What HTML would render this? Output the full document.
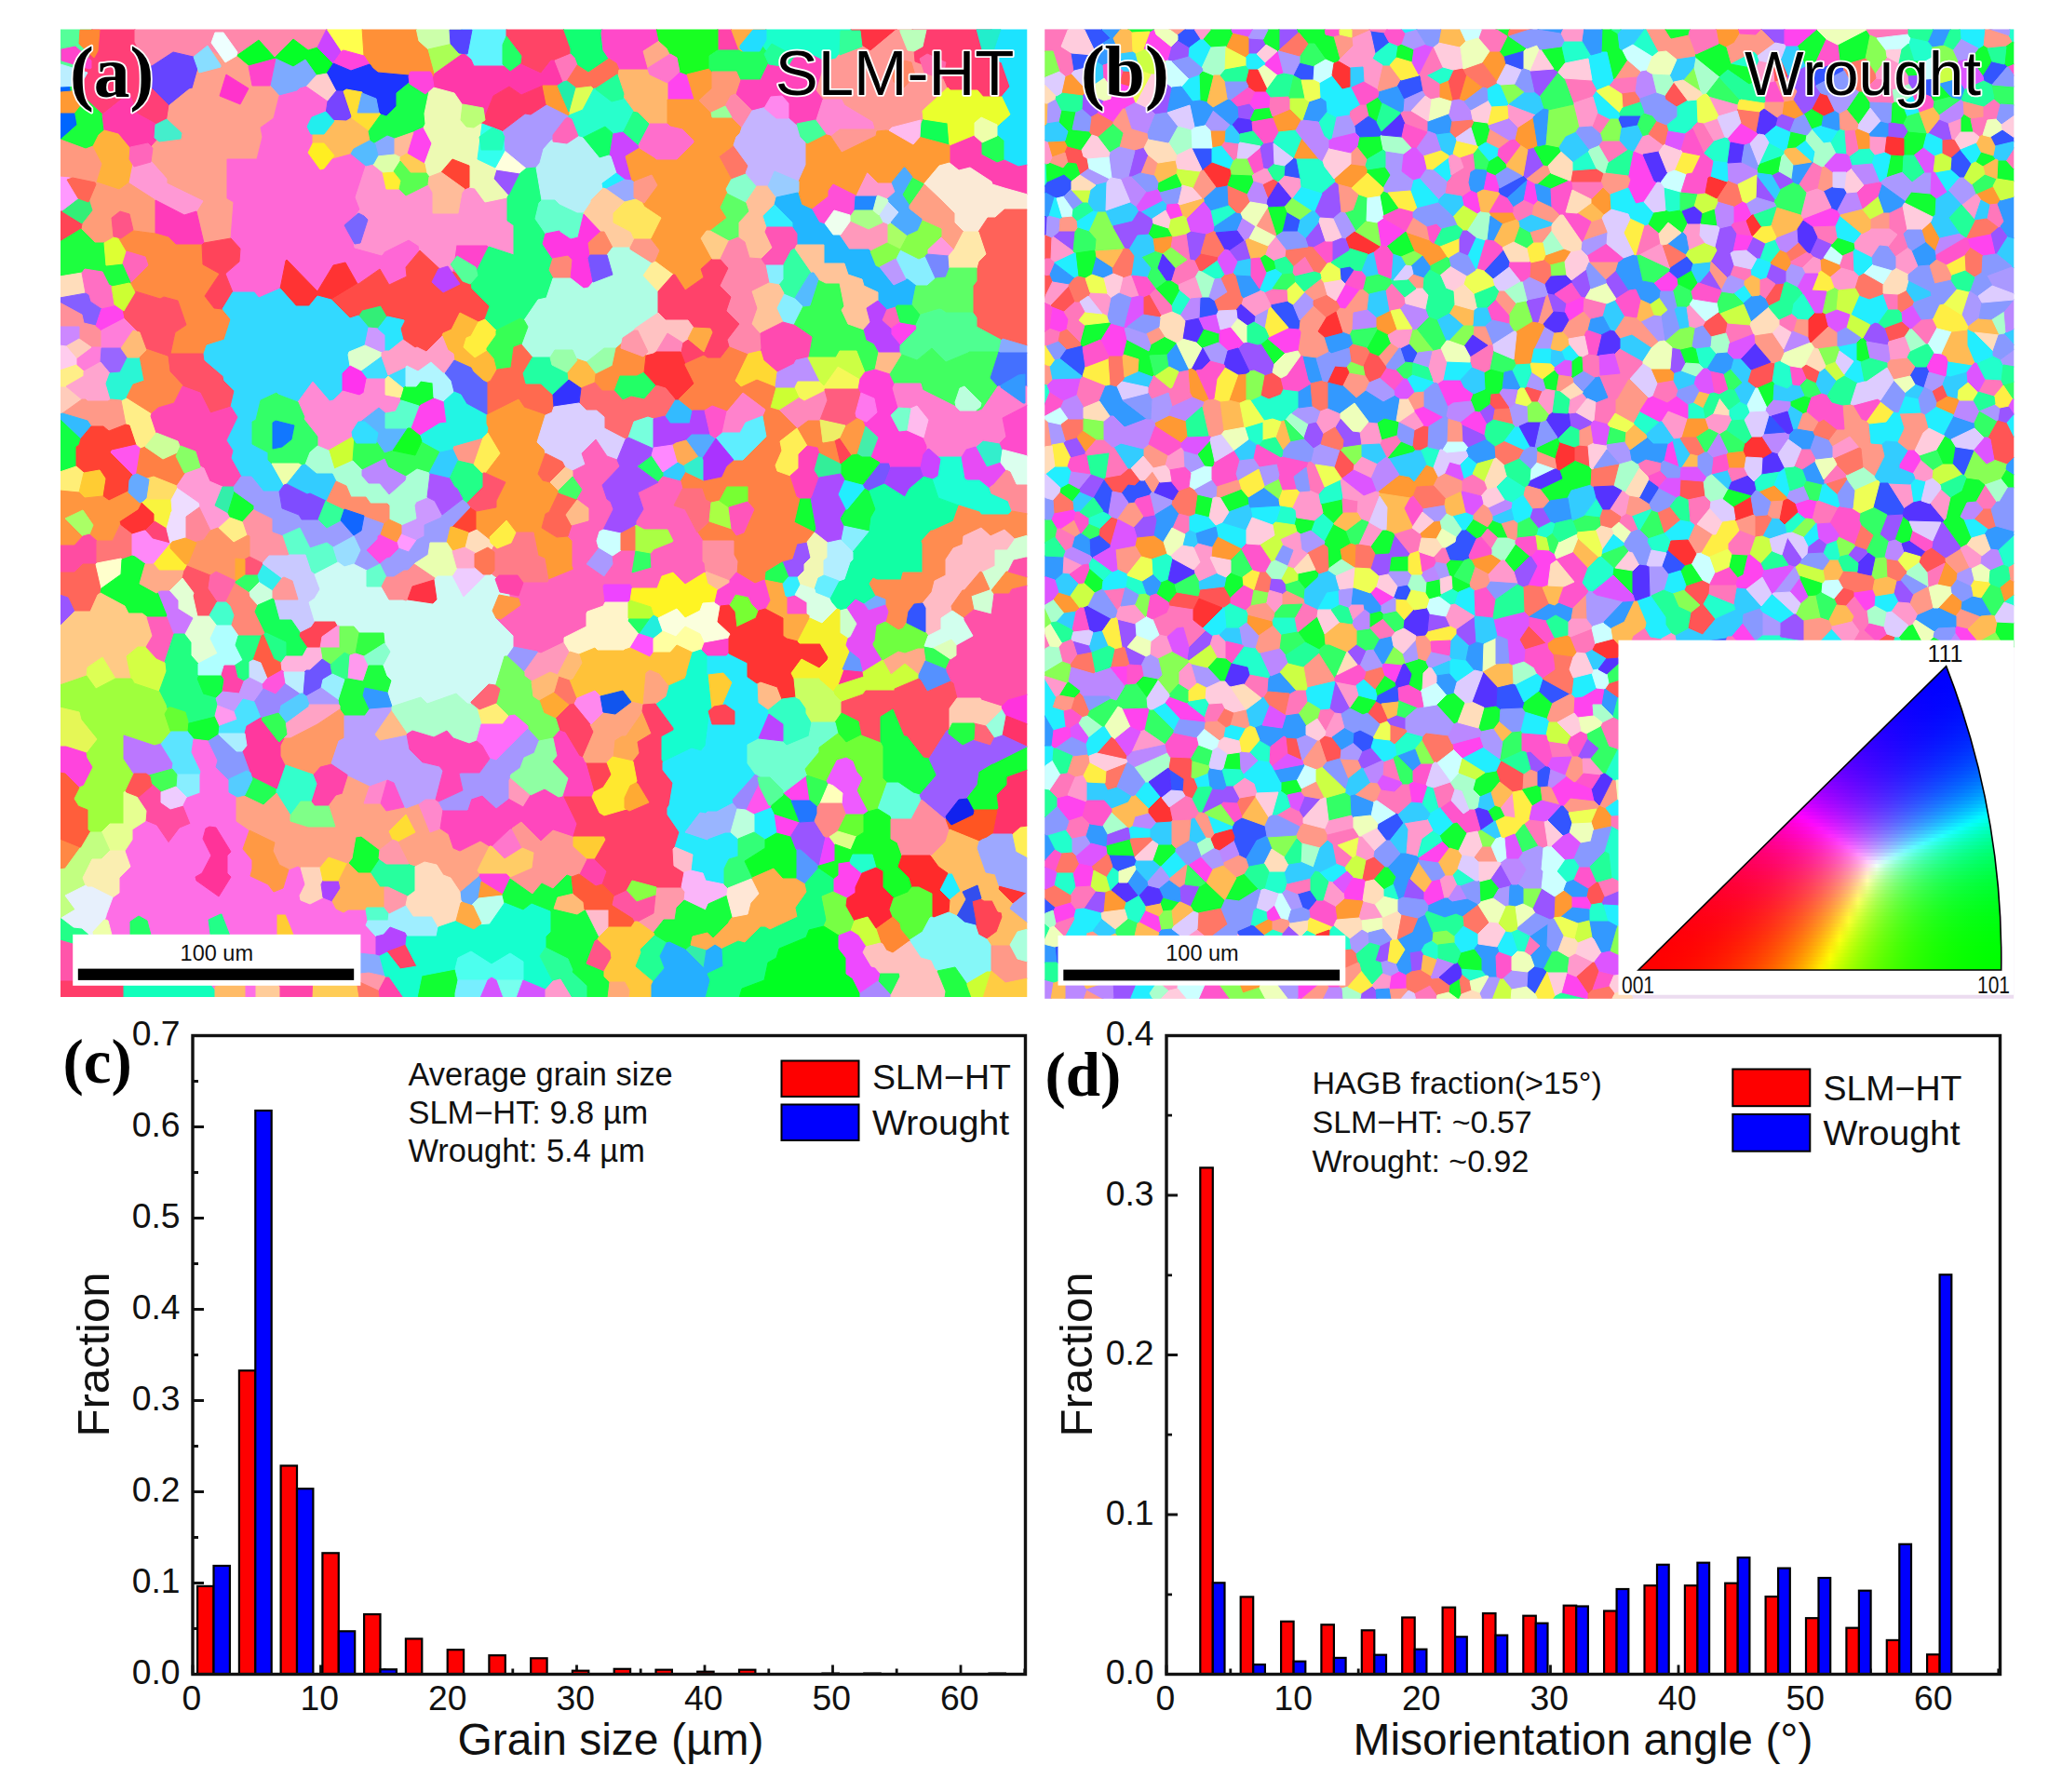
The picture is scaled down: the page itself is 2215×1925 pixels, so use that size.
<!DOCTYPE html>
<html><head><meta charset="utf-8"><title>EBSD figure</title>
<style>html,body{margin:0;padding:0;background:#fff}body{width:2215px;height:1925px;position:relative;overflow:hidden}#ipf{position:absolute;left:1756px;top:712px;width:400px;height:332px;clip-path:path("M4.0 330.0 L334.6 3.6 A868 868 0 0 1 393.7 330.0 Z");overflow:hidden}#ipf i{display:block;height:4px;width:400px}</style></head>
<body>
<svg width="2215" height="1925" viewBox="0 0 2215 1925" style="position:absolute;left:0;top:0"><defs><clipPath id="ca"><rect x="65" y="31.4" width="1038.2" height="1039.6"/></clipPath><clipPath id="cb"><rect x="1122.3" y="31.4" width="1040.9" height="1041.4"/></clipPath></defs>
<g clip-path="url(#ca)" stroke-width="1" stroke-linejoin="round"><path fill="#55ff99" stroke="#55ff99" d="M71 85 92 72 96 61 99 30 64 30 64 85Z"/><path fill="#ff3f77" stroke="#ff3f77" d="M99 30 96 61 92 72 71 85 75 90 110 123 139 100 147 122 178 139 182 113 151 82 158 72 145 45 145 30Z"/><path fill="#ff88ab" stroke="#ff88ab" d="M341 51 351 31 351 30 314 30 278 30 230 30 183 30 145 30 145 45 158 72 163 71 186 56 216 63 229 56 236 60 254 60 278 43 295 62 315 42 331 54Z"/><path fill="#6644ff" stroke="#6644ff" d="M216 63 186 56 163 71 158 72 151 82 182 113 203 96 207 95Z"/><path fill="#05ff27" stroke="#05ff27" d="M278 43 254 60 267 71 296 63 296 63 315 72 328 64 340 81 351 79 358 68 358 68 341 51 331 54 315 42 295 62Z"/><path fill="#cc44ff" stroke="#cc44ff" d="M341 51 358 68 367 55 351 31ZM686 156 669 141 658 143 654 167 656 168 662 186 671 193 679 194 672 168 687 159Z"/><path fill="#ffff4d" stroke="#ffff4d" d="M351 30 351 31 367 55 369 54 391 60 389 30 381 30Z"/><path fill="#ff9037" stroke="#ff9037" d="M447 30 419 30 389 30 391 60 397 69 398 70 400 73 406 78 439 81 443 86 462 93 467 79 460 53 450 44Z"/><path fill="#ff44dd" stroke="#ff44dd" d="M367 55 358 68 358 68 377 76 397 69 391 60 369 54ZM93 808 71 801 64 801 64 830 70 831 85 846 90 844 100 824 94 814ZM548 944 548 942 544 938 515 938 514 941 517 947 540 961Z"/><path fill="#7daaff" stroke="#7daaff" d="M329 93 340 81 328 64 315 72 296 63 290 92 300 103 319 98 322 95Z"/><path fill="#1b34ff" stroke="#1b34ff" d="M361 98 369 98 372 96 389 99 389 100 404 106 407 121 409 123 415 125 426 114 426 100 443 86 439 81 406 78 400 73 398 70 397 69 377 76 358 68 351 79Z"/><path fill="#ffcccc" stroke="#ffcccc" d="M361 98 351 79 340 81 329 93 352 109Z"/><path fill="#ffa18d" stroke="#ffa18d" d="M229 56 216 63 207 95 203 96 182 113 178 139 178 139 155 165 179 192 179 197 218 216 211 227 219 261 248 256 251 217 244 213 244 171 276 171 282 147 280 137 294 127 300 103 290 92 271 92 267 71 254 60 236 60ZM243 80 267 95 258 112 236 103Z"/><path fill="#ff33cc" stroke="#ff33cc" d="M243 80 236 103 258 112 267 95Z"/><path fill="#ff44cc" stroke="#ff44cc" d="M271 92 290 92 296 63 296 63 267 71ZM523 263 490 263 486 292 505 299 509 297 525 265ZM756 690 753 698 760 705 780 705 783 702 783 685Z"/><path fill="#0066ff" stroke="#0066ff" d="M75 90 71 85 64 85 64 150 65 150 83 134Z"/><path fill="#1aff3c" stroke="#1aff3c" d="M112 140 110 123 75 90 83 134 65 150 92 160 100 157 106 145Z"/><path fill="#ff3baa" stroke="#ff3baa" d="M127 144 146 167 155 165 178 139 178 139 147 122 139 100 110 123 112 140Z"/><path fill="#ff67d6" stroke="#ff67d6" d="M282 147 276 171 244 171 244 213 251 217 248 256 258 267 257 281 242 294 250 314 273 314 278 320 301 310 307 280 308 279 341 313 358 285 371 282 384 305 385 305 408 289 418 306 437 297 436 287 451 269 450 264 439 257 413 270 410 274 381 266 376 239 387 225 382 212 395 172 395 169 394 168 379 164 346 173 336 160 336 141 338 137 349 129 352 109 329 93 322 95 319 98 300 103 294 127 280 137Z"/><path fill="#7744ff" stroke="#7744ff" d="M369 98 361 98 352 109 349 129 372 130 377 127 378 125Z"/><path fill="#ffde33" stroke="#ffde33" d="M369 98 378 125 377 127 396 141 409 123 407 121 384 121 389 100 389 99 372 96Z"/><path fill="#66aaff" stroke="#66aaff" d="M389 100 384 121 407 121 404 106ZM514 965 517 947 514 941 494 958 495 967 502 977Z"/><path fill="#ffbb5c" stroke="#ffbb5c" d="M394 168 399 156 396 141 377 127 372 130 349 129 338 137 336 141 336 160 346 173 379 164Z"/><path fill="#18ff4b" stroke="#18ff4b" d="M426 100 426 114 415 125 409 123 396 141 399 156 416 146 424 149 444 142 446 141 455 137 457 133 456 122 462 93 462 93 443 86Z"/><path fill="#ff997f" stroke="#ff997f" d="M64 190 75 191 93 201 104 196 110 176 100 157 92 160 65 150 64 150Z"/><path fill="#ffb23b" stroke="#ffb23b" d="M110 176 104 196 128 204 139 196 144 171 146 167 127 144 112 140 106 145 100 157Z"/><path fill="#ff99ff" stroke="#ff99ff" d="M93 207 93 201 75 191 64 190 64 227 67 227ZM428 589 439 593 448 580 431 573 426 582Z"/><path fill="#ff9d78" stroke="#ff9d78" d="M128 204 104 196 93 201 93 207 99 226 88 240 87 246 102 261 112 261 126 253 129 246 167 251 167 215 167 214 139 196Z"/><path fill="#ff99d5" stroke="#ff99d5" d="M155 165 146 167 144 171 139 196 167 214 167 215 198 231 211 227 218 216 179 197 179 192Z"/><path fill="#ff92d0" stroke="#ff92d0" d="M382 212 387 225 376 239 381 266 410 274 413 270 439 257 450 264 451 269 479 295 486 292 490 263 523 263 525 265 552 274 552 274 552 242 545 237 545 212 521 217 510 202 504 201 499 203 496 207 492 229 465 229 465 207 460 198 436 210 429 203 415 203 411 185 395 172Z"/><path fill="#ff4455" stroke="#ff4455" d="M64 260 87 246 88 240 67 227 64 227ZM915 489 902 470 896 473 902 498 903 499ZM338 667 334 673 322 679 321 683 330 696 344 696 346 684 363 672 360 667ZM657 832 652 819 629 819 638 851 648 846ZM1044 968 1048 991 1048 994 1048 995 1051 1004 1060 1009 1071 1001 1077 985 1076 980 1072 979 1066 967 1057 967 1054 965Z"/><path fill="#33ee77" stroke="#33ee77" d="M88 240 99 226 93 207 67 227ZM385 339 396 352 406 353 416 340 409 328 389 333Z"/><path fill="#1dff3f" stroke="#1dff3f" d="M64 260 64 266 64 297 88 293 91 289 110 292 117 306 134 314 139 311 141 303 132 283 114 285 112 261 102 261 87 246Z"/><path fill="#ff3bba" stroke="#ff3bba" d="M167 215 167 251 167 251 181 255 189 263 217 263 219 261 211 227 198 231Z"/><path fill="#ddff33" stroke="#ddff33" d="M136 270 126 253 112 261 114 285 132 283Z"/><path fill="#ff8b41" stroke="#ff8b41" d="M126 253 136 270 156 276 159 285 141 303 139 311 172 321 176 319 191 323 200 349 188 357 183 380 219 380 222 371 241 365 248 343 239 332 230 331 220 318 236 294 218 284 217 263 189 263 181 255 167 251 167 251 129 246Z"/><path fill="#ff66bb" stroke="#ff66bb" d="M159 285 156 276 136 270 132 283 141 303ZM947 344 957 353 967 346 962 329 952 332Z"/><path fill="#ff445a" stroke="#ff445a" d="M258 267 248 256 219 261 217 263 218 284 236 294 220 318 230 331 239 332 250 314 242 294 257 281Z"/><path fill="#ffddbb" stroke="#ffddbb" d="M88 293 64 297 64 320 92 315ZM499 588 523 601 532 584 512 568 503 572Z"/><path fill="#ff6fc3" stroke="#ff6fc3" d="M92 315 95 317 97 324 109 332 131 327 134 314 117 306 110 292 91 289 88 293Z"/><path fill="#855fff" stroke="#855fff" d="M92 315 64 320 64 325 88 338 90 347 103 350 109 332 97 324 95 317Z"/><path fill="#ff909a" stroke="#ff909a" d="M88 338 64 325 64 351 85 351 85 364 98 373 109 373 109 355 103 350 90 347Z"/><path fill="#ff44ee" stroke="#ff44ee" d="M746 107 738 80 730 77 717 89 717 107ZM456 176 464 154 455 137 446 141 444 142 437 165ZM109 332 103 350 109 355 134 342 131 327ZM451 468 472 455 480 454 477 431 466 427 452 434 451 435 450 436 441 460ZM859 883 859 883 831 874 834 895 849 899ZM967 346 957 353 957 359 967 371 985 353 984 349ZM850 860 870 860 866 833 841 852ZM900 940 895 944 895 958 910 965 919 959 919 953 926 938 914 928 913 925 900 927Z"/><path fill="#cc88ff" stroke="#cc88ff" d="M71 372 85 364 85 351 64 351 64 371Z"/><path fill="#ff7eda" stroke="#ff7eda" d="M148 356 134 342 109 355 109 373 98 373 82 385 82 392 90 399 108 389 109 374 142 374 147 372Z"/><path fill="#ffccbb" stroke="#ffccbb" d="M85 364 71 372 82 385 98 373ZM71 415 64 415 64 445 67 444 88 429Z"/><path fill="#ff5167" stroke="#ff5167" d="M134 314 131 327 134 342 148 356 147 372 148 372 180 383 182 399 196 414 196 415 215 422 226 444 248 437 252 420 241 409 240 404 220 387 219 380 183 380 188 357 200 349 191 323 176 319 172 321 139 311Z"/><path fill="#ff3333" stroke="#ff3333" d="M371 282 358 285 341 313 308 279 307 280 301 310 318 329 332 329 341 318 356 322 384 305ZM148 547 128 560 129 564 142 574 155 570 156 570 166 560 166 552 152 539ZM1073 951 1072 955 1088 971 1103 959Z"/><path fill="#ff4b47" stroke="#ff4b47" d="M384 305 356 322 376 342 385 339 389 333 409 328 416 340 434 344 434 345 430 353 433 365 446 374 448 373 458 378 475 361 476 358 485 354 494 336 514 346 521 343 526 329 507 310 505 299 486 292 479 295 451 269 436 287 437 297 418 306 408 289 385 305Z"/><path fill="#33d9ff" stroke="#33d9ff" d="M222 371 219 380 220 387 240 404 241 409 252 420 248 437 255 448 243 473 250 484 248 492 259 512 270 512 283 528 300 528 305 521 292 498 288 494 288 486 271 477 271 453 275 451 280 430 297 422 299 424 320 432 336 410 354 431 358 430 368 420 368 401 376 393 374 381 375 378 392 371 396 352 385 339 376 342 356 322 341 318 332 329 318 329 301 310 278 320 273 314 250 314 239 332 248 343 241 365Z"/><path fill="#cc99ff" stroke="#cc99ff" d="M414 360 406 353 396 352 392 371 410 379 414 377ZM475 553 467 538 459 534 447 539 445 543 447 557 431 564 431 573 448 580 456 576 456 564 474 556Z"/><path fill="#ffccee" stroke="#ffccee" d="M82 392 82 385 71 372 64 371 64 398Z"/><path fill="#9966ff" stroke="#9966ff" d="M129 400 142 374 109 374 108 389 118 401Z"/><path fill="#ffee88" stroke="#ffee88" d="M64 415 71 415 90 404 90 399 82 392 64 398ZM139 457 146 478 151 482 156 480 168 465 162 447 163 444 136 427 130 430 135 456ZM247 555 234 567 251 583 266 575 261 560Z"/><path fill="#ffa5cf" stroke="#ffa5cf" d="M90 399 90 404 71 415 88 429 92 429 94 431 116 431 119 429 114 412 118 401 108 389Z"/><path fill="#2af6d5" stroke="#2af6d5" d="M155 409 148 372 147 372 142 374 129 400 118 401 114 412 119 429 130 430 136 427 143 413Z"/><path fill="#ff8849" stroke="#ff8849" d="M155 409 143 413 136 427 163 444 170 438 187 433 196 415 196 414 182 399 180 383 148 372Z"/><path fill="#ff49b2" stroke="#ff49b2" d="M187 433 170 438 163 444 162 447 168 465 191 474 195 484 204 491 207 497 219 503 225 517 239 523 251 523 259 512 248 492 250 484 243 473 255 448 248 437 226 444 215 422 196 415Z"/><path fill="#ddffcc" stroke="#ddffcc" d="M410 379 392 371 375 378 374 381 376 393 388 399 410 383Z"/><path fill="#3eddff" stroke="#3eddff" d="M394 407 414 407 417 404 433 417 436 415 436 394 417 403 410 383 388 399Z"/><path fill="#ff33ee" stroke="#ff33ee" d="M368 401 368 420 386 425 391 422 394 407 388 399 376 393Z"/><path fill="#ff8ad4" stroke="#ff8ad4" d="M394 407 391 422 386 425 368 420 358 430 354 431 336 410 320 432 327 448 326 450 341 469 341 479 353 484 381 468 382 467 383 466 385 455 407 438 414 444 425 442 431 430 430 427 414 424 414 407Z"/><path fill="#33ff68" stroke="#33ff68" d="M341 479 341 469 326 450 327 448 320 432 299 424 297 422 280 430 275 451 271 453 271 477 288 486 288 494 292 498 321 498 324 500 328 499 333 486ZM316 457 313 472 303 480 293 482 293 454 296 452Z"/><path fill="#ff9988" stroke="#ff9988" d="M709 269 699 256 681 256 676 266 676 268 700 283 704 281ZM67 444 94 452 98 458 111 458 117 463 135 456 130 430 119 429 116 431 94 431 92 429 88 429ZM509 499 519 470 487 479 486 482 492 495ZM1066 1044 1080 1056 1104 1051 1104 1033 1093 1030 1085 1015 1064 1015 1064 1043 1065 1043Z"/><path fill="#11ff44" stroke="#11ff44" d="M64 507 82 501 82 480 85 478 87 471 64 449 64 480ZM910 547 908 547 902 557 906 565 934 571 934 571 936 556 941 547 934 527 929 524ZM213 725 211 729 218 746 232 750 239 743 241 730 238 725Z"/><path fill="#33bbff" stroke="#33bbff" d="M725 429 714 447 720 455 741 455 744 441 729 429ZM98 458 94 452 67 444 64 445 64 449 87 471Z"/><path fill="#ff4233" stroke="#ff4233" d="M135 456 117 463 111 458 98 458 87 471 85 478 82 480 82 501 90 508 107 505 113 514 110 533 117 538 148 523 148 517 146 514 146 513 119 486 120 484 146 478 139 457Z"/><path fill="#ff55ee" stroke="#ff55ee" d="M151 482 146 478 120 484 119 486 146 513ZM818 835 801 870 810 875 828 868 834 852 822 836Z"/><path fill="#ff8044" stroke="#ff8044" d="M146 514 148 517 165 512 190 522 207 497 204 491 195 484 175 493 156 480 151 482 146 513Z"/><path fill="#ccff99" stroke="#ccff99" d="M168 465 156 480 175 493 195 484 191 474Z"/><path fill="#1177ff" stroke="#1177ff" d="M293 482 303 480 313 472 316 457 296 452 293 454Z"/><path fill="#eeffaa" stroke="#eeffaa" d="M321 498 292 498 305 521 308 520 324 500Z"/><path fill="#5cb4ff" stroke="#5cb4ff" d="M414 444 407 438 385 455 383 466 402 471 413 487 422 484 438 460 414 460Z"/><path fill="#ccff33" stroke="#ccff33" d="M837 441 859 427 854 416 833 416 827 438ZM359 504 379 495 381 468 353 484ZM1060 1043 1038 1056 1038 1058 1043 1072 1056 1072 1065 1043 1064 1043Z"/><path fill="#33ff55" stroke="#33ff55" d="M980 190 969 209 977 221 993 198 993 197ZM402 471 383 466 382 467 381 468 379 495 389 505 413 493 417 502 436 512 448 504 461 508 473 485 453 474 446 489 422 484 413 487ZM1021 708 1003 696 993 694 992 696 994 710 1016 719ZM870 860 878 867 881 863 890 842 888 839 867 832 866 833Z"/><path fill="#aaffd5" stroke="#aaffd5" d="M333 486 328 499 340 509 357 509 361 517 372 522 377 534 393 534 398 541 416 541 418 543 418 558 431 564 447 557 445 543 447 539 459 534 462 509 461 508 448 504 436 512 435 516 418 531 408 519 396 519 389 511 389 505 379 495 359 504 353 484 341 479Z"/><path fill="#bb88ff" stroke="#bb88ff" d="M408 519 418 531 435 516 436 512 417 502 413 493 389 505 389 511 396 519Z"/><path fill="#33ccff" stroke="#33ccff" d="M461 508 462 509 483 514 492 495 486 482 473 485ZM728 496 712 507 712 512 731 517 737 507 735 500ZM308 520 330 531 333 530 350 538 351 538 361 517 357 509 340 509 328 499 324 500Z"/><path fill="#ffee77" stroke="#ffee77" d="M64 507 64 527 85 529 90 508 82 501ZM517 778 540 778 547 769 526 748 511 757Z"/><path fill="#ffcc33" stroke="#ffcc33" d="M85 529 91 535 110 533 113 514 107 505 90 508ZM775 761 787 733 777 722 760 724 764 762ZM651 902 649 898 616 898 615 899 615 909 630 923 639 923ZM297 982 297 1019 320 1014 307 982Z"/><path fill="#ff963f" stroke="#ff963f" d="M148 523 117 538 110 533 91 535 85 529 64 527 64 557 64 586 80 586 89 576 70 557 89 548 100 564 96 574 104 581 121 581 129 564 128 560 148 547 152 539 152 537Z"/><path fill="#aaff66" stroke="#aaff66" d="M953 241 953 261 967 268 975 253 957 239ZM70 557 89 576 96 574 100 564 89 548Z"/><path fill="#ffdd66" stroke="#ffdd66" d="M184 537 191 524 190 522 165 512 148 517 148 523 152 537Z"/><path fill="#f9f43e" stroke="#f9f43e" d="M184 537 152 537 152 539 166 552 166 560 179 568 184 550 185 549Z"/><path fill="#ff4477" stroke="#ff4477" d="M166 560 156 570 164 579 183 584 183 584 179 568Z"/><path fill="#eeddff" stroke="#eeddff" d="M215 543 214 540 191 524 184 537 185 549 184 550 179 568 183 584 198 586 200 585 200 555 214 545Z"/><path fill="#ff9bd6" stroke="#ff9bd6" d="M207 497 190 522 191 524 214 540 215 543 214 545 226 570 234 567 247 555 245 551 231 543 239 523 225 517 219 503Z"/><path fill="#ff8899" stroke="#ff8899" d="M200 585 219 580 226 570 214 545 200 555Z"/><path fill="#33eeaa" stroke="#33eeaa" d="M239 523 231 543 245 551 252 528 251 523ZM736 1020 756 1040 759 1020 742 1015Z"/><path fill="#11ff33" stroke="#11ff33" d="M433 417 430 427 431 430 450 436 451 435 452 434 466 427 465 411 452 409 447 415 436 415ZM273 543 252 528 245 551 247 555 261 560 273 547ZM224 796 235 789 235 788 236 780 231 769 195 778 208 794ZM374 927 385 938 398 938 408 923 407 922 408 913 388 898 382 899 378 922ZM489 1072 489 1067 492 1053 489 1041 453 1048 448 1072ZM853 561 875 572 877 568 871 535 859 535ZM1066 820 1051 829 1049 843 1035 861 1035 862 1046 870 1071 870 1073 868 1071 854 1082 843 1082 835 1104 827 1104 802 1103 802 1067 820ZM841 852 834 852 828 868 831 874 859 883 850 860Z"/><path fill="#ff94a3" stroke="#ff94a3" d="M293 557 273 547 261 560 266 575 268 576 268 598 282 605 289 597 309 597 311 596 304 575 293 571Z"/><path fill="#9b9dff" stroke="#9b9dff" d="M273 543 273 547 293 557 293 571 304 575 322 567 333 589 351 583 358 588 380 576 387 591 380 606 394 613 408 606 415 620 423 620 434 613 438 613 445 606 446 605 460 596 462 583 480 583 484 566 486 566 506 545 502 540 497 536 475 553 474 556 456 564 456 576 448 580 439 593 428 589 419 598 415 599 408 605 394 591 406 579 406 576 409 574 413 562 391 554 388 570 380 575 366 559 351 567 342 558 324 558 321 553 303 546 300 528 283 528 270 512 259 512 251 523 252 528Z"/><path fill="#7f4cff" stroke="#7f4cff" d="M300 528 303 546 321 553 324 558 342 558 350 538 333 530 330 531 308 520 305 521Z"/><path fill="#33ff99" stroke="#33ff99" d="M342 558 351 567 366 559 370 547 351 538 350 538Z"/><path fill="#ff8e6c" stroke="#ff8e6c" d="M370 547 391 554 413 562 418 558 418 543 416 541 398 541 393 534 377 534 372 522 361 517 351 538Z"/><path fill="#1166ff" stroke="#1166ff" d="M391 554 370 547 366 559 380 575 388 570Z"/><path fill="#5fffcc" stroke="#5fffcc" d="M322 567 304 575 311 596 328 596 334 614 338 617 363 604 358 588 351 583 333 589Z"/><path fill="#ff4ca2" stroke="#ff4ca2" d="M104 581 96 574 89 576 80 586 64 586 64 615 80 615 89 606 103 606 104 605Z"/><path fill="#ff7677" stroke="#ff7677" d="M129 564 121 581 104 581 104 605 130 600 131 601 142 597 142 574Z"/><path fill="#ff665a" stroke="#ff665a" d="M89 606 80 615 64 615 64 639 73 642 80 657 97 657 105 639 108 637 109 632 103 606Z"/><path fill="#ffffcc" stroke="#ffffcc" d="M131 601 130 600 104 605 103 606 109 632 130 617Z"/><path fill="#ff88f8" stroke="#ff88f8" d="M156 570 155 570 142 574 142 597 145 598 156 606 165 606 183 584 164 579Z"/><path fill="#ffee33" stroke="#ffee33" d="M423 184 411 185 415 203 429 203 431 194ZM198 613 201 608 198 586 183 584 183 584 165 606 171 613Z"/><path fill="#ff9566" stroke="#ff9566" d="M263 601 268 598 268 576 266 575 251 583 234 567 226 570 219 580 200 585 198 586 201 608 226 618 232 614 253 624 253 600Z"/><path fill="#ff5577" stroke="#ff5577" d="M268 598 263 601 263 618 277 618 283 606 282 605Z"/><path fill="#ffaa33" stroke="#ffaa33" d="M253 624 253 625 263 618 263 601 253 600ZM595 743 579 752 584 766 597 772 612 757Z"/><path fill="#11ff36" stroke="#11ff36" d="M145 598 142 597 131 601 130 617 109 632 108 637 134 651 138 659 153 659 158 663 179 663 180 661 170 636 168 637 150 627 156 606Z"/><path fill="#ffab88" stroke="#ffab88" d="M165 606 156 606 150 627 168 637 170 636 173 635 182 635 196 621 198 613 171 613Z"/><path fill="#ff5566" stroke="#ff5566" d="M198 613 196 621 208 637 207 640 212 662 237 662 238 661 239 654 224 632 226 618 201 608Z"/><path fill="#ff66aa" stroke="#ff66aa" d="M253 625 253 624 232 614 226 618 224 632 239 654 240 652 253 626Z"/><path fill="#e3ffd4" stroke="#e3ffd4" d="M196 621 182 635 191 645 191 654 207 664 198 681 205 690 205 704 213 713 234 702 226 686 237 662 212 662 207 640 208 637Z"/><path fill="#cc77ff" stroke="#cc77ff" d="M191 645 182 635 173 635 170 636 180 661 179 663 186 681 187 681 198 681 207 664 191 654Z"/><path fill="#ff8877" stroke="#ff8877" d="M593 277 589 290 594 299 613 299 615 279 610 274ZM268 636 253 626 240 652 239 654 238 661 242 663 256 683 281 683 283 682 285 680 274 657 277 650 269 641Z"/><path fill="#33ff66" stroke="#33ff66" d="M699 594 682 591 682 591 678 615 679 616 700 610ZM253 625 253 626 268 636 279 625 277 618 263 618Z"/><path fill="#ccffdd" stroke="#ccffdd" d="M269 641 277 650 293 643 293 634 279 625 268 636Z"/><path fill="#33eeee" stroke="#33eeee" d="M277 618 279 625 293 634 303 621 283 606Z"/><path fill="#c9c9ff" stroke="#c9c9ff" d="M305 620 314 624 320 644 294 644 300 666 313 666 322 679 334 673 338 667 332 647 338 643 344 633 338 617 334 614 328 596 311 596 309 597 289 597 282 605 283 606 303 621Z"/><path fill="#ff9999" stroke="#ff9999" d="M305 620 303 621 293 634 293 643 294 644 320 644 314 624Z"/><path fill="#99ddff" stroke="#99ddff" d="M380 576 358 588 363 604 370 609 380 606 387 591Z"/><path fill="#ff4ce5" stroke="#ff4ce5" d="M419 598 428 589 426 582 409 574 406 576 406 579 394 591 408 605 415 599Z"/><path fill="#cefaf5" stroke="#cefaf5" d="M394 630 394 613 380 606 370 609 363 604 338 617 344 633 338 643 332 647 338 667 360 667 363 672 365 673 380 673 386 680 412 680 413 691 419 700 411 715 415 726 420 731 416 744 421 759 452 749 459 756 490 745 502 756 511 757 526 748 530 739 532 738 542 705 545 705 552 695 552 683 533 664 533 660 548 641 548 631 525 614 498 641 486 618 470 618 467 621 466 623 469 644 465 648 438 644 436 645 433 644 418 644 410 630Z"/><path fill="#66ffcc" stroke="#66ffcc" d="M394 613 394 630 410 630 415 620 408 606Z"/><path fill="#9955ff" stroke="#9955ff" d="M559 186 533 182 530 192 546 210 547 210ZM851 600 840 603 847 620 857 620 864 613 864 606 871 599 867 582 856 584ZM64 639 64 673 80 657 73 642ZM849 899 854 912 855 913 860 913 879 930 880 930 887 899 885 898 875 882 859 883Z"/><path fill="#ffca86" stroke="#ffca86" d="M108 637 105 639 97 657 80 657 64 673 64 690 64 736 93 726 94 717 110 706 124 729 141 729 136 705 148 695 157 695 164 683 158 663 153 659 138 659 134 651Z"/><path fill="#d4ff44" stroke="#d4ff44" d="M141 729 142 730 144 734 171 743 179 721 178 712 177 711 168 707 157 695 148 695 136 705Z"/><path fill="#ddff55" stroke="#ddff55" d="M611 120 611 124 611 124 626 118 638 95 635 92 618 94ZM94 717 93 726 103 740 124 729 110 706Z"/><path fill="#ff5fbb" stroke="#ff5fbb" d="M164 683 157 695 168 707 177 711 187 681 186 681 179 663 158 663Z"/><path fill="#22ff81" stroke="#22ff81" d="M178 712 179 721 171 743 178 757 179 761 191 773 192 776 195 778 231 769 234 757 232 750 218 746 211 729 213 725 213 713 205 704 205 690 198 681 187 681 177 711Z"/><path fill="#afffff" stroke="#afffff" d="M234 702 213 713 213 725 238 725 241 715 252 715 261 709 253 693 256 683 242 663 238 661 237 662 226 686Z"/><path fill="#22ff82" stroke="#22ff82" d="M253 693 261 709 252 715 255 728 262 732 268 728 268 711 272 709 281 683 256 683Z"/><path fill="#ff44aa" stroke="#ff44aa" d="M771 54 794 54 785 30 771 30ZM239 743 257 745 262 732 255 728 252 715 241 715 238 725 241 730ZM368 853 374 834 374 832 356 820 344 823 336 832 340 842 334 861 338 866 353 866 361 855ZM640 952 647 950 652 936 639 923 630 923 622 939ZM336 1072 337 1047 278 1064 275 1072ZM406 1064 407 1072 434 1072 418 1049 414 1049 414 1049Z"/><path fill="#15ff59" stroke="#15ff59" d="M294 644 293 643 277 650 274 657 285 680 286 680 307 690 307 705 325 705 330 696 321 683 322 679 313 666 300 666Z"/><path fill="#22ff88" stroke="#22ff88" d="M685 120 680 119 669 141 686 156 698 133ZM491 525 497 536 502 540 519 523 519 508 517 507 509 499 492 495 483 514 488 523ZM302 712 307 705 307 690 286 680 285 680 283 682 294 708ZM64 1006 64 1010 106 1022 103 1010 88 997 79 996 66 986 64 986Z"/><path fill="#ff5d44" stroke="#ff5d44" d="M272 709 280 712 287 729 303 720 302 712 294 708 283 682 281 683Z"/><path fill="#ff99dd" stroke="#ff99dd" d="M996 273 1019 275 1025 268 1011 254 996 268ZM363 672 346 684 344 696 365 696 365 673Z"/><path fill="#73ff5b" stroke="#73ff5b" d="M386 680 380 673 365 673 365 696 344 696 346 708 355 714 370 701 376 704 382 702Z"/><path fill="#33ff44" stroke="#33ff44" d="M412 680 386 680 382 702 391 705 413 691Z"/><path fill="#ffb3dd" stroke="#ffb3dd" d="M330 696 325 705 307 705 302 712 303 720 305 722 327 722 329 720 333 720 346 708 344 696Z"/><path fill="#6d55ff" stroke="#6d55ff" d="M357 724 355 714 346 708 333 720 329 720 327 722 325 745 329 748 345 739 347 730Z"/><path fill="#33ff88" stroke="#33ff88" d="M370 701 355 714 357 724 370 730 374 729 376 704Z"/><path fill="#ff99ee" stroke="#ff99ee" d="M376 704 374 729 390 732 391 730 396 715 391 705 382 702ZM236 780 255 773 252 764 234 757 231 769Z"/><path fill="#88ffcc" stroke="#88ffcc" d="M785 192 779 203 781 208 801 218 813 200 801 186ZM391 705 396 715 411 715 419 700 413 691Z"/><path fill="#1eff40" stroke="#1eff40" d="M396 715 391 730 390 732 374 729 370 730 363 752 364 757 365 758 365 762 370 769 392 769 397 762 390 747 392 739 416 744 420 731 415 726 411 715Z"/><path fill="#ccddff" stroke="#ccddff" d="M944 231 948 239 953 241 957 239 966 228 954 216ZM268 711 268 728 282 735 287 729 280 712 272 709Z"/><path fill="#9fff3d" stroke="#9fff3d" d="M64 760 85 765 87 773 104 794 93 808 94 814 100 824 90 844 85 846 79 858 84 866 94 870 94 891 97 894 109 894 118 885 133 885 133 851 141 847 147 836 133 815 133 790 166 801 173 799 192 776 191 773 179 761 178 757 171 743 144 734 142 730 141 729 124 729 103 740 93 726 64 736Z"/><path fill="#e5f756" stroke="#e5f756" d="M85 765 64 760 64 801 71 801 93 808 104 794 87 773Z"/><path fill="#c399ff" stroke="#c399ff" d="M283 740 282 735 268 728 262 732 257 745 239 743 232 750 234 757 252 764 261 751 273 754Z"/><path fill="#ff55dd" stroke="#ff55dd" d="M282 735 283 740 296 746 307 734 305 722 303 720 287 729Z"/><path fill="#9988ff" stroke="#9988ff" d="M296 746 283 740 273 754 280 771 298 776 302 758 323 745 307 734ZM818 835 811 831 786 859 787 863 792 869 801 870Z"/><path fill="#bbeeff" stroke="#bbeeff" d="M325 745 327 722 305 722 307 734 323 745Z"/><path fill="#99eeff" stroke="#99eeff" d="M357 724 347 730 345 739 363 752 370 730Z"/><path fill="#aa99ff" stroke="#aa99ff" d="M611 124 611 124 587 112 570 123 564 122 539 141 540 142 542 162 565 181 576 180 580 175 584 160 592 151 603 147 608 143ZM629 606 649 620 659 606 658 597 643 588ZM332 757 364 757 363 752 345 739 329 748Z"/><path fill="#3399ff" stroke="#3399ff" d="M421 760 421 759 416 744 392 739 390 747 397 762Z"/><path fill="#55ccff" stroke="#55ccff" d="M332 759 332 757 329 748 325 745 323 745 302 758 298 776 302 781Z"/><path fill="#4be1ff" stroke="#4be1ff" d="M261 751 252 764 255 773 236 780 235 788 263 788 265 780 280 771 273 754Z"/><path fill="#ff389e" stroke="#ff389e" d="M298 776 280 771 265 780 263 788 265 801 260 807 268 829 267 833 297 848 298 848 307 822 302 812 302 801 306 793 302 781Z"/><path fill="#ffa3c5" stroke="#ffa3c5" d="M332 759 302 781 306 793 312 793 341 778 341 778 365 762 365 758 364 757 332 757Z"/><path fill="#ff9966" stroke="#ff9966" d="M370 769 365 762 341 778 341 778 312 793 306 793 302 801 302 812 307 822 336 832 344 823 356 820 364 796 370 793Z"/><path fill="#b9a0ff" stroke="#b9a0ff" d="M392 769 370 769 370 793 364 796 356 820 374 832 374 834 397 845 416 838 416 838 423 841 434 867 436 869 450 864 457 859 468 859 476 828 472 823 455 819 454 819 440 805 437 789 408 795 403 789 421 763 421 760 397 762Z"/><path fill="#ff5e3b" stroke="#ff5e3b" d="M70 831 64 830 64 858 64 887 64 902 86 911 87 911 97 894 94 891 94 870 84 866 79 858 85 846Z"/><path fill="#bb77ff" stroke="#bb77ff" d="M133 815 147 836 155 835 156 834 185 826 186 820 173 799 166 801 133 790Z"/><path fill="#5ce4ff" stroke="#5ce4ff" d="M208 794 195 778 192 776 173 799 186 820 185 826 190 832 215 832 216 829 206 808Z"/><path fill="#88eeff" stroke="#88eeff" d="M962 278 973 300 975 300 984 307 996 307 1005 299 994 275 987 278 967 268ZM822 284 826 304 837 306 842 300 842 284ZM853 349 863 329 854 320 842 315 834 331 841 346 852 349ZM916 593 934 571 906 565 903 580ZM215 832 190 832 189 845 201 857 215 852Z"/><path fill="#44ff55" stroke="#44ff55" d="M156 834 155 835 173 851 189 845 190 832 185 826Z"/><path fill="#ff4da2" stroke="#ff4da2" d="M157 871 156 882 168 887 181 906 193 890 205 885 197 865 183 869 173 862 173 851 155 835 147 836 141 847Z"/><path fill="#eeccff" stroke="#eeccff" d="M491 610 486 618 498 641 525 614 523 610ZM173 851 173 862 183 869 197 865 201 857 189 845Z"/><path fill="#fe6ee6" stroke="#fe6ee6" d="M216 829 215 832 215 852 201 857 197 865 205 885 193 890 181 906 168 887 156 882 142 891 142 902 134 914 140 931 128 943 128 959 121 964 114 983 114 984 103 1010 106 1022 107 1026 106 1032 106 1033 133 1056 176 1043 183 1031 205 1034 238 1072 275 1072 278 1064 337 1047 356 1030 358 1030 364 1025 377 1023 404 1026 404 1007 404 1006 393 994 395 989 393 977 374 977 369 980 361 976 357 968 347 964 333 971 323 967 322 962 328 950 323 932 320 930 310 934 304 954 294 958 288 950 269 941 271 933 271 924 261 912 268 892 267 891 254 882 254 851 253 849 254 846 232 824 234 817 224 796 208 794 206 808ZM211 946 210 942 217 938 227 919 218 901 221 890 225 888 232 889 248 915 244 919 244 938 248 942 235 963ZM320 1014 297 1019 297 982 307 982Z"/><path fill="#8899ff" stroke="#8899ff" d="M235 789 224 796 234 817 232 824 254 846 267 833 268 829 260 807 254 807Z"/><path fill="#aaeeff" stroke="#aaeeff" d="M235 788 235 789 254 807 260 807 265 801 263 788Z"/><path fill="#22ff55" stroke="#22ff55" d="M1066 140 1056 140 1054 143 1054 166 1071 175 1079 172 1079 151ZM989 338 980 327 964 327 962 329 967 346 984 349ZM847 620 840 603 840 603 822 614 821 623 841 627ZM254 851 283 865 297 852 297 848 267 833 254 846 253 849ZM966 1045 945 1045 943 1054 957 1069 967 1049Z"/><path fill="#33ffcc" stroke="#33ffcc" d="M307 822 298 848 297 848 297 852 312 876 323 861 334 861 340 842 336 832Z"/><path fill="#ffa384" stroke="#ffa384" d="M397 845 374 834 368 853 361 855 353 866 360 888 332 888 331 888 312 882 312 876 297 852 283 865 254 851 254 882 267 891 268 892 295 905 293 914 300 929 310 934 320 930 323 932 344 932 353 921 373 928 374 927 378 922 382 899 388 898 408 913 422 902 418 893 436 875 446 894 427 904 439 928 440 929 446 931 456 926 469 929 476 940 484 943 494 958 514 941 515 938 513 935 526 909 516 903 494 914 487 911 482 896 473 890 462 894 450 864 436 869 434 867 415 871 409 863 391 863Z"/><path fill="#ff88cc" stroke="#ff88cc" d="M397 845 391 863 409 863 416 838 416 838ZM450 864 462 894 473 890 476 870 471 861 468 859 457 859Z"/><path fill="#ff8844" stroke="#ff8844" d="M878 481 880 487 902 498 896 473 884 475 881 451 881 451 868 451 856 460 867 479ZM64 902 64 934 70 933 86 911Z"/><path fill="#e6ff91" stroke="#e6ff91" d="M157 871 141 847 133 851 133 885 118 885 109 894 118 914 134 914 142 902 142 891 156 882Z"/><path fill="#c2ff81" stroke="#c2ff81" d="M86 911 70 933 64 934 64 961 64 986 66 986 81 977 70 962 92 951 89 943 99 923 109 923 118 914 109 894 97 894 87 911Z"/><path fill="#ff3399" stroke="#ff3399" d="M906 719 900 736 928 727 928 727 927 722 926 721ZM225 888 221 890 218 901 227 919 217 938 210 942 211 946 235 963 248 942 244 938 244 919 248 915 232 889Z"/><path fill="#ff9944" stroke="#ff9944" d="M930 458 926 448 920 449 908 457 902 470 915 489 921 488ZM409 574 426 582 431 573 431 564 418 558 413 562ZM271 924 271 933 269 941 288 950 294 958 304 954 310 934 300 929 293 914 295 905 268 892 261 912Z"/><path fill="#7fff88" stroke="#7fff88" d="M331 888 332 888 360 888 353 866 338 866 334 861 323 861 312 876 312 882Z"/><path fill="#27ff9e" stroke="#27ff9e" d="M408 953 413 953 415 953 417 953 438 963 446 957 446 931 440 929 439 928 415 928 408 923 398 938Z"/><path fill="#faeeb1" stroke="#faeeb1" d="M140 931 134 914 118 914 109 923 99 923 89 943 92 951 94 953 99 953 121 964 128 959 128 943Z"/><path fill="#e7f0fc" stroke="#e7f0fc" d="M70 962 81 977 66 986 79 996 88 997 103 1010 114 984 114 983 121 964 99 953 94 953 92 951Z"/><path fill="#ffd4bb" stroke="#ffd4bb" d="M323 932 328 950 322 962 323 967 333 971 347 964 345 950 347 946 344 932Z"/><path fill="#aa44ff" stroke="#aa44ff" d="M347 946 345 950 347 964 357 968 366 954 364 946Z"/><path fill="#ffdd33" stroke="#ffdd33" d="M436 875 418 893 422 902 427 904 446 894ZM353 921 344 932 347 946 364 946 373 928Z"/><path fill="#ffb05a" stroke="#ffb05a" d="M398 938 385 938 374 927 373 928 364 946 366 954 357 968 361 976 369 980 374 977 393 977 394 975 413 975 413 953 408 953Z"/><path fill="#55ffcc" stroke="#55ffcc" d="M418 981 413 975 394 975 393 977 395 989 417 989Z"/><path fill="#9feeff" stroke="#9feeff" d="M417 989 395 989 393 994 404 1006 412 1004 419 996 435 1002 437 1006 469 1006 471 996 464 984 444 984 436 972 418 981Z"/><path fill="#ff55aa" stroke="#ff55aa" d="M107 1026 106 1022 64 1010 64 1032 64 1054 81 1054 100 1043 106 1033 106 1032Z"/><path fill="#ff3d69" stroke="#ff3d69" d="M133 1072 133 1056 106 1033 100 1043 81 1054 64 1054 64 1072 76 1072 99 1072Z"/><path fill="#b544ff" stroke="#b544ff" d="M436 1015 437 1006 435 1002 419 996 412 1004 404 1006 404 1007 404 1026 407 1027 408 1027 416 1023 417 1022Z"/><path fill="#88aaff" stroke="#88aaff" d="M424 149 416 146 399 156 394 168 395 169 424 166ZM1077 363 1075 365 1072 378 1073 378 1073 379 1104 379 1104 371ZM364 1025 358 1030 360 1034 379 1047 396 1045 414 1049 414 1049 408 1027 407 1027 404 1026 377 1023Z"/><path fill="#ff99aa" stroke="#ff99aa" d="M439 928 427 904 422 902 408 913 407 922 408 923 415 928ZM732 953 705 953 705 953 704 961 704 962 702 981 685 990 702 1002 713 988 725 988 727 975 735 967 736 958ZM413 953 413 975 418 981 436 972 438 963 417 953 415 953ZM414 1049 396 1045 379 1047 382 1053 406 1064Z"/><path fill="#ff7766" stroke="#ff7766" d="M772 168 785 192 801 186 804 178 788 156ZM612 757 617 756 620 750 612 730 600 726 595 743ZM385 1072 407 1072 406 1064 382 1053Z"/><path fill="#11ffbb" stroke="#11ffbb" d="M183 1031 176 1043 133 1056 133 1072 176 1072 238 1072 205 1034Z"/><path fill="#ffcc56" stroke="#ffcc56" d="M358 1030 356 1030 337 1047 336 1072 360 1072 385 1072 382 1053 379 1047 360 1034Z"/><path fill="#ccffaa" stroke="#ccffaa" d="M496 30 447 30 450 44 460 53 495 45Z"/><path fill="#aaff55" stroke="#aaff55" d="M495 45 460 53 467 79 498 57Z"/><path fill="#60f4ff" stroke="#60f4ff" d="M496 30 495 45 498 57 506 64 509 71 549 71 552 66 544 42 544 30Z"/><path fill="#ff4466" stroke="#ff4466" d="M613 58 613 52 605 30 584 30 544 30 544 42 552 66 553 66 581 79 592 65 596 65ZM617 756 612 757 597 772 601 785 607 787 622 812 626 814 638 786 634 778 635 778ZM448 1038 436 1015 417 1022 416 1023 430 1041Z"/><path fill="#11ff72" stroke="#11ff72" d="M647 30 605 30 613 52 613 58 617 62 620 70 632 78 654 63 648 54 646 36Z"/><path fill="#ff49c9" stroke="#ff49c9" d="M705 30 676 30 647 30 646 36 648 54 654 63 662 68 665 75 696 75 696 73 691 55 708 44Z"/><path fill="#ffaa88" stroke="#ffaa88" d="M720 58 717 52 708 44 691 55 696 73ZM994 710 992 696 986 696 972 701 965 699 948 709 957 725 972 713 987 725Z"/><path fill="#18ff22" stroke="#18ff22" d="M705 30 708 44 717 52 720 58 727 62 730 77 738 80 762 74 762 60 771 54 771 30 746 30 735 30Z"/><path fill="#ff38a9" stroke="#ff38a9" d="M506 64 498 57 467 79 462 93 462 93 488 100 510 132 518 133 530 103 547 93 560 102 583 92 599 92 605 88 596 65 592 65 581 79 553 66 552 66 549 71 509 71Z"/><path fill="#ff77bb" stroke="#ff77bb" d="M620 70 617 62 613 58 596 65 605 88 609 87Z"/><path fill="#ff7055" stroke="#ff7055" d="M638 95 661 98 665 75 662 68 654 63 632 78 620 70 609 87 618 94 635 92Z"/><path fill="#ffb76d" stroke="#ffb76d" d="M669 104 680 119 685 120 698 133 717 133 717 107 717 89 698 80 696 75 665 75 661 98 664 102Z"/><path fill="#ff77cc" stroke="#ff77cc" d="M717 89 730 77 727 62 720 58 696 73 696 75 698 80ZM542 923 561 911 550 890 548 890 528 909Z"/><path fill="#ff9b38" stroke="#ff9b38" d="M717 133 720 136 733 139 745 151 745 153 727 171 705 171 703 169 687 159 672 168 679 194 689 203 687 213 692 222 710 234 699 256 709 269 704 281 723 295 725 295 736 312 756 298 753 289 765 278 753 256 759 248 763 248 781 234 774 223 781 208 779 203 785 192 772 168 788 156 791 147 795 143 797 137 786 126 765 126 764 121 751 108 765 95 765 77 762 74 738 80 746 107 717 107Z"/><path fill="#edfab3" stroke="#edfab3" d="M462 93 456 122 457 133 455 137 464 154 456 176 458 186 461 190 474 185 486 171 504 178 504 201 510 202 521 217 545 212 546 210 530 192 533 182 532 180 513 171 518 133 518 133 510 132 488 100Z"/><path fill="#ff386b" stroke="#ff386b" d="M587 112 583 92 560 102 547 93 530 103 518 133 518 133 539 141 564 122 570 123Z"/><path fill="#ff9933" stroke="#ff9933" d="M587 112 611 124 611 120 599 92 583 92ZM540 961 517 947 514 965 540 962Z"/><path fill="#22eeaa" stroke="#22eeaa" d="M605 88 599 92 611 120 618 94 609 87Z"/><path fill="#28ffcc" stroke="#28ffcc" d="M661 98 638 95 626 118 611 124 608 143 626 148 650 136 658 143 669 141 680 119 669 104 664 102Z"/><path fill="#11ff66" stroke="#11ff66" d="M626 148 644 170 654 167 658 143 650 136Z"/><path fill="#ff6ecc" stroke="#ff6ecc" d="M717 133 698 133 686 156 687 159 703 169 705 171 727 171 745 153 745 151 733 139 720 136Z"/><path fill="#ffbb99" stroke="#ffbb99" d="M444 142 424 149 424 166 430 169 437 165ZM758 613 757 615 760 627 771 634 784 626 784 623Z"/><path fill="#ddffaa" stroke="#ddffaa" d="M424 166 395 169 395 172 411 185 423 184 430 173 430 169Z"/><path fill="#ffcc55" stroke="#ffcc55" d="M430 173 441 186 458 186 456 176 437 165 430 169Z"/><path fill="#59ff51" stroke="#59ff51" d="M431 194 429 203 436 210 460 198 461 190 458 186 441 186 430 173 423 184Z"/><path fill="#ff4433" stroke="#ff4433" d="M486 171 474 185 499 203 504 201 504 178ZM503 572 512 568 512 549 506 545 486 566Z"/><path fill="#ffbc9a" stroke="#ffbc9a" d="M461 190 460 198 465 207 465 229 492 229 496 207 499 203 474 185Z"/><path fill="#ffffdd" stroke="#ffffdd" d="M532 180 533 182 559 186 565 181 542 162Z"/><path fill="#33ffee" stroke="#33ffee" d="M539 141 518 133 513 171 532 180 542 162 540 142Z"/><path fill="#1eff80" stroke="#1eff80" d="M565 181 559 186 547 210 546 210 545 212 545 237 552 242 552 274 552 274 525 265 509 297 505 299 507 310 526 329 521 343 533 355 559 342 563 344 578 322 587 320 594 299 589 290 593 277 583 262 586 251 575 235 579 218 582 215 576 180Z"/><path fill="#b5eff7" stroke="#b5eff7" d="M662 186 656 168 654 167 644 170 626 148 608 143 603 147 592 151 584 160 580 175 576 180 582 215 596 215 601 220 620 229 627 229 635 217 635 215 648 202 647 197Z"/><path fill="#65ffcc" stroke="#65ffcc" d="M596 215 582 215 579 218 575 235 586 251 601 248 601 249 613 257 621 255 627 230 627 229 620 229 601 220Z"/><path fill="#22eeff" stroke="#22eeff" d="M662 186 647 197 648 202 651 203 671 193ZM900 531 908 547 910 547 929 524 927 520 926 520 907 515ZM822 902 834 895 831 874 828 868 810 875 810 894ZM1009 956 1020 967 1032 957 1023 938 1018 938Z"/><path fill="#99aaff" stroke="#99aaff" d="M671 217 687 213 689 203 679 194 671 193 651 203Z"/><path fill="#ffcc9f" stroke="#ffcc9f" d="M671 217 651 203 648 202 635 215 635 217 627 229 627 230 645 249 649 249 658 266 676 266 681 256 678 249 659 239 659 229Z"/><path fill="#ff37e2" stroke="#ff37e2" d="M645 249 627 230 621 255 613 257 601 249 601 248 586 251 583 262 593 277 610 274 615 279 613 299 627 310 632 309 637 303 632 277 634 274 632 261Z"/><path fill="#ff8866" stroke="#ff8866" d="M652 274 658 266 649 249 645 249 632 261 634 274Z"/><path fill="#ffe55e" stroke="#ffe55e" d="M678 249 681 256 699 256 710 234 692 222 687 213 671 217 659 229 659 239Z"/><path fill="#affde4" stroke="#affde4" d="M587 320 578 322 563 344 567 351 560 370 572 384 596 384 597 383 608 385 612 383 630 389 649 374 662 374 670 367 675 366 682 353 707 336 707 331 707 313 691 296 700 283 676 268 676 266 658 266 652 274 658 295 658 295 637 303 632 309 627 310 613 299 594 299Z"/><path fill="#7755ff" stroke="#7755ff" d="M637 303 658 295 658 295 652 274 634 274 632 277ZM929 524 934 527 950 520 957 502 955 497 945 497 927 520Z"/><path fill="#ffee99" stroke="#ffee99" d="M704 281 700 283 691 296 707 313 723 295ZM414 424 430 427 433 417 417 404 414 407Z"/><path fill="#2ae5ff" stroke="#2ae5ff" d="M406 353 414 360 414 377 418 377 433 365 430 353 434 345 434 344 416 340Z"/><path fill="#ffb939" stroke="#ffb939" d="M476 358 475 361 481 376 487 380 488 387 506 395 508 399 519 409 523 411 527 409 534 397 531 385 523 376 510 384 498 373 501 363 506 361 514 346 494 336 485 354Z"/><path fill="#ffee3d" stroke="#ffee3d" d="M514 346 506 361 501 363 498 373 510 384 523 376 523 374 533 360 533 355 521 343Z"/><path fill="#ff9fc9" stroke="#ff9fc9" d="M458 378 448 373 446 374 433 365 418 377 414 377 410 379 410 383 417 403 436 394 437 393 449 399 463 389 476 401 478 401 488 387 487 380 481 376 475 361Z"/><path fill="#37ff55" stroke="#37ff55" d="M863 329 853 349 872 362 868 384 868 384 898 384 902 377 920 377 929 400 940 397 944 378 939 369 931 365 928 354 911 348 904 333 907 329 902 304 887 304 879 300 870 328ZM567 351 563 344 559 342 533 355 533 360 523 374 523 376 531 385 534 397 549 395 552 373 560 370Z"/><path fill="#ff426a" stroke="#ff426a" d="M765 278 753 289 756 298 736 312 725 295 723 295 707 313 707 331 707 336 715 344 739 344 745 352 763 353 765 357 756 378 739 364 733 368 731 378 736 391 756 382 760 385 774 385 784 372 782 365 795 348 781 334 786 319 774 307 783 288 774 278Z"/><path fill="#ffc2c2" stroke="#ffc2c2" d="M715 344 707 336 682 353 675 366 694 382 702 380 705 378 717 358 733 368 739 364 745 352 739 344Z"/><path fill="#ff88bb" stroke="#ff88bb" d="M733 368 717 358 705 378 731 378ZM864 430 859 427 837 441 856 460 856 460 868 451 881 451 889 430 886 419Z"/><path fill="#ffaa44" stroke="#ffaa44" d="M820 50 823 30 785 30 794 54 797 56ZM756 378 765 357 763 353 745 352 739 364ZM821 623 821 623 827 645 822 654 841 664 841 683 845 686 857 689 870 664 870 661 867 659 846 659 846 641 844 640 841 627Z"/><path fill="#ff6a4f" stroke="#ff6a4f" d="M552 373 549 395 534 397 527 409 523 411 523 446 557 429 563 438 586 446 593 443 595 437 594 424 581 412 565 412 562 401 572 384 560 370Z"/><path fill="#b1f5ff" stroke="#b1f5ff" d="M465 411 466 427 477 431 488 421 485 409 478 401 476 401 463 389 449 399 437 393 436 394 436 415 447 415 452 409Z"/><path fill="#5c66ff" stroke="#5c66ff" d="M485 409 488 421 495 424 501 434 523 446 523 411 519 409 508 399 506 395 488 387 478 401Z"/><path fill="#22f5e4" stroke="#22f5e4" d="M523 446 501 434 495 424 488 421 477 431 480 454 472 455 451 468 453 474 473 485 486 482 487 479 519 470 524 465 525 460 523 455Z"/><path fill="#5cffcc" stroke="#5cffcc" d="M425 442 414 444 414 460 438 460 441 460 450 436 431 430Z"/><path fill="#ff9a36" stroke="#ff9a36" d="M525 460 524 465 537 487 521 508 543 518 533 538 533 545 512 549 512 568 532 584 547 575 549 572 573 572 578 597 585 600 589 623 616 612 616 610 615 608 615 581 610 576 598 577 582 567 586 552 590 550 600 529 600 527 591 518 583 516 578 509 586 487 585 483 577 475 586 446 563 438 557 429 523 446 523 455Z"/><path fill="#22ffa2" stroke="#22ffa2" d="M572 384 562 401 565 412 581 412 594 424 611 408 608 385 597 383 596 384Z"/><path fill="#99ffaa" stroke="#99ffaa" d="M640 402 658 393 662 374 649 374 630 389Z"/><path fill="#ffbb44" stroke="#ffbb44" d="M612 383 608 385 611 408 624 417 639 411 640 402 630 389Z"/><path fill="#ff8f3d" stroke="#ff8f3d" d="M684 404 692 400 694 382 675 366 670 367 662 374 658 393 640 402 639 411 647 420 660 420 666 404Z"/><path fill="#22ff66" stroke="#22ff66" d="M692 400 684 404 666 404 660 420 669 430 678 426 692 429 705 414ZM712 507 700 489 684 501 707 518 712 512ZM686 681 687 681 699 664 675 664 674 667Z"/><path fill="#ff3337" stroke="#ff3337" d="M736 391 731 378 705 378 702 380 694 382 692 400 705 414 715 417 725 429 729 429 746 412 736 392Z"/><path fill="#ff8145" stroke="#ff8145" d="M774 385 760 385 756 382 736 391 736 392 746 412 729 429 744 441 757 441 765 436 781 442 782 441 798 422 822 440 819 447 823 469 806 486 798 494 788 494 780 501 775 512 756 516 756 516 737 507 731 517 733 525 754 525 758 537 764 540 773 538 781 523 803 523 803 539 810 547 799 572 791 575 786 568 762 560 749 572 749 572 755 581 788 581 788 596 792 603 791 615 811 627 821 623 821 623 822 614 840 603 840 603 851 600 856 584 867 582 875 572 875 572 853 561 859 535 856 533 849 511 835 506 833 500 840 484 838 474 856 460 837 441 827 438 833 416 833 415 813 407 796 415 790 409 804 380 784 372Z"/><path fill="#ff6b70" stroke="#ff6b70" d="M639 411 624 417 622 433 630 441 641 441 649 448 649 460 672 472 675 470 681 453 696 448 702 450 714 447 725 429 715 417 705 414 692 429 678 426 669 430 660 420 647 420Z"/><path fill="#3333ff" stroke="#3333ff" d="M624 417 611 408 594 424 595 437 622 433Z"/><path fill="#dacfff" stroke="#dacfff" d="M593 443 586 446 577 475 585 483 586 487 604 496 607 502 615 506 629 499 625 487 640 472 652 490 663 494 672 472 649 460 649 448 641 441 630 441 622 433 595 437Z"/><path fill="#11ff22" stroke="#11ff22" d="M446 489 453 474 451 468 441 460 438 460 422 484Z"/><path fill="#ffee55" stroke="#ffee55" d="M867 479 856 460 856 460 838 474 840 484 833 500 835 506 849 511 858 503 858 488ZM519 508 521 508 537 487 524 465 519 470 509 499 517 507ZM1091 915 1104 922 1104 887 1096 888 1087 896Z"/><path fill="#ff63bc" stroke="#ff63bc" d="M625 526 619 536 620 537 632 546 632 559 614 564 610 576 615 581 615 608 616 610 616 612 589 623 588 625 556 625 548 631 548 641 533 660 533 664 552 683 552 695 577 700 578 701 581 702 606 690 606 685 630 673 630 659 631 657 648 651 650 647 648 630 649 628 677 628 679 632 706 632 711 619 723 615 736 628 757 615 758 613 757 605 755 603 755 581 749 572 749 572 736 547 724 543 733 525 731 517 712 512 707 518 685 529 691 547 683 560 683 564 692 569 717 569 723 581 722 582 702 590 699 594 700 610 679 616 678 615 682 591 667 591 658 597 659 606 649 620 629 606 643 588 641 581 644 571 648 569 659 547 656 539 652 536 647 521 666 501 663 494 652 490 640 472 625 487 629 499 615 506 615 512Z"/><path fill="#77ffdd" stroke="#77ffdd" d="M675 470 702 482 702 481 702 450 696 448 681 453Z"/><path fill="#b044ff" stroke="#b044ff" d="M757 441 744 441 741 455 720 455 714 447 702 450 702 481 723 478 726 476 737 473 743 467 763 467Z"/><path fill="#a04eff" stroke="#a04eff" d="M675 470 672 472 663 494 666 501 647 521 652 536 656 539 659 547 648 569 667 573 682 565 683 564 683 560 691 547 685 529 707 518 684 501 700 489 702 482Z"/><path fill="#55aaff" stroke="#55aaff" d="M737 473 750 491 755 492 769 471 763 467 743 467Z"/><path fill="#ff88ff" stroke="#ff88ff" d="M728 496 723 478 702 481 702 482 700 489 712 507Z"/><path fill="#ffaa55" stroke="#ffaa55" d="M726 476 723 478 728 496 735 500 750 491 737 473ZM690 764 672 790 668 790 660 795 658 813 680 818 687 809 685 797 700 788Z"/><path fill="#33eecc" stroke="#33eecc" d="M1075 497 1077 483 1074 476 1056 473 1048 480 1060 502ZM755 492 750 491 735 500 737 507 756 516 756 494Z"/><path fill="#ff6655" stroke="#ff6655" d="M583 516 591 518 607 502 604 496 586 487 578 509ZM619 536 600 529 590 550 586 552 582 567 598 577 610 576 614 564 608 553 620 537Z"/><path fill="#ffcc99" stroke="#ffcc99" d="M615 512 615 506 607 502 591 518 600 527Z"/><path fill="#44ff66" stroke="#44ff66" d="M615 512 600 527 600 529 619 536 625 526Z"/><path fill="#aa55ff" stroke="#aa55ff" d="M483 514 462 509 459 534 467 538 475 553 497 536 491 525 488 523Z"/><path fill="#ff556e" stroke="#ff556e" d="M519 523 502 540 506 545 512 549 533 545 533 538 543 518 521 508 519 508Z"/><path fill="#ffbb33" stroke="#ffbb33" d="M486 592 499 588 503 572 486 566 484 566 480 583 486 592Z"/><path fill="#ffbb88" stroke="#ffbb88" d="M940 397 956 402 969 381 967 378 944 378ZM620 537 608 553 614 564 632 559 632 546ZM840 751 835 738 817 732 813 734 814 755 825 763ZM438 788 421 763 403 789 408 795 437 789Z"/><path fill="#ff6f80" stroke="#ff6f80" d="M724 543 736 547 749 572 762 560 764 540 758 537 754 525 733 525Z"/><path fill="#aaff44" stroke="#aaff44" d="M786 568 783 545 773 538 764 540 762 560ZM702 590 722 582 723 581 717 569 692 569 683 564 682 565 682 591 699 594Z"/><path fill="#ccffff" stroke="#ccffff" d="M667 573 648 569 644 571 641 581 643 588 658 597 667 591Z"/><path fill="#ff7755" stroke="#ff7755" d="M682 591 682 591 682 565 667 573 667 591Z"/><path fill="#e9ffb0" stroke="#e9ffb0" d="M462 583 460 596 446 605 445 606 467 621 470 618 486 618 491 610 486 592 486 592 480 583Z"/><path fill="#ffaacc" stroke="#ffaacc" d="M523 610 523 601 499 588 486 592 491 610Z"/><path fill="#ff8e93" stroke="#ff8e93" d="M438 613 434 613 423 620 415 620 410 630 418 644 433 644 436 645 438 644 443 630 466 623 467 621 445 606Z"/><path fill="#ff3344" stroke="#ff3344" d="M935 55 965 30 914 30 914 42ZM466 623 443 630 438 644 465 648 469 644Z"/><path fill="#ff7c88" stroke="#ff7c88" d="M549 572 547 575 532 584 523 601 523 610 525 614 548 631 556 625 588 625 589 623 585 600 578 597 573 572Z"/><path fill="#ee44ff" stroke="#ee44ff" d="M648 630 650 647 675 647 677 645 679 632 677 628 649 628ZM897 925 897 907 891 899 887 899 880 930Z"/><path fill="#fff423" stroke="#fff423" d="M736 628 723 615 711 619 706 632 679 632 677 645 699 652 702 661 707 664 727 654 736 664 752 656 755 648 768 647 771 634 760 627 757 615Z"/><path fill="#9999ff" stroke="#9999ff" d="M552 695 545 705 563 722 578 701 577 700Z"/><path fill="#ff99bb" stroke="#ff99bb" d="M912 268 933 268 935 270 953 261 953 241 948 239 933 246 911 236 903 240 899 245 899 249ZM578 701 563 722 563 726 571 732 591 722 599 725 612 700 606 690 581 702ZM548 835 546 838 546 858 562 867 570 854Z"/><path fill="#77ff60" stroke="#77ff60" d="M571 732 563 726 563 722 545 705 542 705 532 738 530 739 526 748 547 769 553 768 567 780 567 783 579 796 594 793 601 785 597 772 584 766 579 752 573 748Z"/><path fill="#fff4c9" stroke="#fff4c9" d="M631 657 630 659 630 673 606 685 606 690 612 700 622 703 639 696 642 699 670 699 671 698 677 696 686 681 674 667 675 664 675 647 650 647 648 651Z"/><path fill="#bbff33" stroke="#bbff33" d="M675 647 675 664 699 664 702 661 699 652 677 645Z"/><path fill="#22eedd" stroke="#22eedd" d="M699 664 687 681 702 686 712 678 707 664 702 661Z"/><path fill="#ff55ff" stroke="#ff55ff" d="M702 701 702 686 687 681 686 681 677 696 698 706Z"/><path fill="#fbffdd" stroke="#fbffdd" d="M768 647 755 648 752 656 736 664 727 654 707 664 712 678 726 684 736 673 752 681 756 690 783 685 785 681 771 668 774 651Z"/><path fill="#ffffa1" stroke="#ffffa1" d="M726 684 712 678 702 686 702 701 720 701 727 693 744 701 753 698 756 690 752 681 736 673Z"/><path fill="#ffc239" stroke="#ffc239" d="M622 703 625 712 615 729 612 730 620 750 639 742 645 748 669 742 678 754 691 757 694 723 698 720 708 724 718 737 736 729 738 724 738 722 744 701 727 693 720 701 702 701 698 706 677 696 671 698 670 699 642 699 639 696Z"/><path fill="#15fdcf" stroke="#15fdcf" d="M753 698 744 701 738 722 738 724 736 729 718 737 715 748 704 756 723 782 723 784 710 791 710 816 712 819 743 804 753 807 758 801 763 762 764 762 760 724 760 705Z"/><path fill="#ffbb75" stroke="#ffbb75" d="M612 700 599 725 591 722 571 732 573 748 579 752 595 743 600 726 612 730 615 729 625 712 622 703Z"/><path fill="#adffcc" stroke="#adffcc" d="M459 756 452 749 421 759 421 760 421 763 438 788 443 785 466 792 480 785 487 793 504 799 512 796 517 778 511 757 502 756 490 745Z"/><path fill="#ffa57f" stroke="#ffa57f" d="M715 748 718 737 708 724 698 720 694 723 691 757 678 754 661 767 648 765 635 778 634 778 638 786 626 814 628 819 629 819 652 819 658 813 660 795 668 790 672 790 690 764 691 757 704 756Z"/><path fill="#ff88ee" stroke="#ff88ee" d="M645 748 639 742 620 750 617 756 635 778 648 765Z"/><path fill="#1155ee" stroke="#1155ee" d="M645 748 648 765 661 767 678 754 669 742Z"/><path fill="#ff47bd" stroke="#ff47bd" d="M526 909 528 909 548 890 550 890 560 883 581 904 594 892 615 899 616 898 620 885 606 856 636 856 638 851 629 819 628 819 626 814 622 812 607 787 601 785 594 793 598 812 593 818 610 836 604 855 600 856 585 847 570 854 562 867 546 858 533 868 518 854 506 858 502 870 476 870 473 890 482 896 487 911 494 914 516 903Z"/><path fill="#ff4167" stroke="#ff4167" d="M620 885 616 898 649 898 651 902 639 923 652 936 647 950 660 963 673 957 679 946 705 953 705 953 732 953 735 937 724 930 723 912 725 910 730 894 717 875 717 868 719 865 723 841 712 827 712 819 710 816 710 791 723 784 723 782 704 756 691 757 690 764 700 788 685 797 687 809 680 818 684 839 681 844 681 858 678 861 673 869 649 876 644 873 636 856 606 856Z"/><path fill="#ff6cfa" stroke="#ff6cfa" d="M567 783 567 780 553 768 547 769 540 778 517 778 512 796 518 801 526 815 533 817 552 798Z"/><path fill="#a596ff" stroke="#a596ff" d="M552 798 533 817 526 815 515 830 495 830 493 831 497 849 471 861 476 870 502 870 506 858 518 854 533 868 546 858 546 838 548 835 549 832 559 825 563 814 574 809 579 796 567 783Z"/><path fill="#ff47b7" stroke="#ff47b7" d="M437 789 440 805 454 819 455 819 472 823 476 828 468 859 471 861 497 849 493 831 495 830 515 830 526 815 518 801 512 796 504 799 487 793 480 785 466 792 443 785 438 788Z"/><path fill="#8fffa3" stroke="#8fffa3" d="M594 793 579 796 574 809 563 814 559 825 549 832 548 835 570 854 585 847 600 856 604 855 610 836 593 818 598 812Z"/><path fill="#ffe82f" stroke="#ffe82f" d="M652 819 657 832 648 846 638 851 636 856 644 873 649 876 673 869 678 861 681 858 681 844 684 839 680 818 658 813Z"/><path fill="#26eafd" stroke="#26eafd" d="M760 705 760 724 777 722 787 733 775 761 764 762 763 762 758 801 753 807 743 804 712 819 712 827 723 841 719 865 717 868 717 875 730 894 725 910 744 918 742 935 755 938 758 946 778 950 778 933 783 923 793 920 793 901 785 894 779 894 760 901 760 902 736 894 752 873 758 874 760 872 770 872 787 863 786 859 811 831 803 820 803 801 803 800 830 786 831 784 825 763 814 755 813 734 803 727 803 712 783 702 780 705Z"/><path fill="#ff55cc" stroke="#ff55cc" d="M769 471 776 465 781 442 765 436 757 441 763 467 769 471ZM867 659 867 647 854 639 846 641 846 659ZM409 863 415 871 434 867 423 841 416 838Z"/><path fill="#ff9793" stroke="#ff9793" d="M614 942 622 939 630 923 615 909 615 899 594 892 581 904 560 883 550 890 561 911 573 916 571 932 548 942 548 944 572 961 582 949 594 955 609 940Z"/><path fill="#99b5ff" stroke="#99b5ff" d="M785 894 792 869 787 863 770 872 760 872 758 874 752 873 736 894 760 902 760 901 779 894Z"/><path fill="#ffbbcc" stroke="#ffbbcc" d="M724 930 735 937 742 935 744 918 725 910 723 912ZM654 977 628 977 628 977 643 1007 654 996Z"/><path fill="#ffcc66" stroke="#ffcc66" d="M515 938 544 938 548 942 571 932 573 916 561 911 542 923 528 909 526 909 513 935Z"/><path fill="#ffdcbe" stroke="#ffdcbe" d="M446 931 446 957 438 963 436 972 444 984 464 984 471 996 503 985 502 977 495 967 494 958 484 943 476 940 469 929 456 926Z"/><path fill="#bbffee" stroke="#bbffee" d="M503 985 513 994 526 993 542 970 540 962 514 965 502 977Z"/><path fill="#14ff41" stroke="#14ff41" d="M614 942 609 940 594 955 582 949 572 961 548 944 540 961 540 962 542 970 562 978 571 971 591 979 591 1001 586 1006 586 1018 610 1030 615 1042 614 1044 630 1059 630 1072 653 1072 655 1055 649 1049 649 1043 630 1035 639 1011 642 1009 643 1007 628 977 620 982 595 976 599 964 616 960Z"/><path fill="#ffbb77" stroke="#ffbb77" d="M595 976 620 982 628 977 628 977 627 969 616 960 599 964Z"/><path fill="#ff5a38" stroke="#ff5a38" d="M627 969 628 977 654 977 654 996 678 996 682 990 680 986 658 972 660 963 647 950 640 952 622 939 614 942 616 960Z"/><path fill="#88ff44" stroke="#88ff44" d="M673 957 684 969 704 962 704 961 705 953 679 946Z"/><path fill="#ff55a1" stroke="#ff55a1" d="M680 986 682 990 685 990 702 981 704 962 684 969 673 957 660 963 658 972Z"/><path fill="#fab5f9" stroke="#fab5f9" d="M732 953 736 958 735 967 758 978 761 971 781 962 781 960 782 954 778 950 758 946 755 938 742 935 735 937Z"/><path fill="#17ff3e" stroke="#17ff3e" d="M761 971 758 978 735 967 727 975 725 988 713 988 702 1002 703 1005 716 1013 719 1012 736 1020 742 1015 744 1006 760 1002 766 1008 783 991 783 990 787 985 781 962Z"/><path fill="#15ffce" stroke="#15ffce" d="M591 979 571 971 562 978 542 970 526 993 513 994 503 985 471 996 469 1006 437 1006 436 1015 448 1038 430 1041 416 1023 408 1027 414 1049 418 1049 434 1072 448 1072 453 1048 489 1041 492 1029 506 1022 528 1036 548 1024 562 1033 562 1053 562 1053 586 1063 594 1054 580 1027 586 1018 586 1006 591 1001Z"/><path fill="#4cffee" stroke="#4cffee" d="M489 1041 492 1053 524 1053 528 1050 533 1053 562 1053 562 1033 548 1024 528 1036 506 1022 492 1029Z"/><path fill="#77eeff" stroke="#77eeff" d="M489 1067 489 1072 516 1072 524 1053 492 1053Z"/><path fill="#77ffee" stroke="#77ffee" d="M533 1053 540 1072 555 1072 562 1053 562 1053Z"/><path fill="#d555ff" stroke="#d555ff" d="M540 1072 533 1053 528 1050 524 1053 516 1072ZM562 1053 555 1072 586 1072 586 1063Z"/><path fill="#29ff99" stroke="#29ff99" d="M594 1054 602 1052 614 1072 630 1072 630 1059 614 1044 615 1042 610 1030 586 1018 580 1027Z"/><path fill="#ff99cc" stroke="#ff99cc" d="M932 185 931 185 919 210 919 211 942 211 943 210 953 214 962 206 958 196 943 196ZM586 1063 586 1072 614 1072 602 1052 594 1054Z"/><path fill="#ff5588" stroke="#ff5588" d="M656 1022 642 1009 639 1011 630 1035 649 1043 657 1029Z"/><path fill="#ffc83c" stroke="#ffc83c" d="M702 1002 685 990 682 990 678 996 654 996 643 1007 642 1009 656 1022 657 1029 649 1043 649 1049 655 1055 671 1055 676 1064 675 1072 700 1072 700 1058 702 1054 683 1038 689 1023 688 1020 703 1005Z"/><path fill="#ffaa77" stroke="#ffaa77" d="M655 1055 653 1072 675 1072 676 1064 671 1055Z"/><path fill="#22ff93" stroke="#22ff93" d="M703 1005 688 1020 689 1023 683 1038 702 1054 703 1053 714 1040 709 1027 716 1013Z"/><path fill="#25afff" stroke="#25afff" d="M716 1013 709 1027 714 1040 703 1053 702 1054 700 1058 700 1072 732 1072 758 1072 763 1053 760 1046 777 1038 776 1019 768 1014 759 1020 756 1040 736 1020 719 1012Z"/><path fill="#ffac4f" stroke="#ffac4f" d="M815 960 806 970 803 982 787 985 783 990 783 991 766 1008 760 1002 744 1006 742 1015 759 1020 768 1014 776 1019 793 1011 800 1013 817 996 822 996 827 999 857 985 855 975 867 958 865 949 855 943 841 943 831 932 808 942 807 944Z"/><path fill="#22ff5e" stroke="#22ff5e" d="M791 77 795 86 817 86 829 61 820 50 797 56 794 54 771 54 762 60 762 74 765 77Z"/><path fill="#1affcc" stroke="#1affcc" d="M886 66 898 63 914 42 914 30 865 30 823 30 820 50 829 61 846 66 866 56Z"/><path fill="#ff9995" stroke="#ff9995" d="M965 30 935 55 914 42 898 63 886 66 876 97 876 97 884 107 904 107 907 113 937 131 939 138 902 138 892 146 904 164 941 146 942 141 952 140 982 147 983 146 992 128 991 119 1018 94 1010 76 983 66 980 30Z"/><path fill="#ff3d6f" stroke="#ff3d6f" d="M1065 30 1023 30 980 30 983 66 1010 76 1018 94 1021 97 1050 97 1056 104 1076 104 1085 93 1076 67 1063 61Z"/><path fill="#1ce3ff" stroke="#1ce3ff" d="M1085 93 1076 104 1085 123 1066 140 1079 151 1079 172 1094 179 1104 177 1104 151 1104 126 1104 95 1104 60 1104 30 1065 30 1063 61 1076 67Z"/><path fill="#ff44bb" stroke="#ff44bb" d="M866 56 846 66 829 61 817 86 795 86 790 101 808 119 831 113 834 114 837 117 838 119 866 144 873 141 884 107 876 97 876 97 886 66ZM856 533 859 535 871 535 872 535 880 513 875 505 880 487 878 481 867 479 858 488 858 503 849 511Z"/><path fill="#ff9975" stroke="#ff9975" d="M795 86 791 77 765 77 765 95 751 108 764 121 779 114 785 103 790 101Z"/><path fill="#ff88aa" stroke="#ff88aa" d="M808 119 790 101 785 103 779 114 786 126 797 137Z"/><path fill="#99ff99" stroke="#99ff99" d="M786 126 779 114 764 121 765 126Z"/><path fill="#c5b4ff" stroke="#c5b4ff" d="M834 114 831 113 808 119 797 137 795 143 791 147 788 156 804 178 801 186 813 200 825 200 832 184 858 195 866 177 866 174 866 145 866 144 838 119 837 117Z"/><path fill="#ff88d3" stroke="#ff88d3" d="M907 113 904 107 884 107 873 141 892 146 902 138 939 138 937 131Z"/><path fill="#11ff55" stroke="#11ff55" d="M1020 156 1018 132 992 128 983 146Z"/><path fill="#eaff2d" stroke="#eaff2d" d="M1050 97 1021 97 1018 94 991 119 992 128 1018 132 1020 156 1020 157 1054 143 1056 140 1066 140 1085 123 1076 104 1056 104Z"/><path fill="#ff41b0" stroke="#ff41b0" d="M1020 157 1020 175 1030 183 1042 180 1065 195 1066 198 1079 202 1079 202 1104 209 1104 177 1094 179 1079 172 1071 175 1054 166 1054 143Z"/><path fill="#ff9a34" stroke="#ff9a34" d="M1020 175 1020 157 1020 156 983 146 982 147 952 140 942 141 941 146 904 164 892 146 873 141 866 144 866 145 866 174 866 177 858 195 858 205 857 207 861 220 872 225 890 211 890 205 895 198 919 210 931 185 932 185 943 196 958 196 971 180 972 180 980 190 993 197 1009 178Z"/><path fill="#ffc099" stroke="#ffc099" d="M834 212 825 200 813 200 801 218 804 227 793 239 793 255 800 260 805 277 818 278 830 266 822 249 824 244 820 232 832 220Z"/><path fill="#99ccff" stroke="#99ccff" d="M825 200 834 212 857 207 858 205 858 195 832 184Z"/><path fill="#ff4fd7" stroke="#ff4fd7" d="M918 226 919 211 919 210 895 198 890 205 890 211 872 225 880 239 899 245 903 240 911 236Z"/><path fill="#4daaff" stroke="#4daaff" d="M972 180 971 180 958 196 962 206 953 214 954 216 966 228 957 239 975 253 986 248 991 237 991 235 977 224 977 221 969 209 980 190Z"/><path fill="#2288ff" stroke="#2288ff" d="M919 211 918 226 938 226 942 211Z"/><path fill="#fbead6" stroke="#fbead6" d="M1009 178 993 197 993 198 1011 215 1025 229 1025 239 1035 249 1051 249 1061 234 1069 234 1079 225 1104 225 1104 209 1079 202 1079 202 1066 198 1065 195 1042 180 1030 183 1020 175Z"/><path fill="#ffa084" stroke="#ffa084" d="M993 198 977 221 977 224 991 235 991 237 1011 246 1011 254 1025 268 1035 249 1025 239 1025 229 1011 215Z"/><path fill="#ff6259" stroke="#ff6259" d="M1051 249 1059 273 1051 281 1049 288 1049 302 1045 307 1045 336 1049 341 1049 351 1075 365 1077 363 1104 371 1104 344 1104 320 1104 284 1104 254 1104 225 1079 225 1069 234 1061 234Z"/><path fill="#5eff66" stroke="#5eff66" d="M774 223 781 234 763 248 783 259 793 255 793 239 804 227 801 218 781 208Z"/><path fill="#22b6ff" stroke="#22b6ff" d="M832 220 851 239 851 244 856 251 856 263 885 263 885 283 907 283 911 295 926 300 928 307 943 314 943 323 952 332 962 329 964 327 980 327 984 307 975 300 973 300 960 306 945 287 941 285 935 270 933 268 912 268 899 249 899 245 880 239 872 225 861 220 857 207 834 212Z"/><path fill="#33eeff" stroke="#33eeff" d="M832 220 820 232 824 244 851 244 851 239ZM857 620 847 620 841 627 844 640 846 641 854 639 860 628Z"/><path fill="#aaff88" stroke="#aaff88" d="M938 226 918 226 911 236 933 246 948 239 944 231Z"/><path fill="#ccffcc" stroke="#ccffcc" d="M942 211 938 226 944 231 954 216 953 214 943 210ZM911 686 914 684 921 670 910 653 902 655 902 680Z"/><path fill="#ffcc88" stroke="#ffcc88" d="M774 278 783 259 763 248 759 248 753 256 765 278Z"/><path fill="#ff87ab" stroke="#ff87ab" d="M826 304 822 284 818 278 805 277 800 260 793 255 783 259 774 278 783 288 774 307 786 319 781 334 795 348 782 365 784 372 804 380 817 377 818 374 817 358 808 348 814 331 808 313Z"/><path fill="#ff55b5" stroke="#ff55b5" d="M854 267 856 263 856 251 851 244 824 244 822 249 830 266 818 278 822 284 842 284 850 269Z"/><path fill="#33ffa3" stroke="#33ffa3" d="M872 293 854 267 850 269 842 284 842 300 837 306 842 315 854 320 870 294Z"/><path fill="#ffc499" stroke="#ffc499" d="M856 263 854 267 872 293 874 293 879 300 887 304 902 304 907 329 904 333 911 348 928 354 935 346 931 331 943 323 943 314 928 307 926 300 911 295 907 283 885 283 885 263Z"/><path fill="#87ff4a" stroke="#87ff4a" d="M986 248 975 253 967 268 987 278 994 275 996 273 996 268 1011 254 1011 246 991 237ZM953 261 935 270 941 285 945 287 962 278 967 268Z"/><path fill="#7788ff" stroke="#7788ff" d="M1019 275 996 273 994 275 1005 299 1016 298 1020 288Z"/><path fill="#bb99ff" stroke="#bb99ff" d="M973 300 962 278 945 287 960 306Z"/><path fill="#ffe8aa" stroke="#ffe8aa" d="M1051 249 1035 249 1025 268 1019 275 1020 288 1049 288 1051 281 1059 273Z"/><path fill="#5dff66" stroke="#5dff66" d="M1049 302 1049 288 1020 288 1016 298 1005 299 996 307 984 307 980 327 989 338 1009 332 1012 333 1016 336 1045 336 1045 307Z"/><path fill="#ffc399" stroke="#ffc399" d="M842 315 837 306 826 304 808 313 814 331 808 348 817 358 841 346 834 331Z"/><path fill="#55bbff" stroke="#55bbff" d="M870 328 879 300 874 293 872 293 870 294 854 320 863 329Z"/><path fill="#ff4ab0" stroke="#ff4ab0" d="M817 358 818 374 817 377 820 387 835 400 853 391 855 387 868 384 872 362 853 349 852 349 841 346Z"/><path fill="#b944ff" stroke="#b944ff" d="M935 346 928 354 931 365 939 369 944 378 967 378 967 371 957 359 957 353 947 344 952 332 943 323 931 331Z"/><path fill="#4fff91" stroke="#4fff91" d="M1049 341 1045 336 1016 336 1012 333 1009 332 989 338 984 349 985 353 967 371 967 378 969 381 985 387 1001 374 1016 389 1040 379 1041 378 1072 378 1075 365 1049 351Z"/><path fill="#ffd833" stroke="#ffd833" d="M790 409 796 415 813 407 833 415 835 400 820 387 817 377 804 380Z"/><path fill="#bb91ff" stroke="#bb91ff" d="M881 410 868 384 868 384 855 387 853 391 835 400 833 415 833 416 854 416 857 410Z"/><path fill="#f5f858" stroke="#f5f858" d="M900 393 885 414 881 410 857 410 854 416 859 427 864 430 886 419 886 418 922 418 924 407Z"/><path fill="#ccff44" stroke="#ccff44" d="M924 407 929 400 920 377 902 377 898 384 868 384 881 410 885 414 900 393Z"/><path fill="#ff42d8" stroke="#ff42d8" d="M929 400 924 407 922 418 928 432 927 446 926 448 930 458 943 470 935 491 945 497 955 497 957 502 958 502 996 502 998 491 996 485 996 479 992 470 974 462 966 463 957 446 965 438 959 417 961 412 956 402 940 397Z"/><path fill="#ff5d7f" stroke="#ff5d7f" d="M886 419 889 430 881 451 881 451 908 457 920 449 926 448 927 446 928 432 922 418 886 418Z"/><path fill="#ff82cc" stroke="#ff82cc" d="M822 440 798 422 782 441 781 442 776 465 795 465 801 454 819 447Z"/><path fill="#41ff61" stroke="#41ff61" d="M1040 379 1016 389 1001 374 985 387 969 381 956 402 961 412 989 412 989 412 991 419 1029 438 1030 438 1050 442 1055 440 1072 415 1064 406 1073 378 1072 378 1041 378Z"/><path fill="#4470ff" stroke="#4470ff" d="M1104 379 1073 379 1073 378 1064 406 1072 415 1104 415 1104 409Z"/><path fill="#ff7ecf" stroke="#ff7ecf" d="M989 412 961 412 959 417 965 438 978 439 985 436 997 451 992 470 996 479 996 485 998 491 1033 491 1038 483 1048 480 1056 473 1074 476 1081 469 1077 449 1104 435 1104 415 1072 415 1055 440 1050 442 1030 438 1029 438 991 419 989 412Z"/><path fill="#ffbbee" stroke="#ffbbee" d="M992 470 997 451 985 436 978 439 974 462Z"/><path fill="#77ffcc" stroke="#77ffcc" d="M974 462 978 439 965 438 957 446 966 463Z"/><path fill="#ff4ccc" stroke="#ff4ccc" d="M1081 469 1074 476 1077 483 1104 490 1104 465 1104 435 1077 449Z"/><path fill="#5eeeff" stroke="#5eeeff" d="M823 469 819 447 801 454 795 465 776 465 769 471 788 494 798 494 806 486Z"/><path fill="#aa33ff" stroke="#aa33ff" d="M788 494 769 471 769 471 755 492 756 494 756 516 756 516 775 512 780 501Z"/><path fill="#eeee66" stroke="#eeee66" d="M908 457 881 451 884 475 896 473 902 470Z"/><path fill="#44eeaa" stroke="#44eeaa" d="M943 470 930 458 921 488 926 491 935 491Z"/><path fill="#11ff2d" stroke="#11ff2d" d="M907 515 926 520 927 520 945 497 935 491 926 491 921 488 915 489 903 499 903 509Z"/><path fill="#33ee99" stroke="#33ee99" d="M880 487 875 505 880 513 903 509 903 499 902 498Z"/><path fill="#a244ff" stroke="#a244ff" d="M996 509 996 502 958 502 957 502 950 520 972 534 977 525Z"/><path fill="#1dffd5" stroke="#1dffd5" d="M996 509 1001 514 1008 535 1030 543 1052 550 1054 553 1083 553 1087 549 1083 538 1065 530 1063 524 1052 515 1039 515 1037 514 1033 491 998 491 996 502Z"/><path fill="#e74bf5" stroke="#e74bf5" d="M1033 491 1037 514 1039 515 1052 515 1063 524 1068 520 1081 505 1075 497 1060 502 1048 480 1038 483Z"/><path fill="#dbffee" stroke="#dbffee" d="M1075 497 1081 505 1085 507 1091 520 1092 521 1104 521 1104 495 1104 490 1077 483Z"/><path fill="#ff8d97" stroke="#ff8d97" d="M1085 507 1081 505 1068 520 1063 524 1065 530 1083 538 1087 549 1104 552 1104 521 1092 521 1091 520Z"/><path fill="#77ff33" stroke="#77ff33" d="M803 539 803 523 781 523 773 538 783 545ZM791 674 812 664 815 656 808 649 804 641 790 638 783 650 789 657Z"/><path fill="#ff55bb" stroke="#ff55bb" d="M786 568 791 575 799 572 810 547 803 539 783 545Z"/><path fill="#aa4cff" stroke="#aa4cff" d="M880 513 872 535 871 535 877 568 875 572 875 572 889 583 903 580 906 565 902 557 908 547 900 531 907 515 903 509Z"/><path fill="#11ffa4" stroke="#11ffa4" d="M936 556 934 571 934 571 916 593 916 601 913 604 907 622 901 624 891 643 893 647 899 654 902 655 910 653 919 644 928 649 941 640 934 627 938 621 942 623 968 623 970 615 991 615 991 584 990 581 1000 570 1002 570 1024 560 1030 543 1008 535 1001 514 996 509 977 525 972 534 950 520 934 527 941 547Z"/><path fill="#ff8c50" stroke="#ff8c50" d="M970 615 968 623 942 623 938 621 934 627 941 640 951 644 951 650 954 657 951 668 965 677 970 675 974 669 976 657 982 649 991 648 1001 636 1004 624 1016 618 1016 601 1024 589 1034 585 1035 576 1054 567 1064 576 1079 569 1090 579 1104 575 1104 552 1087 549 1083 553 1054 553 1052 550 1030 543 1024 560 1002 570 1000 570 990 581 991 584 991 615Z"/><path fill="#ffbbc5" stroke="#ffbbc5" d="M1064 576 1054 567 1035 576 1034 585 1024 589 1016 601 1016 618 1004 624 1001 636 991 648 994 653 994 679 997 683 1011 676 1011 664 1023 656 1022 651 1034 634 1036 634 1053 614 1055 615 1069 608 1069 591 1082 591 1089 581 1090 579 1079 569Z"/><path fill="#d1ffd4" stroke="#d1ffd4" d="M1082 591 1069 591 1069 608 1055 615 1063 633 1043 640 1046 655 1065 660 1068 638 1065 634 1081 614 1082 614 1083 614 1089 602 1102 599 1104 599 1104 575 1090 579 1089 581Z"/><path fill="#ff90a1" stroke="#ff90a1" d="M757 605 758 613 784 623 791 615 792 603 788 596 788 581 755 581 755 603Z"/><path fill="#f2f7b4" stroke="#f2f7b4" d="M889 599 889 583 875 572 867 582 871 599 864 606 864 613 857 620 860 628 875 633 879 621 885 618 885 602Z"/><path fill="#b2eeff" stroke="#b2eeff" d="M916 593 903 580 889 583 889 599 885 602 885 618 901 624 907 622 913 604 916 601Z"/><path fill="#66eeff" stroke="#66eeff" d="M875 633 876 637 891 643 901 624 885 618 879 621Z"/><path fill="#d9ffe4" stroke="#d9ffe4" d="M860 628 854 639 867 647 867 659 870 661 870 664 883 670 899 654 893 647 891 643 876 637 875 633Z"/><path fill="#77aaff" stroke="#77aaff" d="M928 649 933 656 951 650 951 644 941 640Z"/><path fill="#ff8855" stroke="#ff8855" d="M1053 614 1036 634 1034 634 1022 651 1023 656 1035 664 1046 655 1043 640 1063 633 1055 615Z"/><path fill="#ff9044" stroke="#ff9044" d="M1082 614 1081 614 1065 634 1068 638 1084 638 1087 633 1104 629 1104 620 1083 614Z"/><path fill="#ff51a8" stroke="#ff51a8" d="M1027 693 1027 704 1021 708 1016 719 1016 721 1021 732 1024 734 1028 750 1053 750 1054 752 1076 759 1083 752 1104 746 1104 727 1104 703 1104 676 1104 650 1104 629 1087 633 1084 638 1068 638 1065 660 1046 655 1035 664 1035 666 1045 683ZM1104 620 1104 599 1102 599 1089 602 1083 614Z"/><path fill="#ff4ad2" stroke="#ff4ad2" d="M804 641 808 649 815 656 822 654 827 645 821 623 811 627 791 615 784 623 784 626 771 634 768 647 774 651 783 650 790 638Z"/><path fill="#ff3433" stroke="#ff3433" d="M783 650 774 651 771 668 785 681 783 685 783 702 803 712 803 727 813 734 817 732 835 738 840 751 855 749 853 729 850 723 861 708 880 718 889 709 890 706 881 691 859 691 857 689 845 686 841 683 841 664 822 654 815 656 812 664 791 674 789 657Z"/><path fill="#f6f12c" stroke="#f6f12c" d="M899 654 883 670 870 664 857 689 859 691 881 691 890 706 889 709 880 718 861 708 850 723 853 729 880 729 880 730 895 743 900 736 906 719 905 719 913 700 909 693 911 686 902 680 902 655Z"/><path fill="#e64ef6" stroke="#e64ef6" d="M951 668 954 657 951 650 933 656 928 649 919 644 910 653 921 670 914 684 911 686 909 693 913 700 923 708 926 721 927 722 948 709 938 693 938 691 940 688 942 672Z"/><path fill="#6699ff" stroke="#6699ff" d="M923 708 913 700 905 719 906 719 926 721Z"/><path fill="#6fff40" stroke="#6fff40" d="M951 668 942 672 940 688 938 691 938 693 948 709 948 709 965 699 972 701 986 696 992 696 993 694 997 683 994 679 974 669 970 675 965 677Z"/><path fill="#3355ff" stroke="#3355ff" d="M994 653 991 648 982 649 976 657 974 669 994 679Z"/><path fill="#d2ffee" stroke="#d2ffee" d="M1023 656 1011 664 1011 676 997 683 993 694 1003 696 1022 687 1027 693 1045 683 1035 666 1035 664Z"/><path fill="#ccff3a" stroke="#ccff3a" d="M948 709 927 722 928 727 928 727 900 736 895 743 896 746 904 754 927 746 930 742 961 742 961 740 987 729 987 725 972 713 957 725 948 709Z"/><path fill="#5591ff" stroke="#5591ff" d="M1016 719 994 710 987 725 987 729 989 731 996 743 1021 732 1016 721Z"/><path fill="#ddffbb" stroke="#ddffbb" d="M1021 708 1027 704 1027 693 1022 687 1003 696Z"/><path fill="#33ffc4" stroke="#33ffc4" d="M825 763 831 784 830 786 845 801 869 791 872 776 866 766 866 761 859 751 855 749 840 751Z"/><path fill="#c9ff63" stroke="#c9ff63" d="M859 751 866 761 866 766 872 776 897 776 904 766 904 754 896 746 895 743 880 730 880 729 853 729 855 749Z"/><path fill="#ff5062" stroke="#ff5062" d="M1028 750 1024 734 1021 732 996 743 989 731 987 729 961 740 961 742 930 742 927 746 904 754 904 766 922 775 925 790 946 798 946 770 959 762 971 791 974 791 992 814 998 815 1017 785 1020 784 1020 761Z"/><path fill="#ffccb1" stroke="#ffccb1" d="M1054 752 1053 750 1028 750 1020 761 1020 784 1029 788 1046 777 1059 780 1077 762 1076 759Z"/><path fill="#99ffdd" stroke="#99ffdd" d="M1059 780 1068 793 1077 790 1081 769 1077 762Z"/><path fill="#ff33dd" stroke="#ff33dd" d="M1083 752 1076 759 1077 762 1081 769 1104 778 1104 746Z"/><path fill="#ff3369" stroke="#ff3369" d="M1103 802 1104 802 1104 778 1081 769 1077 790ZM1104 827 1082 835 1082 843 1071 854 1073 868 1071 870 1066 896 1087 896 1096 888 1104 887 1104 855Z"/><path fill="#ff6677" stroke="#ff6677" d="M1046 777 1029 788 1031 791 1064 801 1068 793 1059 780Z"/><path fill="#22ff33" stroke="#22ff33" d="M925 790 922 775 904 766 897 776 900 788 909 798Z"/><path fill="#15ff44" stroke="#15ff44" d="M948 802 948 802 948 836 953 841 965 841 981 852 988 854 1006 833 1006 832 998 815 992 814 974 791 971 791 959 762 946 770 946 798Z"/><path fill="#70ffd0" stroke="#70ffd0" d="M872 776 869 791 845 801 830 786 803 800 803 801 803 820 811 831 818 835 822 836 834 852 841 852 866 833 867 832 865 826 880 808 880 803 900 788 897 776Z"/><path fill="#6fff36" stroke="#6fff36" d="M880 803 880 808 865 826 867 832 888 839 899 817 909 814 916 818 920 829 926 836 920 849 932 872 943 869 953 841 948 836 948 802 948 802 946 798 925 790 909 798 900 788Z"/><path fill="#ee5bff" stroke="#ee5bff" d="M888 839 890 842 895 844 905 852 904 863 908 874 909 875 928 875 932 872 920 849 926 836 920 829 916 818 909 814 899 817Z"/><path fill="#ffffbb" stroke="#ffffbb" d="M895 844 890 842 881 863 904 863 905 852Z"/><path fill="#2277ff" stroke="#2277ff" d="M878 867 870 860 850 860 859 883 859 883 875 882 878 874Z"/><path fill="#66ffdd" stroke="#66ffdd" d="M953 841 943 869 956 877 957 880 979 880 990 859 988 854 981 852 965 841Z"/><path fill="#9b5dff" stroke="#9b5dff" d="M1067 820 1103 802 1077 790 1068 793 1064 801 1031 791 1029 788 1020 784 1017 785 998 815 1006 832 1006 833 988 854 990 859 1015 880 1016 880 1035 862 1035 861 1049 843 1051 829 1066 820Z"/><path fill="#bbffdd" stroke="#bbffdd" d="M793 901 810 894 810 875 801 870 792 869 785 894Z"/><path fill="#33ff77" stroke="#33ff77" d="M810 894 793 901 793 920 783 923 778 933 778 950 782 954 807 944 808 942 800 925 822 911 822 902Z"/><path fill="#5599ff" stroke="#5599ff" d="M855 943 865 949 879 933 879 930 860 913 855 913Z"/><path fill="#0bff28" stroke="#0bff28" d="M849 899 834 895 822 902 822 911 800 925 808 942 831 932 841 943 855 943 855 913 854 912Z"/><path fill="#ff8888" stroke="#ff8888" d="M878 867 878 874 875 882 885 898 887 899 891 899 900 893 909 875 908 874 904 863 881 863Z"/><path fill="#66ff33" stroke="#66ff33" d="M900 893 920 899 928 894 928 875 909 875Z"/><path fill="#ddff88" stroke="#ddff88" d="M891 899 897 907 914 913 920 899 900 893Z"/><path fill="#15ff28" stroke="#15ff28" d="M957 880 956 877 943 869 932 872 928 875 928 894 920 899 914 913 897 907 897 925 880 930 879 930 879 933 895 944 900 940 900 927 913 925 916 918 937 918 941 932 948 936 948 953 960 965 975 959 980 953 977 943 965 931 969 919 964 905 957 901Z"/><path fill="#22ffcc" stroke="#22ffcc" d="M913 925 914 928 926 938 941 932 937 918 916 918Z"/><path fill="#ff8d9e" stroke="#ff8d9e" d="M990 859 979 880 957 880 957 901 964 905 969 919 999 919 1000 920 1016 904 1020 891 1016 880 1015 880Z"/><path fill="#ff5522" stroke="#ff5522" d="M1016 880 1020 891 1052 904 1055 902 1060 900 1066 896 1071 870 1046 870 1035 862Z"/><path fill="#ffbd63" stroke="#ffbd63" d="M1020 891 1016 904 1000 920 1008 931 1018 938 1023 938 1032 957 1020 967 1019 980 1028 984 1038 966 1034 958 1050 951 1054 965 1057 967 1066 967 1072 979 1076 980 1077 985 1071 1001 1060 1009 1064 1015 1085 1015 1093 1001 1093 1001 1104 998 1104 991 1085 976 1088 971 1072 955 1073 951 1069 939 1059 937 1050 911 1052 904Z"/><path fill="#9da8ff" stroke="#9da8ff" d="M1087 896 1066 896 1060 900 1055 902 1052 904 1050 911 1059 937 1069 939 1073 951 1103 959 1088 971 1085 976 1104 991 1104 959 1104 938 1104 922 1091 915Z"/><path fill="#ff2a2a" stroke="#ff2a2a" d="M980 953 987 953 1001 960 1001 985 1003 986 1019 980 1020 967 1009 956 1018 938 1008 931 1000 920 999 919 969 919 965 931 977 943Z"/><path fill="#ffe7d6" stroke="#ffe7d6" d="M815 960 807 944 782 954 781 960 781 962 787 985 803 982 806 970Z"/><path fill="#16ff7f" stroke="#16ff7f" d="M857 985 827 999 822 996 817 996 800 1013 793 1011 776 1019 777 1038 760 1046 763 1053 758 1072 789 1072 794 1072 797 1062 821 1053 825 1034 834 1029 837 1019 866 1007 869 999 885 995 888 988 883 963 895 958 895 944 879 933 865 949 867 958 855 975Z"/><path fill="#77ff44" stroke="#77ff44" d="M883 963 888 988 885 995 901 1005 914 1000 918 989 909 973 910 965 895 958Z"/><path fill="#ff2536" stroke="#ff2536" d="M919 959 910 965 909 973 918 989 932 985 940 997 941 998 959 985 956 977 960 965 948 953 948 936 941 932 926 938 919 953Z"/><path fill="#5aff38" stroke="#5aff38" d="M987 953 980 953 975 959 960 965 956 977 959 985 966 992 967 998 977 1010 991 1001 999 986 1001 985 1001 960Z"/><path fill="#334eee" stroke="#334eee" d="M1054 965 1050 951 1034 958 1038 966 1028 984 1036 991 1048 994 1048 991 1044 968Z"/><path fill="#85f7f8" stroke="#85f7f8" d="M1019 980 1003 986 1001 985 999 986 991 1001 977 1010 977 1011 989 1029 1000 1032 1004 1041 1007 1043 1026 1039 1038 1056 1060 1043 1064 1043 1064 1015 1060 1009 1051 1004 1048 995 1048 994 1036 991 1028 984Z"/><path fill="#ff8833" stroke="#ff8833" d="M966 992 959 985 941 998 946 1013 948 1014 952 1021 959 1024 977 1011 977 1010 967 998Z"/><path fill="#ccff3c" stroke="#ccff3c" d="M922 1005 930 1017 946 1013 941 998 940 997 932 985 918 989 914 1000Z"/><path fill="#00ff22" stroke="#00ff22" d="M885 995 869 999 866 1007 837 1019 834 1029 825 1034 821 1053 797 1062 794 1072 838 1072 854 1072 885 1072 924 1072 924 1067 916 1051 909 1046 909 1029 901 1019 901 1005Z"/><path fill="#ee49ff" stroke="#ee49ff" d="M901 1005 901 1019 909 1029 909 1046 916 1051 924 1067 943 1054 945 1045 940 1039 936 1038 927 1023 930 1017 922 1005 914 1000Z"/><path fill="#aa88ff" stroke="#aa88ff" d="M943 1054 924 1067 924 1072 957 1072 957 1069Z"/><path fill="#ffc0be" stroke="#ffc0be" d="M936 1038 940 1039 945 1045 966 1045 967 1049 957 1069 957 1072 987 1072 1015 1072 1016 1065 1007 1043 1004 1041 1000 1032 989 1029 977 1011 959 1024 952 1021 948 1014 946 1013 930 1017 927 1023Z"/><path fill="#aaffdd" stroke="#aaffdd" d="M1093 1001 1093 1001 1085 1015 1093 1030 1104 1033 1104 998Z"/><path fill="#22ff44" stroke="#22ff44" d="M1007 1043 1016 1065 1015 1072 1043 1072 1038 1058 1038 1056 1026 1039Z"/><path fill="#ffcc43" stroke="#ffcc43" d="M1056 1072 1081 1072 1104 1072 1104 1051 1080 1056 1066 1044 1065 1043Z"/><path fill="#ff8833" stroke="#ff8833" d="M107 32 86 32 85 47 101 62 105 55Z"/><path fill="#ff44cc" stroke="#ff44cc" d="M96 74 98 73 98 65 81 50 66 53 66 65Z"/><path fill="#bbeeff" stroke="#bbeeff" d="M86 92 94 78 65 69 65 93Z"/><path fill="#88ddff" stroke="#88ddff" d="M208 61 214 78 237 72 237 70 223 49Z"/><path fill="#eeffff" stroke="#eeffff" d="M227 46 242 67 254 60 255 56 240 35 231 35Z"/><path fill="#ff9933" stroke="#ff9933" d="M80 121 90 108 88 97 65 99 65 121Z"/><path fill="#44eecc" stroke="#44eecc" d="M171 152 194 149 195 143 179 128 167 134 166 148Z"/><path fill="#22eeee" stroke="#22eeee" d="M350 120 335 126 330 136 334 144 348 144 359 130Z"/><path fill="#ffee22" stroke="#ffee22" d="M348 154 336 154 331 164 344 182 348 181 359 167Z"/><path fill="#55bbff" stroke="#55bbff" d="M380 160 377 165 393 178 401 176 406 167 403 155 397 151Z"/><path fill="#ff66bb" stroke="#ff66bb" d="M139 171 144 179 162 174 164 159 159 154 140 158Z"/><path fill="#ff6655" stroke="#ff6655" d="M78 191 72 193 84 213 95 217 103 198 102 196Z"/><path fill="#ff5588" stroke="#ff5588" d="M120 234 122 254 130 256 143 247 139 230 129 227Z"/><path fill="#7766ff" stroke="#7766ff" d="M385 229 370 242 381 262 387 261 395 236 391 232Z"/><path fill="#ccff33" stroke="#ccff33" d="M140 305 139 304 120 308 123 327 133 334 145 314Z"/><path fill="#ffbb77" stroke="#ffbb77" d="M130 374 137 384 149 384 157 376 150 357 143 355Z"/><path fill="#88ff66" stroke="#88ff66" d="M210 485 194 479 189 490 198 508 215 502 215 501Z"/><path fill="#33ddff" stroke="#33ddff" d="M378 464 379 470 383 476 404 476 406 465 392 453 385 453Z"/><path fill="#66aaff" stroke="#66aaff" d="M157 535 160 515 147 509 142 511 139 516 138 529 150 540 154 538Z"/><path fill="#ffaa33" stroke="#ffaa33" d="M211 583 199 578 185 582 183 585 183 589 199 606 202 605Z"/><path fill="#44ffcc" stroke="#44ffcc" d="M247 651 243 647 233 647 225 661 233 671 248 671 251 661Z"/><path fill="#66ff33" stroke="#66ff33" d="M184 760 181 760 177 767 183 785 201 785 202 775 199 765Z"/><path fill="#33ff55" stroke="#33ff55" d="M300 797 308 789 308 789 306 775 299 766 282 771 281 773 298 795Z"/><path fill="#ff5555" stroke="#ff5555" d="M163 844 161 834 157 831 144 831 135 850 136 851 149 856Z"/><path fill="#55ccff" stroke="#55ccff" d="M265 828 246 837 246 851 255 856 263 854 271 837 269 830Z"/><path fill="#eeffaa" stroke="#eeffaa" d="M116 989 114 988 112 988 100 1001 102 1013 106 1021 108 1023 110 1023 122 1012Z"/><path fill="#22ff66" stroke="#22ff66" d="M140 990 140 1009 164 1012 158 989 149 984Z"/><path fill="#22ff88" stroke="#22ff88" d="M237 982 224 988 227 1011 248 1008 238 982Z"/><path fill="#ffbb66" stroke="#ffbb66" d="M231 1071 263 1071 263 1051 231 1060Z"/><path fill="#ffcc99" stroke="#ffcc99" d="M275 1053 275 1071 300 1071 300 1060 282 1045 281 1045Z"/><path fill="#5544ff" stroke="#5544ff" d="M502 58 507 32 483 32 484 47 493 57Z"/><path fill="#22ff66" stroke="#22ff66" d="M548 76 559 68 560 60 544 39 540 48 540 69Z"/><path fill="#ff44dd" stroke="#ff44dd" d="M440 90 457 101 466 93 464 80 462 77 441 77 439 82Z"/><path fill="#bbff77" stroke="#bbff77" d="M519 116 497 112 495 129 501 136 509 137 521 129Z"/><path fill="#ff66bb" stroke="#ff66bb" d="M610 126 610 126 607 128 594 145 594 152 609 154 621 146 621 146 614 128Z"/><path fill="#22ff99" stroke="#22ff99" d="M669 106 670 101 663 80 640 95 640 96 657 109Z"/><path fill="#22ffbb" stroke="#22ffbb" d="M515 147 517 161 539 161 539 161 542 147 539 142 529 137Z"/><path fill="#ff9988" stroke="#ff9988" d="M692 218 692 218 706 199 700 188 682 195 681 196 681 212Z"/><path fill="#bb44ff" stroke="#bb44ff" d="M481 286 471 289 464 303 476 314 494 305Z"/><path fill="#55ff99" stroke="#55ff99" d="M513 296 511 287 491 275 484 284 497 302 505 305Z"/><path fill="#ff99aa" stroke="#ff99aa" d="M681 355 669 363 667 373 667 374 691 383 696 378 685 355Z"/><path fill="#99ffaa" stroke="#99ffaa" d="M620 387 615 376 596 376 591 384 593 392 609 400Z"/><path fill="#ffee44" stroke="#ffee44" d="M527 583 534 589 549 583 554 572 544 559 526 577Z"/><path fill="#ff7755" stroke="#ff7755" d="M510 595 510 609 519 617 527 617 531 613 531 593 524 588Z"/><path fill="#ff44aa" stroke="#ff44aa" d="M537 636 557 640 562 626 556 618 536 618 532 622Z"/><path fill="#ff9944" stroke="#ff9944" d="M536 639 529 656 533 664 538 665 559 650 557 643Z"/><path fill="#ff6677" stroke="#ff6677" d="M506 755 515 762 533 755 537 740 532 736 525 735 506 754Z"/><path fill="#ffaa33" stroke="#ffaa33" d="M683 841 677 844 671 857 671 868 676 871 697 862 685 842Z"/><path fill="#ffaa44" stroke="#ffaa44" d="M490 989 509 998 517 992 508 973 496 969 495 970Z"/><path fill="#22ddff" stroke="#22ddff" d="M795 49 795 52 798 55 816 55 823 43 823 32 809 32Z"/><path fill="#22ff99" stroke="#22ff99" d="M853 60 829 47 821 58 826 69 846 72Z"/><path fill="#33ff99" stroke="#33ff99" d="M924 33 903 33 902 58 902 59 926 50Z"/><path fill="#bbffbb" stroke="#bbffbb" d="M982 55 991 50 995 32 967 32 967 34 975 54Z"/><path fill="#22eecc" stroke="#22eecc" d="M1056 57 1061 59 1066 58 1075 31 1049 31Z"/><path fill="#ff8866" stroke="#ff8866" d="M957 75 960 88 971 94 983 81 979 67 972 65Z"/><path fill="#ff66aa" stroke="#ff66aa" d="M993 78 1012 85 1016 67 996 58 988 63Z"/><path fill="#ff88ee" stroke="#ff88ee" d="M828 104 821 116 834 127 847 127 847 111 840 103Z"/><path fill="#44ff99" stroke="#44ff99" d="M867 154 887 144 887 144 876 129 856 133 860 147Z"/><path fill="#ffbbee" stroke="#ffbbee" d="M988 147 989 130 989 129 958 137 955 140 981 155Z"/><path fill="#eeffaa" stroke="#eeffaa" d="M1071 134 1054 126 1047 132 1047 146 1055 153 1071 146Z"/><path fill="#eeffee" stroke="#eeffee" d="M896 226 886 240 895 252 903 252 913 238 913 231Z"/><path fill="#ff77ee" stroke="#ff77ee" d="M942 443 939 428 925 422 919 444 920 448 930 453 931 453Z"/><path fill="#bbffdd" stroke="#bbffdd" d="M1031 441 1048 441 1053 437 1054 433 1036 415 1031 417 1026 432 1027 437Z"/><path fill="#3399ff" stroke="#3399ff" d="M1094 403 1075 414 1075 416 1099 433 1101 433 1101 402Z"/><path fill="#cc44ff" stroke="#cc44ff" d="M997 482 992 488 989 502 992 511 1002 514 1007 511 1010 493 999 483Z"/><path fill="#ff4455" stroke="#ff4455" d="M779 757 767 759 761 764 765 778 789 778 789 764Z"/><path fill="#bb44ff" stroke="#bb44ff" d="M841 796 841 778 826 767 815 793Z"/><path fill="#22ff44" stroke="#22ff44" d="M1019 785 1019 788 1034 800 1046 794 1047 779 1046 777 1023 777Z"/><path fill="#55ff99" stroke="#55ff99" d="M841 849 827 835 814 835 816 845 826 865 828 865 841 854Z"/><path fill="#1122ee" stroke="#1122ee" d="M1030 859 1016 877 1017 880 1022 886 1045 875 1046 871 1039 858Z"/></g>
<g clip-path="url(#cb)"><rect x="1121" y="30" width="1045" height="1046" fill="#ecdcf0"/>
<g stroke-width="1" stroke-linejoin="round"><path fill="#f93" stroke="#f93" d="M1338 62 1342 58 1342 41 1341 39 1324 35 1317 50 1317 51ZM1140 100 1163 103 1166 100 1167 97 1166 95 1151 79 1144 82ZM1373 142 1392 140 1398 129 1386 117 1367 125 1367 127ZM1317 140 1300 140 1302 159 1312 157 1316 152ZM1392 171 1417 171 1398 148 1389 170ZM1147 157 1144 151 1125 152 1130 169 1144 164ZM1249 273 1258 266 1260 254 1259 253 1238 256 1240 270 1249 273ZM1285 398 1280 395 1277 396 1276 397 1278 422 1281 427 1293 432 1299 429ZM1330 402 1320 430 1332 433 1339 430 1339 401ZM1276 469 1274 452 1256 446 1240 454 1241 458 1269 476ZM1178 472 1163 462 1156 470 1166 486ZM1219 586 1226 598 1237 601 1254 595 1250 582 1240 575 1221 577ZM1308 576 1302 587 1301 598 1322 602 1334 590 1334 589ZM1441 601 1455 610 1456 610 1457 585 1451 583 1439 590ZM1156 657 1160 653 1150 640 1137 636 1131 644 1143 659ZM1368 672 1367 667 1340 660 1339 669 1352 683ZM1208 977 1210 969 1194 956 1192 956 1187 958 1185 980ZM1367 999 1367 989 1362 987 1347 995 1358 1005ZM1335 1067 1353 1061 1355 1056 1344 1042 1328 1050ZM1611 55 1600 55 1592 67 1608 88 1618 69 1616 61ZM1567 107 1573 109 1593 94 1575 80ZM1546 90 1546 105 1559 109 1561 108 1556 86ZM1633 156 1641 161 1648 159 1652 157 1647 126 1630 137 1627 150ZM1433 192 1434 196 1437 198 1452 202 1469 186 1469 182 1467 178 1451 176ZM1614 241 1629 236 1625 228 1600 228 1599 228 1601 232ZM1541 261 1539 261 1536 258 1510 249 1519 270 1528 275 1528 275 1536 286 1555 276 1547 264ZM1688 270 1680 267 1660 274 1658 279 1665 285 1681 281ZM1478 351 1479 354 1491 360 1501 354 1494 334 1492 334 1478 341ZM1652 346 1646 345 1628 356 1629 358 1626 386 1628 392 1644 391 1645 390 1648 375 1649 374 1660 351 1658 348ZM1503 510 1480 528 1482 530 1515 535 1518 533 1522 523 1540 522 1545 512 1540 502 1532 499 1519 517 1514 512ZM1547 559 1540 560 1525 573 1527 578 1543 579 1549 568ZM1584 609 1599 617 1613 602 1602 595 1580 601ZM1670 685 1662 691 1663 697 1668 703 1690 706 1694 701 1687 684 1684 682ZM1677 985 1689 975 1689 963 1680 956 1670 963 1669 986ZM1465 968 1464 967 1444 965 1434 974 1436 988 1460 986ZM1869 36 1867 30 1843 30 1846 47 1854 51 1863 46ZM1916 109 1914 123 1928 128 1938 123 1938 123 1927 107ZM1996 161 2009 160 2009 146 2008 143 1996 138 1992 140ZM2137 220 2146 219 2149 215 2141 200 2123 208 2128 215ZM1709 214 1709 218 1723 231 1731 225 1730 209 1722 201ZM2064 247 2068 260 2079 270 2084 256 2074 238ZM1924 280 1919 271 1912 268 1901 282 1902 284 1919 292 1924 284ZM1959 277 1955 279 1956 291 1966 298 1978 288 1976 284ZM1799 401 1794 396 1773 396 1780 412 1798 409ZM2092 425 2080 432 2079 437 2099 446 2105 430 2103 428ZM1836 461 1832 449 1813 449 1812 450 1806 470 1822 470ZM1874 503 1876 491 1873 484 1856 486 1854 488 1857 503ZM1906 521 1889 528 1902 539 1916 538 1920 536 1920 534ZM2096 631 2102 623 2103 616 2090 603 2089 605 2081 628ZM2164 625 2159 622 2148 631 2153 647 2164 639ZM2108 646 2097 637 2082 653 2101 662 2107 654ZM1712 892 1731 888 1731 887 1731 876 1725 868 1718 865 1715 869 1709 883Z"/><path fill="#f55" stroke="#f55" d="M1223 77 1206 76 1202 90 1213 93ZM1160 188 1170 181 1168 170 1164 168 1162 161 1147 157 1144 164 1147 175 1156 176ZM1373 196 1373 195 1368 192 1356 198 1362 214ZM1130 255 1123 252 1121 252 1121 278 1129 278ZM1283 280 1288 291 1291 292 1308 280 1309 276 1290 272ZM1121 322 1131 302 1128 295 1121 296ZM1130 330 1143 335 1155 324 1148 307 1128 328ZM1248 339 1235 316 1228 319 1228 338 1246 341ZM1354 425 1363 429 1376 424 1379 418 1376 406 1367 400 1358 403ZM1195 528 1205 530 1212 521 1219 522 1225 516 1215 503 1212 503 1204 510 1187 513 1186 514 1186 516ZM1181 568 1180 575 1193 586 1201 558 1200 557 1194 555ZM1256 651 1282 655 1288 643 1313 653 1315 653 1322 648 1322 642 1315 630 1289 633 1287 640 1264 636 1255 647ZM1211 812 1198 794 1194 791 1178 809 1210 816ZM1273 855 1281 858 1287 846 1283 836 1280 835 1281 817 1279 814 1257 813 1255 825 1256 827 1271 837 1270 850ZM1572 74 1571 73 1561 75 1556 86 1561 108 1567 107 1575 80ZM1789 107 1801 115 1813 108 1798 88 1788 103ZM1688 196 1720 196 1723 186 1715 181 1689 183 1687 194ZM1464 393 1466 403 1471 411 1483 406 1490 395 1489 393 1481 382 1471 378ZM1637 417 1645 432 1652 432 1657 420 1640 415ZM1601 423 1600 434 1606 440 1621 439 1622 438 1611 422ZM1519 462 1517 479 1520 484 1526 484 1534 480 1535 458 1529 457ZM1708 502 1706 479 1696 478 1691 480 1691 495ZM1442 514 1454 505 1455 499 1440 483 1439 483 1433 502 1441 514ZM1638 698 1661 691 1642 672 1632 687ZM1746 746 1746 728 1728 734 1724 740 1724 740 1738 750ZM1490 775 1491 772 1484 756 1478 753 1469 766 1482 778ZM1393 793 1381 792 1383 810 1399 817ZM1441 805 1431 792 1423 790 1417 795 1425 819 1439 815 1440 815ZM1607 828 1611 840 1625 851 1635 849 1636 848 1637 831 1613 817 1612 817ZM1463 944 1467 947 1476 945 1488 931 1476 920 1467 924ZM1715 947 1706 954 1704 963 1709 972 1721 970 1724 963 1717 947ZM1693 1049 1706 1068 1711 1063 1718 1043 1713 1033 1711 1033ZM1907 88 1920 83 1921 81 1913 63 1904 68 1906 88ZM2086 165 2096 170 2106 161 2106 160 2100 150 2097 149 2086 150ZM1917 304 1907 305 1896 321 1900 329 1912 323ZM1848 337 1846 335 1832 345 1829 350 1838 362 1854 358 1856 347ZM2029 367 2046 362 2052 353 2043 345 2024 352ZM1935 395 1940 407 1951 412 1955 399 1940 391ZM1886 417 1888 417 1904 410 1907 390 1902 389 1881 397 1877 410ZM2080 432 2092 425 2087 413 2075 420ZM2156 499 2164 491 2164 474 2164 470 2156 454 2146 451 2145 452 2135 470 2138 472 2142 494ZM1804 533 1813 537 1832 533 1830 517 1805 515ZM2075 588 2068 592 2063 598 2061 604 2070 615 2089 605 2090 603 2090 599ZM1809 634 1826 650 1816 658 1813 675 1829 682 1843 665 1830 649 1836 638 1837 628 1837 627 1829 623 1811 629ZM1992 636 1990 634 1980 631 1970 643 1973 650 1983 651 1992 641ZM2013 696 2026 715 2027 714 2036 684 2027 681 2016 689Z"/><path fill="#f98" stroke="#f98" d="M1265 38 1275 30 1254 30ZM1229 159 1234 149 1233 143 1216 138 1209 116 1206 116 1195 131 1195 133 1206 143 1202 158 1219 162ZM1127 175 1142 181 1147 175 1144 164 1130 169ZM1225 186 1240 189 1244 175 1233 166ZM1293 214 1307 201 1293 182 1291 182 1289 184 1281 202 1291 213ZM1371 254 1372 253 1362 222 1349 243 1349 243 1370 254ZM1152 232 1141 233 1138 235 1137 249 1155 249 1158 245 1157 237ZM1245 351 1231 358 1236 371 1252 362ZM1128 393 1121 391 1121 413 1125 414 1131 408ZM1298 468 1301 470 1312 467 1315 463 1311 431 1304 428 1299 429 1293 432 1291 437ZM1126 453 1121 449 1121 480 1130 479 1130 478ZM1228 482 1228 490 1239 503 1252 500 1255 489 1234 477ZM1246 518 1238 506 1229 516 1237 529 1240 529ZM1334 526 1331 516 1329 515 1307 522 1306 534 1311 535ZM1229 555 1219 539 1212 540 1200 557 1201 558 1218 567ZM1155 577 1161 573 1161 573 1154 558 1139 568ZM1198 590 1200 612 1211 617 1226 598 1219 586ZM1338 655 1340 660 1367 667 1369 663 1370 658 1360 647 1343 650ZM1352 683 1348 696 1352 702 1354 702 1375 697 1377 682 1368 672ZM1134 748 1130 760 1143 764 1151 762 1155 749 1138 746ZM1321 779 1338 783 1343 780 1339 762 1338 762 1325 765ZM1294 776 1293 783 1310 796 1315 792 1317 781 1308 774 1295 775ZM1168 810 1152 812 1146 830 1155 835 1164 833 1171 819 1170 812ZM1291 872 1288 872 1283 879 1295 900 1301 901 1305 896 1298 876 1294 873ZM1259 881 1258 882 1258 907 1263 912 1278 903 1280 880ZM1337 939 1342 931 1339 922 1331 918 1314 926 1314 930 1328 943ZM1276 929 1274 928 1256 943 1256 946 1267 954 1273 950 1276 929ZM1367 989 1367 999 1378 1003 1385 995 1386 991 1384 988 1376 986ZM1181 1030 1181 1027 1182 1025 1186 1009 1174 1000 1167 1002 1166 1008 1170 1020 1158 1027 1164 1048 1178 1037ZM1163 1074 1187 1074 1167 1063ZM1432 39 1439 64 1454 49 1453 41 1471 33 1471 30 1452 30 1452 40 1439 37ZM1501 93 1505 86 1493 70 1485 70 1479 96 1481 99ZM1458 157 1451 164 1451 176 1467 178 1469 171ZM1445 229 1454 226 1460 209 1452 202 1437 198 1440 228ZM1533 243 1518 233 1510 248 1510 249 1510 249 1536 258ZM1530 298 1518 294 1512 300 1521 310 1529 310ZM1401 313 1401 314 1411 323 1426 317 1422 303 1419 299ZM1442 357 1450 360 1453 354 1454 336 1469 333 1471 316 1464 310 1460 311 1445 331 1439 330 1435 335ZM1394 377 1397 382 1399 383 1414 385 1428 378 1423 362 1416 356 1425 341 1411 328 1396 344 1395 353 1397 357ZM1583 350 1582 360 1598 371 1604 371 1604 370 1596 350ZM1489 393 1503 374 1494 368 1481 382ZM1442 414 1457 428 1467 420 1471 411 1466 403 1449 400ZM1519 441 1530 437 1530 420 1519 421 1512 428ZM1555 449 1554 475 1572 475 1571 456 1569 453ZM1571 528 1571 516 1552 508 1545 512 1540 522 1553 536 1570 528ZM1604 554 1599 545 1593 541 1582 553 1582 558 1598 567 1604 559ZM1584 635 1597 631 1601 625 1599 617 1584 609 1578 627 1579 631ZM1402 648 1401 643 1382 634 1377 638 1377 650 1399 649ZM1520 688 1523 708 1532 711 1538 700 1537 689 1531 682 1521 683ZM1434 732 1434 728 1417 701 1400 716 1404 739ZM1417 795 1415 795 1399 817 1400 821 1401 822 1414 827 1421 824 1425 819ZM1448 837 1463 825 1459 816 1440 815 1439 815ZM1418 859 1423 857 1414 839 1398 847 1397 851 1401 856ZM1455 854 1475 862 1479 860 1484 848 1480 841 1472 840ZM1426 903 1426 896 1423 890 1400 884 1396 888 1392 897 1393 901 1398 906 1418 911ZM1592 909 1583 921 1588 926 1609 926 1602 909ZM1461 1035 1459 1033 1441 1041 1438 1060 1441 1062 1448 1060 1463 1043ZM1421 1074 1428 1060 1421 1053 1396 1074ZM1492 1062 1494 1074 1504 1074 1513 1064 1511 1061 1492 1062ZM1801 64 1821 61 1822 58 1814 37 1795 41 1788 30 1767 30 1767 30 1781 56 1790 55ZM1734 85 1759 83 1763 77 1748 64ZM1622 151 1600 138 1596 153 1610 160ZM1666 186 1663 178 1658 177 1639 192 1640 193 1649 198 1652 198ZM1752 193 1749 188 1725 185 1723 186 1720 196 1722 201 1730 209 1749 202ZM1645 231 1668 240 1676 231 1667 222 1652 215 1647 220ZM1721 234 1709 238 1700 259 1727 250 1727 249ZM1647 261 1657 261 1667 248 1667 242 1643 249ZM1707 282 1725 301 1736 291 1739 281 1707 281ZM1606 322 1621 339 1629 326 1616 312 1610 312ZM1658 348 1669 335 1663 316 1660 318 1652 346ZM1685 364 1702 361 1704 356 1706 355 1709 343 1701 334 1686 344 1685 344 1678 356ZM1734 356 1740 364 1753 360 1774 374 1782 367 1763 345 1762 345 1758 341 1745 339ZM1690 406 1688 404 1674 402 1671 420 1671 420 1676 421 1691 411ZM1762 442 1762 441 1771 427 1751 407 1749 407 1737 428 1735 429 1735 444 1755 455ZM1706 479 1712 476 1709 456 1696 462 1696 478ZM1671 492 1651 484 1650 497 1670 504 1673 504ZM1636 532 1646 547 1658 546 1665 538 1655 525 1641 521 1638 523ZM1753 555 1774 547 1772 541 1761 534 1750 532 1746 552ZM1619 578 1628 581 1630 578 1631 562 1626 558 1612 562ZM1822 595 1828 594 1840 574 1823 563 1820 564 1813 580ZM1687 665 1705 665 1704 638 1689 653ZM1692 749 1688 745 1686 745 1667 755 1661 772 1664 776 1673 776 1691 766ZM1700 815 1695 812 1690 812 1688 813 1681 832 1682 834 1691 841 1693 840 1701 831ZM1652 844 1652 829 1644 826 1637 831 1636 848ZM1738 859 1736 838 1732 837 1718 865 1713 860 1687 857 1679 866 1685 873 1715 869 1718 865 1725 868ZM1663 844 1654 845 1656 860 1676 865 1667 846ZM2130 49 2135 52 2155 50 2162 45 2158 38 2134 30 2132 30ZM1859 69 1884 56 1884 56 1888 60 1907 46 1892 31 1886 37 1869 36 1863 46 1854 51 1859 69ZM1896 109 1895 110 1895 117 1909 127 1914 123 1916 109 1927 107 1931 98 1920 83 1907 88 1916 109ZM2131 114 2108 108 2109 123 2117 128 2131 126ZM1984 117 1975 122 1976 139 1982 141 1992 140 1996 138 1997 133ZM1957 179 1952 203 1959 206 1969 201 1969 185 1960 178ZM2030 246 2030 228 2023 228 2009 235 2009 246ZM2091 284 2080 278 2072 285 2078 305 2096 301 2097 296ZM1838 280 1837 281 1836 291 1849 312 1856 298ZM1926 356 1943 363 1943 343 1930 342ZM1945 368 1949 374 1953 375 1974 372 1974 357 1964 350ZM1904 357 1884 360 1885 369 1902 389 1907 390 1913 388 1917 379 1916 375ZM2030 386 2027 390 2027 395 2034 408 2052 404 2058 394 2049 384ZM1973 461 1964 473 1968 480 1987 469 1997 481 1999 482 2001 502 2014 512 2025 490 2022 477 2010 476 2008 455 2005 452 2000 450 1991 435 1988 434 1979 435 1981 461ZM1941 442 1936 444 1930 461 1948 464 1954 453ZM2038 475 2049 484 2057 484 2066 465 2072 460 2068 445 2064 443 2040 444 2045 460ZM1903 557 1912 558 1916 538 1902 539 1898 553ZM1886 554 1884 552 1864 559 1868 570 1886 577ZM2103 616 2116 610 2106 589 2090 599 2090 603ZM2164 605 2157 609 2159 622 2164 625ZM2072 631 2071 630 2070 630 2055 638 2051 648 2060 661 2076 654 2077 653ZM2101 662 2101 673 2114 676 2128 662 2107 654ZM1968 672 1965 666 1956 663 1937 666 1937 688 1938 689 1950 695 1968 676ZM2003 698 1991 688 1982 691 1978 704 1985 717 1995 715Z"/><path fill="#2fc" stroke="#2fc" d="M1121 175 1121 202 1125 196 1124 176ZM1328 228 1320 220 1300 226 1304 244ZM1308 280 1291 292 1305 300 1312 299 1316 295ZM1267 311 1258 328 1259 335 1268 339 1279 321ZM1121 437 1128 421 1125 414 1121 413ZM1376 453 1379 452 1381 451 1386 445 1388 444 1395 438 1395 420 1379 418 1376 424 1363 429 1354 425 1343 430 1358 452 1367 450ZM1350 478 1353 478 1357 473 1357 453 1337 459 1341 472ZM1169 556 1169 563 1181 568 1194 555 1191 552 1185 549ZM1247 626 1255 623 1260 600 1258 597 1254 595 1237 601 1238 617ZM1173 599 1169 606 1170 611 1185 624 1195 614 1174 599ZM1209 631 1223 639 1232 638 1227 624 1211 618ZM1317 675 1331 675 1339 669 1340 660 1338 655 1322 648 1315 653ZM1354 702 1352 702 1348 696 1336 694 1323 712 1323 713 1340 717 1342 725 1363 729 1365 726ZM1275 755 1276 757 1294 771 1299 756 1295 750 1277 753ZM1342 808 1351 817 1364 819 1365 802 1353 795ZM1333 826 1314 825 1312 827 1317 845 1325 845 1337 836 1336 831ZM1152 901 1145 891 1125 897 1133 913 1140 917 1152 916ZM1202 948 1202 936 1195 931 1188 942 1192 956 1194 956ZM1150 962 1156 953 1153 937 1135 937 1132 951ZM1210 969 1208 977 1211 987 1222 992 1224 991 1231 978 1231 973 1224 962 1222 962ZM1343 994 1347 995 1362 987 1361 979 1350 975 1346 978ZM1378 1003 1367 999 1358 1005 1361 1020 1366 1025 1372 1024 1377 1016ZM1485 70 1493 70 1500 62 1502 49 1492 45 1477 57 1474 63ZM1550 72 1532 81 1546 90 1556 86 1561 75ZM1425 120 1416 131 1422 146 1428 151 1431 149 1436 126ZM1389 170 1389 170 1398 148 1398 148 1392 140 1373 142 1367 152 1368 154ZM1397 201 1420 208 1434 196 1433 192 1423 179 1421 173 1417 171 1392 171 1396 192 1396 192ZM1547 483 1534 480 1526 484 1532 499 1540 502ZM1440 515 1423 523 1416 531 1418 541 1419 542 1442 537 1443 535ZM1393 556 1392 548 1388 545 1376 543 1370 561 1391 564ZM1421 551 1412 559 1408 570 1423 582 1433 563 1433 562ZM1548 638 1546 641 1558 650 1563 649 1567 636 1560 632ZM1367 667 1368 672 1377 682 1394 679 1391 663 1369 663ZM1502 812 1520 805 1528 795 1529 791 1511 786 1498 799 1500 812ZM1546 868 1540 846 1533 844 1527 863 1536 874ZM1383 854 1376 849 1373 851 1366 876 1372 876 1387 867ZM1547 897 1539 892 1527 901 1522 920 1524 922 1550 904ZM1373 960 1377 960 1381 956 1383 949 1380 936 1363 936 1358 955ZM1486 963 1502 967 1503 966 1497 949 1486 955ZM1427 1017 1434 1022 1452 1020 1450 1008 1433 994 1431 995 1428 999ZM1397 1006 1397 1011 1406 1022 1406 1022 1414 1004 1404 999ZM1529 1026 1543 1031 1545 1029 1545 1015 1538 1010 1530 1014 1526 1021ZM1767 30 1754 48 1775 61 1781 56ZM1709 59 1700 44 1680 44 1677 50 1681 68 1706 63ZM1819 136 1824 131 1823 107 1813 108 1801 115 1801 125 1790 134 1792 141 1810 144 1818 138ZM1706 162 1689 174 1689 183 1715 181ZM1787 201 1789 226 1793 228 1805 226 1805 206ZM1644 391 1628 392 1624 398 1633 417 1637 417 1640 415 1646 400ZM1813 449 1832 449 1832 449 1830 438 1819 432 1813 434ZM1783 453 1762 442 1755 455 1755 456 1768 467ZM1607 523 1616 537 1624 540 1636 532 1638 523 1619 511ZM1719 556 1722 547 1715 535 1701 554ZM1753 555 1759 569 1762 570 1775 548 1774 547ZM1666 560 1652 567 1650 575 1661 578 1668 573 1671 562ZM1769 582 1774 591 1790 594 1792 591 1795 581 1788 572 1770 578ZM1711 636 1733 618 1734 610 1720 597 1717 598 1705 610 1699 626 1706 635ZM1736 838 1740 838 1753 816 1739 804 1737 805 1724 831 1732 837ZM1724 915 1728 917 1731 943 1741 948 1749 920 1747 914 1748 912 1742 893 1731 887 1731 888 1723 915ZM1681 923 1672 936 1683 948 1691 945 1697 931 1691 922ZM1585 946 1566 933 1560 940 1565 951 1569 952ZM1707 977 1707 989 1707 990 1728 990 1723 972 1721 970 1709 972ZM1644 1005 1630 998 1623 1001 1630 1022 1638 1023 1644 1006ZM1597 1048 1592 1042 1569 1040 1570 1047 1579 1054ZM2164 30 2159 30 2158 38 2162 45 2164 46ZM2056 66 2068 66 2075 62 2076 50 2071 44 2052 40 2050 47ZM1888 60 1884 56 1884 56 1859 69 1886 74 1890 65ZM1966 153 1972 165 1984 166 1982 141 1976 139 1974 140ZM1840 173 1856 175 1859 153 1856 148 1853 147 1841 151 1830 164 1830 165ZM1900 153 1889 177 1889 177 1914 168 1917 165 1917 162ZM2014 166 2009 160 1996 161 1986 168 1989 178 2011 176ZM1912 268 1907 257 1896 261 1890 278 1901 282ZM1943 343 1950 336 1938 316 1936 315 1926 326 1924 337 1930 342ZM1834 396 1844 380 1837 372 1821 374 1825 391 1830 396ZM2132 408 2150 409 2152 392 2149 386 2141 382 2123 390ZM1923 393 1913 388 1907 390 1904 410 1906 413 1920 418 1926 413ZM1857 446 1860 452 1874 451 1880 443 1877 435 1869 431 1857 440ZM1912 506 1892 509 1884 517 1886 527 1889 528 1906 521ZM1931 550 1917 563 1919 573 1925 572 1940 557ZM1973 580 1962 584 1958 594 1965 602 1975 602 1977 598ZM2157 609 2164 605 2164 574 2146 591 2152 607ZM2164 639 2153 647 2153 647 2164 651ZM1843 665 1865 655 1863 649 1836 638 1830 649 1843 665ZM1913 684 1912 682 1893 682 1886 688 1886 690 1894 703 1910 694 1922 710 1938 689 1937 688ZM2033 715 2053 702 2040 684 2036 684 2027 714Z"/><path fill="#95f" stroke="#95f" d="M1265 43 1258 50 1254 65 1259 66 1277 61 1278 51ZM1254 121 1254 121 1259 94 1247 84 1235 117 1241 123ZM1186 108 1166 100 1163 103 1162 117 1172 126 1179 122ZM1229 159 1219 162 1212 190 1216 190 1225 186 1233 166ZM1226 227 1223 226 1216 237 1195 242 1195 244 1208 267 1213 268 1222 253 1234 252 1239 240 1238 235ZM1131 254 1153 270 1155 249 1137 249ZM1283 280 1290 272 1296 251 1279 248 1274 251 1278 279ZM1344 278 1338 258 1336 258 1320 269 1329 281 1344 278ZM1142 476 1150 492 1166 488 1166 486 1156 470 1145 473ZM1160 529 1174 535 1175 535 1186 516 1186 514 1172 509 1159 525ZM1240 553 1229 555 1218 567 1221 577 1240 575 1243 559 1241 553ZM1213 714 1226 715 1231 705 1211 695 1221 683 1220 670 1200 665 1205 695 1208 696ZM1303 683 1295 677 1277 695 1275 708 1277 710 1300 693ZM1157 704 1173 701 1170 693 1152 688ZM1317 845 1314 848 1302 847 1291 872 1294 873 1312 864 1314 862 1329 863 1332 858 1325 845ZM1188 909 1214 902 1215 901 1213 889 1211 888 1189 896ZM1279 974 1289 952 1273 950 1267 954 1268 969ZM1177 957 1164 976 1183 981 1185 980 1187 958ZM1254 1034 1259 1024 1243 1007 1230 1022 1236 1031ZM1178 1037 1191 1054 1195 1056 1196 1074 1214 1074 1221 1057 1221 1055 1208 1046 1207 1039 1181 1030ZM1374 54 1395 35 1393 30 1374 30ZM1342 58 1350 58 1360 48 1357 42 1342 41ZM1342 111 1329 114 1330 127 1343 129 1348 118ZM1369 176 1368 154 1367 152 1357 154 1354 157 1353 159 1357 181 1362 182ZM1418 234 1432 235 1440 228 1437 198 1434 196 1420 208 1412 227ZM1402 256 1405 265 1405 265 1411 266 1424 259 1417 238ZM1450 269 1450 267 1446 256 1441 255 1431 259 1431 281ZM1347 398 1358 403 1367 400 1369 391 1355 369 1351 370 1340 367 1336 368 1330 374 1342 399ZM1443 473 1442 481 1463 478 1461 464 1453 463 1440 449 1434 459ZM1419 477 1422 466 1414 453 1405 455 1400 470 1401 472 1411 482ZM1481 619 1491 617 1493 614 1495 599 1513 598 1515 595 1498 574 1492 594 1477 595 1472 611ZM1382 634 1381 627 1377 622 1365 621 1363 634 1377 638ZM1447 700 1458 714 1461 715 1468 699 1457 692 1447 700ZM1441 767 1450 761 1450 760 1435 732 1434 732 1428 761 1434 766ZM1510 784 1510 771 1500 768 1491 772 1490 775 1493 779ZM1463 807 1459 816 1463 825 1465 826 1485 817 1473 803ZM1395 871 1400 879 1418 859 1401 856ZM1385 995 1378 1003 1377 1016 1397 1011 1397 1006ZM1483 1034 1491 1032 1494 1010 1482 1016 1477 1032ZM1324 1047 1328 1050 1344 1042 1344 1039 1338 1031 1329 1029ZM1474 1059 1462 1067 1461 1074 1479 1074 1478 1063ZM1654 104 1674 78 1674 77 1669 74 1644 76 1643 76 1648 99ZM1641 161 1636 189 1639 192 1658 177 1648 159ZM1576 247 1571 247 1567 256 1567 271 1577 275 1586 255ZM1856 298 1859 296 1863 285 1859 272 1862 270 1866 251 1860 242 1847 245 1842 265 1844 269 1838 280ZM1836 291 1825 304 1849 312 1849 312ZM1702 320 1703 320 1709 310 1704 289 1688 301 1688 304 1698 319ZM1725 301 1725 304 1736 321 1750 312 1736 291ZM1669 335 1681 336 1683 326 1670 316 1663 315 1663 316ZM1652 346 1660 318 1641 322 1639 324 1646 345ZM1796 373 1794 396 1799 401 1806 399 1811 390 1805 375ZM1597 456 1604 451 1606 440 1600 434 1589 442ZM1693 443 1685 444 1687 458 1696 462 1709 456 1711 453ZM1571 456 1572 475 1577 481 1597 472 1595 467ZM1658 546 1646 547 1643 556 1652 567 1666 560ZM1645 597 1643 597 1626 614 1630 627 1630 628 1636 631 1642 629 1652 608ZM1535 659 1533 679 1558 673 1553 662ZM1586 690 1584 662 1564 676 1564 681 1578 694ZM1709 815 1718 804 1705 793 1695 812 1700 815ZM1644 807 1639 808 1644 826 1652 829 1661 823ZM1610 955 1622 952 1624 950 1612 928 1601 944ZM1515 944 1513 944 1507 964 1530 967 1530 958ZM1723 972 1739 973 1743 955 1724 963 1721 970ZM1669 986 1670 963 1656 954 1656 954 1646 976 1649 981 1665 988 1669 987ZM1514 1023 1516 1044 1527 1042 1529 1026 1526 1021ZM1917 48 1917 30 1893 30 1892 31 1907 46ZM1931 98 1927 107 1938 123 1947 117 1956 100 1951 93 1951 92 1948 76 1947 75 1939 71 1921 81 1920 83ZM2050 90 2057 100 2062 99 2069 85 2065 80 2049 81ZM1923 142 1923 141 1928 128 1914 123 1909 127 1907 135ZM2086 150 2097 149 2093 132 2083 128 2071 143ZM2050 141 2045 133 2031 131 2028 132 2028 147 2045 149ZM1903 188 1912 204 1927 196 1925 192 1911 184ZM1907 214 1887 188 1886 212 1906 218ZM2143 273 2145 273 2157 254 2149 243 2146 244 2138 251ZM1890 278 1896 261 1883 254 1876 269 1887 278ZM1967 265 1968 262 1952 255 1944 272 1948 276 1955 279 1959 277ZM1919 292 1902 284 1897 298 1907 305 1917 304 1919 303ZM2014 346 2009 349 2001 363 2005 367 2028 371 2029 367 2024 352 2018 347ZM2156 454 2164 445 2158 436 2148 438 2146 451ZM2045 555 2044 552 2027 553 2019 574 2029 582 2036 580ZM2075 588 2090 599 2106 589 2107 588 2087 560 2085 561 2076 581ZM1962 584 1954 578 1942 587 1941 595 1958 594ZM1929 609 1934 605 1936 600 1920 577 1914 596 1921 607 1927 609ZM1993 586 1985 596 1996 605 2007 594 2005 590ZM2039 647 2051 648 2055 638 2042 623 2037 624 2034 637ZM1913 684 1937 688 1937 666 1929 659 1927 659 1912 669 1912 682Z"/><path fill="#f4e" stroke="#f4e" d="M1258 50 1242 37 1240 31 1235 34 1228 53 1241 55 1252 66 1254 65ZM1359 67 1358 70 1372 81 1379 79 1373 55 1372 55ZM1186 108 1179 122 1195 131 1206 116 1209 116 1220 110 1220 110 1213 93 1202 90 1194 95 1193 106ZM1364 116 1365 104 1360 98 1348 98 1342 111 1348 118ZM1267 220 1265 218 1253 219 1252 226 1257 236 1271 232ZM1148 343 1143 335 1130 330 1127 353 1139 357 1146 354ZM1322 351 1311 354 1309 358 1309 368 1319 377 1330 374 1336 368ZM1208 352 1207 351 1193 347 1182 365 1191 383 1206 383 1207 381 1211 365ZM1395 353 1384 352 1363 362 1361 364 1380 380 1394 377 1397 357ZM1139 568 1154 558 1156 550 1153 547 1132 551 1129 558 1135 568ZM1192 717 1208 737 1211 735 1211 715 1193 716ZM1294 776 1295 775 1294 771 1276 757 1275 755 1256 748 1251 755 1267 772 1267 773ZM1233 760 1205 761 1214 781 1225 786 1230 784 1235 762ZM1150 782 1145 780 1131 784 1129 801 1132 804 1134 804 1151 792ZM1147 854 1135 857 1135 866 1148 882 1163 877 1167 861ZM1276 929 1295 948 1296 948 1303 934 1290 920 1290 920 1276 929ZM1175 935 1173 930 1159 927 1153 937 1156 953 1172 952ZM1154 985 1156 977 1150 969 1133 974 1131 978 1134 992ZM1367 989 1376 986 1369 972 1361 979 1362 987ZM1245 984 1231 978 1224 991 1245 1002 1248 999ZM1421 1053 1418 1047 1421 1040 1413 1024 1406 1022 1406 1022 1400 1028 1402 1046 1394 1053 1394 1074 1396 1074ZM1597 184 1593 204 1610 207 1611 202 1607 188ZM1636 215 1647 220 1652 215 1649 198 1640 193 1640 194ZM1587 207 1580 204 1570 211 1572 221 1587 230 1591 227ZM1490 265 1510 249 1510 248 1486 234 1479 239 1483 264ZM1445 305 1435 323 1439 330 1445 331 1460 311ZM1681 336 1685 344 1686 344 1701 334 1702 320 1698 319 1683 326ZM1569 408 1550 408 1544 412 1555 437 1561 433 1580 431 1583 423 1573 416ZM1529 457 1535 458 1551 448 1530 437 1519 441 1519 442ZM1569 453 1571 456 1595 467 1597 456 1589 442 1584 441ZM1670 595 1664 591 1651 590 1645 597 1652 608 1642 629 1657 631 1663 629 1666 606 1672 602 1672 600ZM1478 630 1472 637 1472 637 1483 651 1498 642 1497 641ZM1507 714 1487 712 1485 713 1484 717 1487 726 1499 734ZM1590 791 1560 799 1561 805 1571 815 1594 803ZM1676 865 1676 866 1679 866 1687 857 1713 860 1710 847 1693 840 1691 841 1682 834 1667 846ZM1532 843 1518 839 1513 842 1516 862 1527 863 1533 844ZM1524 922 1524 924 1545 927 1557 911 1550 904ZM1444 965 1464 967 1467 947 1463 944 1453 942 1443 959ZM1530 958 1530 967 1534 973 1552 965 1547 944 1538 946ZM1709 972 1704 963 1689 963 1689 975 1707 977ZM1503 1043 1494 1048 1492 1062 1511 1061 1511 1047ZM1683 1045 1677 1067 1706 1074 1706 1068 1693 1049ZM1917 48 1918 50 1931 50 1952 32 1951 30 1917 30ZM1859 153 1874 156 1880 154 1889 144 1887 142 1870 132 1856 148ZM1757 219 1766 217 1780 196 1777 194 1765 166 1755 162 1754 163 1749 188 1752 193 1749 202ZM1882 231 1876 218 1872 216 1862 222 1862 240 1876 237ZM1947 244 1972 243 1977 232 1977 231 1974 226 1967 223 1936 235 1937 237ZM1876 269 1883 254 1883 253 1882 253 1866 251 1862 270ZM2116 266 2130 275 2143 273 2138 251 2113 256ZM1802 299 1793 291 1776 304 1784 313 1797 313 1803 306ZM2091 404 2093 388 2091 383 2086 380 2077 379 2069 394 2072 400 2090 405ZM1775 425 1771 427 1762 441 1762 442 1783 453 1785 453 1792 442 1812 450 1813 449 1813 434 1801 425 1791 432ZM1787 495 1804 502 1797 473 1791 477ZM2062 489 2057 484 2049 484 2040 499 2040 503 2055 509 2064 494ZM1940 557 1947 558 1952 538 1943 536 1928 541 1931 550ZM1864 628 1866 632 1876 633 1893 620 1893 620 1895 612 1892 605 1880 595 1877 596 1872 617 1866 620ZM2006 656 2014 651 2015 640 2012 633 1992 636 1992 641 2003 656ZM1860 683 1871 695 1886 690 1886 688 1872 669ZM2124 690 2125 689 2114 676 2101 673 2100 674 2100 680 2114 699ZM1712 769 1711 757 1721 757 1724 740 1724 740 1715 739 1700 748 1692 749 1691 766 1695 771Z"/><path fill="#1f3" stroke="#1f3" d="M1240 31 1241 30 1210 30 1216 35 1235 34ZM1301 51 1317 50 1324 35 1322 30 1302 30 1292 42ZM1288 80 1289 108 1297 110 1304 81 1292 76ZM1367 127 1367 125 1364 116 1348 118 1343 129 1345 131ZM1173 145 1170 141 1152 139 1156 120 1140 118 1137 131 1147 141 1144 151 1147 157 1162 161ZM1125 196 1143 188 1151 195 1160 188 1160 188 1156 176 1147 175 1142 181 1127 175 1124 176ZM1264 186 1244 196 1243 203 1246 207 1269 201 1270 199ZM1345 188 1322 187 1318 199 1319 200 1340 209 1347 195ZM1238 256 1259 253 1255 245 1239 240 1234 252ZM1353 277 1360 293 1371 289 1369 280 1359 273ZM1176 268 1155 271 1158 297 1166 299 1173 295 1178 276 1177 270ZM1253 301 1241 310 1241 310 1258 328 1267 311 1266 306 1258 301ZM1192 346 1165 349 1160 368 1161 371 1163 373 1182 365 1193 347ZM1309 358 1293 353 1285 368 1291 374 1292 374 1309 368ZM1264 368 1252 362 1236 371 1234 377 1211 365 1207 381 1223 386 1222 399 1238 405 1240 403 1235 382 1254 381 1264 369ZM1294 501 1302 502 1304 500 1305 496 1300 473 1286 488ZM1138 529 1152 539 1160 529 1159 525 1148 519 1139 524ZM1342 542 1341 534 1334 526 1311 535 1320 550ZM1303 535 1286 531 1283 552 1299 556ZM1176 637 1184 633 1185 624 1170 611 1164 626ZM1317 620 1315 630 1322 642 1336 629 1335 620 1322 615ZM1262 627 1255 623 1247 626 1242 638 1255 647 1264 636ZM1317 707 1307 706 1297 717 1311 732 1316 732 1323 713 1323 712ZM1232 750 1244 731 1244 729 1228 726 1220 734ZM1148 732 1146 733 1138 746 1155 749 1160 744 1161 742ZM1333 826 1332 808 1318 810 1314 825ZM1188 910 1189 917 1191 919 1219 920 1214 902 1188 909ZM1238 924 1246 931 1247 931 1263 915 1263 912 1258 907 1244 907ZM1328 943 1316 966 1331 968 1352 955 1337 939ZM1282 979 1287 981 1312 976 1316 967 1296 948 1295 948 1289 952 1279 974ZM1246 970 1249 979 1259 978 1267 969 1249 964ZM1432 39 1424 37 1423 30 1393 30 1395 35 1405 47 1412 47 1424 64 1433 68 1438 66 1439 64ZM1372 55 1373 55 1374 54 1374 54 1374 30 1363 30 1357 42 1360 48ZM1505 47 1502 49 1500 62 1517 67 1519 53ZM1480 104 1467 112 1470 125 1479 131 1485 111ZM1483 146 1460 147 1458 157 1469 171 1486 161ZM1469 182 1469 186 1486 202 1494 188 1488 179ZM1503 224 1491 207 1486 205 1482 210 1486 232ZM1380 221 1362 222 1362 222 1372 253 1378 249 1383 228ZM1490 265 1496 273 1505 276 1519 270 1510 249 1510 249ZM1471 378 1481 382 1494 368 1491 360 1479 354 1468 374ZM1361 364 1355 369 1369 391 1380 380ZM1503 454 1503 453 1500 452 1487 449 1479 454 1484 473 1501 468ZM1492 493 1518 486 1520 484 1517 479 1505 474 1490 492ZM1433 562 1443 551 1442 537 1419 542 1421 551ZM1412 559 1393 556 1391 564 1393 571 1397 574 1408 570ZM1441 601 1439 590 1451 583 1446 570 1433 563 1423 582 1422 585 1426 588 1427 611ZM1489 569 1485 569 1472 587 1477 595 1492 594 1498 574 1498 573 1495 571ZM1513 614 1513 598 1495 599 1493 614ZM1578 627 1562 619 1573 602 1558 601 1553 606 1557 619 1559 619 1560 632 1567 636 1579 631ZM1417 616 1413 612 1394 616 1394 623 1402 633 1416 620ZM1546 622 1532 625 1531 637 1535 644 1546 641 1548 638 1547 622ZM1471 659 1471 675 1471 675 1486 665 1486 659 1483 656ZM1424 692 1423 681 1415 662 1394 679 1402 690 1417 698ZM1513 736 1526 743 1528 740 1529 723 1535 717 1532 711 1523 708 1510 712 1509 713 1516 724ZM1477 740 1479 748 1500 737 1499 734 1487 726ZM1464 768 1469 766 1478 753 1478 752 1459 747 1450 760 1450 761ZM1554 746 1543 757 1562 778 1566 776 1574 755 1562 744ZM1398 847 1393 837 1376 840 1376 849 1383 854 1397 851ZM1576 895 1565 883 1561 884 1547 897 1550 904 1557 911 1567 914ZM1476 945 1486 955 1497 949 1500 942 1491 931 1488 931ZM1568 1051 1557 1058 1556 1066 1567 1074 1570 1068ZM1621 39 1620 38 1622 30 1605 30 1619 39 1611 55 1616 61 1637 55 1640 52ZM1795 41 1814 37 1816 30 1788 30ZM1734 85 1748 64 1743 54 1740 52 1738 36 1728 30 1721 30 1720 56 1726 56 1733 86ZM1669 74 1674 77 1681 68 1677 50 1655 53ZM1588 158 1596 153 1600 138 1599 134 1598 132 1583 130 1580 137 1586 156ZM1677 163 1675 158 1660 155 1652 157 1648 159 1658 177 1663 178ZM1599 173 1596 183 1597 184 1607 188 1619 180 1618 176 1609 167ZM1652 198 1666 203 1686 194 1666 186ZM1828 229 1826 240 1827 241 1845 243 1842 224ZM1813 240 1807 227 1805 226 1793 228 1789 226 1776 228 1770 241 1782 251 1792 239 1806 250 1808 250ZM1817 290 1802 299 1803 306 1817 313 1824 304ZM1818 372 1805 375 1811 390 1825 391 1821 374ZM1696 382 1688 388 1688 404 1690 406 1701 399 1700 383ZM1674 402 1670 397 1657 407 1660 418 1671 420ZM1584 441 1589 442 1600 434 1601 423 1611 422 1614 418 1616 400 1601 396 1594 400 1595 418 1583 423 1580 431ZM1671 492 1676 475 1674 471 1673 470 1650 481 1651 484ZM1678 514 1655 525 1665 538 1684 535 1688 527 1709 521 1710 504 1708 502 1691 495 1675 505ZM1619 578 1612 562 1604 559 1598 567 1582 558 1574 569 1586 579 1591 577 1598 568 1609 578ZM1616 602 1626 614 1643 597 1628 584ZM1810 607 1805 613 1811 629 1829 623 1817 605ZM1734 610 1733 618 1754 639 1754 613 1735 610ZM1653 742 1637 754 1635 761 1638 765 1661 772 1667 755ZM1591 786 1605 783 1611 775 1612 762 1607 758 1594 760 1588 782ZM1611 840 1607 828 1595 830 1585 837 1582 848 1590 856 1602 851ZM1654 845 1652 844 1636 848 1635 849 1646 866 1656 860ZM1606 865 1598 871 1604 882 1607 882 1617 877 1612 867ZM1590 969 1604 965 1610 955 1601 944 1589 947ZM1592 1030 1584 1019 1569 1023 1565 1034 1569 1040 1592 1042ZM1740 1027 1740 1046 1744 1048 1764 1044 1765 1043 1764 1032 1758 1020 1757 1020ZM2009 38 2005 32 1974 48 1976 65 1980 70 2004 63ZM1947 75 1962 42 1952 32 1931 50 1939 71ZM2157 72 2164 69 2164 46 2162 45 2155 50 2153 69 2156 72ZM1856 75 1879 91 1887 87 1886 74 1859 69 1859 69 1854 51 1846 47 1822 58 1821 61 1821 62 1847 83 1847 83ZM2135 52 2130 49 2125 52 2117 63 2130 82 2140 66ZM2068 66 2056 66 2045 75 2049 81 2065 80ZM2077 109 2096 104 2084 91 2074 104ZM1997 98 1984 117 1997 133 2009 116 2009 110 2001 98ZM2032 111 2031 131 2045 133 2049 125 2043 110 2035 109ZM1959 124 1947 117 1938 123 1938 123 1946 139 1946 139 1957 135ZM2117 128 2109 123 2106 127 2106 142 2120 142ZM1940 151 1941 145 1923 141 1923 142 1919 160 1929 159ZM2026 191 2044 185 2045 167 2056 167 2066 159 2070 143 2070 143 2050 141 2045 149 2045 167 2031 166ZM2128 163 2122 174 2130 179 2144 171 2141 167ZM1887 182 1888 186 1903 188 1911 184 1914 168 1889 177ZM2146 172 2145 192 2145 192 2164 195 2164 182 2155 172ZM2053 206 2046 216 2046 218 2076 233 2079 231 2080 213 2074 208ZM1991 270 1993 267 1992 261 1974 255 1968 262 1967 265 1979 275ZM1999 389 2009 385 2005 367 2001 363 1999 363 1994 368 1994 387ZM1906 413 1904 410 1888 417 1898 438 1905 430ZM1941 442 1946 427 1938 425 1923 431 1923 432 1923 436 1936 444ZM2096 472 2089 468 2080 483 2087 499 2098 499 2101 480ZM2164 524 2164 510 2155 504 2149 514 2157 524ZM2095 534 2090 557 2088 559 2087 560 2107 588 2113 585 2118 578 2110 558 2106 555 2113 540 2123 539 2133 521 2132 520 2126 515 2112 513 2107 527ZM1850 536 1862 545 1881 534 1882 532 1857 525 1856 525ZM2055 570 2051 560 2045 555 2036 580 2043 584 2052 581ZM1857 609 1866 620 1872 617 1877 596 1860 595ZM1951 640 1957 636 1958 626 1933 618 1933 622 1942 641ZM2154 697 2164 695 2164 669 2145 668 2143 679ZM2092 696 2092 692 2077 684 2067 693 2055 670 2050 672 2040 684 2053 702 2059 703 2066 699 2072 702Z"/><path fill="#f7b" stroke="#f7b" d="M1151 79 1154 76 1151 57 1140 50 1148 30 1121 30 1121 55 1131 55 1138 77 1144 82ZM1316 152 1312 157 1325 173 1329 170 1331 154ZM1266 306 1284 298 1288 291 1283 280 1278 279 1274 251 1260 254 1258 266 1275 279 1262 288 1258 301ZM1133 283 1133 281 1129 278 1121 278 1121 296 1128 295ZM1235 316 1248 339 1259 335 1258 328 1241 310ZM1166 335 1160 324 1155 324 1143 335 1148 343 1146 354 1160 368 1165 349 1159 344ZM1137 367 1139 357 1127 353 1121 357 1121 371 1124 372ZM1240 403 1238 405 1233 416 1233 422 1237 429 1255 422 1259 437 1281 427 1278 422 1276 397 1266 399 1259 416 1257 417 1241 404ZM1160 407 1156 424 1164 438 1181 431 1188 414 1163 404 1162 404ZM1168 490 1191 487 1187 513 1204 510 1212 503 1197 480 1195 480 1186 472 1178 472 1166 486 1166 488ZM1278 570 1278 554 1266 551 1259 567 1259 567 1273 574ZM1133 577 1144 592 1152 588 1155 577 1139 568 1135 568ZM1209 631 1185 634 1200 656 1204 651ZM1271 674 1277 695 1295 677 1292 674 1282 666 1282 655 1256 651 1253 658 1238 665 1245 682 1254 684 1264 675ZM1121 677 1121 698 1128 694ZM1152 688 1151 686 1141 690 1137 695 1141 711 1150 714 1157 704ZM1362 743 1363 729 1342 725 1336 735 1355 750 1358 749ZM1299 756 1294 771 1295 775 1308 774 1316 761 1313 755ZM1139 831 1127 849 1135 857 1147 854 1155 835 1146 830ZM1281 858 1273 855 1256 867 1259 881 1280 880 1283 879 1288 872ZM1148 882 1145 891 1152 901 1167 898 1171 885 1163 877ZM1177 957 1172 952 1156 953 1150 962 1150 969 1156 977 1164 976ZM1155 987 1154 985 1134 992 1132 995 1144 1007ZM1471 30 1471 33 1472 34 1487 36 1491 30ZM1531 103 1537 107 1546 105 1546 90 1532 81 1550 72 1540 50 1539 50 1524 80 1524 81 1525 82 1528 98ZM1386 117 1386 106 1384 103 1365 104 1364 116 1367 125ZM1455 136 1470 125 1467 112 1461 112 1450 119 1449 124ZM1534 130 1534 130 1516 119 1507 119 1504 121 1504 122 1509 133 1533 142 1534 141ZM1559 188 1557 192 1554 195 1552 208 1570 211 1580 204 1578 196 1580 185 1585 182 1583 164 1568 169 1572 180ZM1412 292 1402 275 1389 286 1388 293 1391 297ZM1488 312 1492 334 1494 334 1504 332 1510 326 1509 319 1495 304ZM1358 314 1365 328 1384 324 1383 311 1367 310ZM1482 477 1489 491 1490 492 1505 474 1501 468 1484 473ZM1403 502 1407 527 1416 531 1423 523 1413 499 1408 495 1405 496ZM1595 517 1582 509 1572 514 1571 516 1571 528 1591 533 1598 525ZM1458 551 1459 538 1443 535 1442 537 1443 551ZM1524 592 1527 578 1525 573 1517 567 1498 573 1498 574 1515 595ZM1549 588 1540 598 1542 604 1553 606 1558 601 1553 588ZM1391 663 1394 679 1394 679 1415 662 1416 655 1415 654 1402 648 1399 649ZM1482 687 1495 684 1499 679 1486 665 1471 675ZM1403 741 1392 741 1385 745 1380 768 1381 769 1395 767 1405 754ZM1428 761 1418 762 1415 772 1424 786 1434 766ZM1497 814 1486 818 1485 833 1505 840ZM1546 868 1548 868 1559 860 1563 848 1558 840 1558 840 1540 846ZM1484 848 1479 860 1499 874 1499 874 1502 875 1516 862 1513 842 1506 842 1498 850ZM1396 888 1400 884 1400 879 1395 871 1387 867 1372 876ZM1435 928 1445 932 1453 921 1437 908 1459 900 1460 898 1454 889 1426 896 1426 903 1431 907ZM1408 957 1408 943 1383 949 1381 956 1394 961ZM1544 1069 1536 1058 1519 1067 1521 1074 1543 1074ZM1605 30 1592 30 1588 41 1600 55 1611 55 1619 39ZM1846 47 1843 30 1816 30 1814 37 1822 58ZM1757 99 1759 83 1734 85 1733 86 1728 92 1742 101ZM1690 111 1711 104 1715 98 1716 97 1710 86 1680 84ZM1710 136 1719 144 1730 128 1716 121ZM1818 138 1830 164 1841 151 1830 132 1824 131 1819 136ZM1740 151 1721 151 1717 156 1728 175 1749 161ZM1709 214 1722 201 1720 196 1688 196 1689 204ZM1625 222 1625 228 1629 236 1631 238 1645 231 1647 220 1636 215ZM1758 275 1761 274 1784 262 1782 251 1770 241 1766 242 1757 274ZM1709 343 1722 340 1726 326 1703 320 1702 320 1701 334ZM1604 371 1598 371 1579 383 1579 389 1581 395 1594 400 1601 396 1605 377ZM1740 401 1719 403 1718 382 1715 381 1706 380 1700 383 1701 399 1713 406 1718 405 1727 427 1714 432 1712 452 1727 456 1735 444 1735 429 1737 428 1749 407 1751 407 1765 391 1765 388 1740 374 1734 380ZM1801 425 1803 419 1798 409 1780 412 1775 425 1791 432ZM1768 493 1759 498 1761 503 1770 512 1784 506 1785 497ZM1820 564 1823 563 1837 546 1838 539 1832 533 1813 537 1815 560ZM1752 572 1759 569 1753 555 1746 552 1741 555 1739 561ZM1609 578 1598 568 1591 577 1602 590ZM1836 638 1863 649 1866 632 1864 628 1837 628ZM1764 701 1768 705 1777 704 1785 686 1773 684 1767 674 1754 683 1750 694ZM1703 702 1711 698 1714 692 1710 675 1687 684 1694 701ZM1746 781 1743 775 1733 770 1721 776 1719 780 1728 802 1737 805 1739 804 1746 789ZM1667 814 1688 813 1690 812 1684 799 1663 796ZM1731 876 1731 887 1742 893 1754 883 1750 875ZM1663 909 1659 882 1643 880 1637 885 1652 909 1658 911ZM1731 943 1717 947 1724 963 1743 955 1744 952 1741 948ZM1638 1023 1644 1027 1655 1016 1644 1006ZM2016 41 2050 37 2050 30 2005 30 2005 32 2009 38ZM2032 111 2035 109 2033 96 2023 85 2015 84 2001 98 2009 110ZM2130 145 2135 129 2145 128 2149 112 2142 106 2131 114 2131 126 2117 128 2120 142 2126 147ZM1996 161 1992 140 1982 141 1984 166 1986 168ZM2164 182 2164 158 2155 172ZM1940 207 1952 203 1957 179 1948 174 1947 174 1932 198ZM2153 238 2146 219 2137 220 2134 235 2146 244 2149 243ZM2045 251 2049 247 2044 221 2030 228 2030 246 2038 252 2028 265 2036 276 2050 266ZM1947 244 1952 255 1968 262 1974 255 1972 243ZM1924 280 1924 284 1936 288 1948 276 1944 272 1941 270ZM1991 270 1979 275 1976 284 1978 288 1992 292ZM1882 296 1881 289 1863 285 1859 296 1874 302ZM1890 300 1890 317 1896 321 1907 305 1897 298ZM2028 333 2039 333 2039 316 2023 315 2022 316ZM1930 342 1924 337 1911 343 1911 349 1924 357 1926 356ZM2064 343 2053 353 2069 370 2071 370 2081 352 2076 342ZM1884 359 1880 349 1856 347 1854 358 1858 369ZM2150 409 2132 408 2125 421 2142 426 2152 414 2152 413ZM1951 493 1945 482 1935 482 1927 501 1936 505 1950 496ZM1983 513 1984 510 1973 499 1959 515 1959 520 1962 520ZM1857 503 1855 505 1860 518 1878 511 1874 503ZM2130 547 2139 547 2145 539 2133 521 2123 539ZM1953 537 1952 538 1947 558 1950 562 1952 563 1966 562 1975 545ZM1856 584 1856 590 1860 595 1877 596 1880 595 1886 577 1886 577 1868 570ZM2070 615 2071 630 2072 631 2081 628 2089 605ZM2013 696 2016 689 2003 677 2008 670 2006 656 2003 656 1992 641 1983 651 1991 662 1989 667 1997 678 1991 688 2003 698ZM1852 701 1868 703 1868 703 1871 695 1860 683 1856 683 1854 685Z"/><path fill="#35f" stroke="#35f" d="M1290 42 1282 30 1275 30 1265 38 1265 43 1278 51ZM1175 53 1193 41 1182 30 1164 30ZM1177 65 1174 59 1151 57 1154 76 1170 72ZM1291 182 1293 182 1302 175 1302 159 1281 159 1280 159ZM1121 202 1121 206 1132 212 1135 213 1143 211 1150 204 1151 204 1151 195 1143 188 1125 196ZM1309 334 1305 323 1299 319 1291 319 1289 320 1288 342 1288 342 1307 338ZM1389 327 1384 324 1365 328 1365 330 1384 352 1395 353 1396 344ZM1145 375 1138 385 1162 404 1163 404 1166 394 1163 373 1161 371ZM1221 536 1235 532 1237 529 1229 516 1225 516 1219 522 1212 521 1205 530 1212 540 1219 539ZM1186 516 1175 535 1185 549 1191 552 1195 528ZM1171 597 1173 599 1174 599 1193 588 1193 586 1180 575 1170 579ZM1258 849 1270 850 1271 837 1256 827ZM1326 899 1325 903 1331 918 1339 922 1350 903 1361 898 1359 887 1334 878 1334 878 1326 883 1324 887 1323 891ZM1219 921 1219 920 1191 919 1195 931 1202 936 1219 930 1221 924ZM1121 982 1131 978 1133 974 1121 964ZM1343 994 1329 1000 1329 1003 1346 1019 1361 1020 1358 1005 1347 995ZM1145 1014 1133 1017 1135 1034 1142 1041 1150 1025ZM1233 1046 1244 1052 1257 1041 1254 1034 1236 1031ZM1477 57 1492 45 1487 36 1472 34ZM1637 55 1616 61 1618 69 1634 75 1637 74ZM1411 86 1412 71 1396 67 1389 81 1398 86ZM1508 107 1528 98 1525 82 1524 81 1505 86 1501 93ZM1470 125 1455 136 1456 143 1460 147 1483 146 1484 145 1484 141 1479 131ZM1392 171 1389 170 1389 170 1380 178 1379 189 1396 192ZM1640 194 1640 193 1639 192 1636 189 1635 189 1611 202 1610 207 1611 209 1619 213ZM1378 249 1394 249 1397 236 1383 228ZM1604 300 1621 287 1622 281 1615 268 1594 291ZM1445 305 1455 290 1450 286 1439 288 1440 300ZM1514 369 1504 374 1509 389 1518 390 1523 379ZM1558 601 1573 602 1579 600 1578 597 1586 579 1574 569 1570 569 1564 577 1563 582 1553 588ZM1497 641 1498 642 1500 644 1511 645 1516 634 1512 628 1501 630ZM1502 739 1500 737 1479 748 1478 752 1478 753 1484 756 1502 754 1503 752ZM1607 758 1612 762 1635 761 1637 754 1628 735 1625 734 1608 738ZM1476 793 1475 791 1461 784 1454 787 1453 798 1463 807 1473 803ZM1502 875 1499 874 1499 874 1480 885 1479 890 1489 903 1493 903 1508 884ZM1408 957 1394 961 1399 975 1406 978 1415 967ZM1641 1044 1640 1060 1649 1068 1662 1044 1658 1040 1648 1038ZM2139 91 2140 91 2156 72 2153 69 2140 66 2130 82 2131 87ZM1976 65 1948 76 1951 92 1981 76 1980 70ZM2074 104 2084 91 2084 89 2080 84 2069 85 2062 99ZM1738 128 1742 138 1759 135 1763 124 1740 124ZM2151 139 2138 147 2143 157 2164 152 2164 148ZM2105 191 2110 191 2118 176 2106 161 2096 170 2095 182ZM1969 201 1959 206 1967 223 1974 226 1984 207 1981 202ZM1812 275 1794 287 1793 289 1793 291 1802 299 1817 290 1819 283ZM2069 394 2058 394 2052 404 2057 413 2067 417 2067 416 2072 400ZM1919 465 1903 447 1900 446 1894 467ZM2110 511 2121 484 2120 483 2101 480 2098 499 2108 510ZM1782 525 1782 523 1771 515 1761 534 1772 541ZM2044 552 2046 546 2029 519 2028 518 2019 518 2012 545 2027 553ZM1785 608 1792 617 1805 613 1810 607 1792 591 1790 594ZM1818 710 1835 703 1836 702 1848 704 1852 701 1854 685 1832 688 1831 688 1815 701ZM1653 742 1667 755 1686 745 1657 729ZM1654 845 1663 844 1666 826 1663 823 1661 823 1652 829 1652 844ZM1662 881 1679 898 1686 895 1689 884 1685 873 1679 866 1676 866Z"/><path fill="#2ef" stroke="#2ef" d="M1278 51 1277 61 1291 73 1301 51 1292 42 1290 42ZM1359 67 1350 58 1342 58 1338 62 1338 71 1341 75 1351 75 1358 70ZM1277 84 1269 93 1281 109 1289 108 1288 80ZM1325 173 1312 157 1302 159 1302 159 1302 175 1321 182ZM1135 213 1132 212 1126 232 1138 235 1141 233ZM1180 227 1174 226 1157 237 1158 245 1170 249ZM1158 297 1155 271 1154 271 1133 281 1133 283 1154 299ZM1147 501 1133 501 1123 509 1139 524 1148 519 1151 506ZM1339 584 1339 569 1313 561 1306 564 1299 556 1283 552 1278 554 1278 570 1285 573 1306 566 1308 576 1334 589ZM1185 634 1209 631 1209 631 1211 618 1211 617 1200 612 1195 614 1185 624 1184 633ZM1317 675 1315 653 1313 653 1292 674 1295 677 1303 683 1310 682ZM1121 765 1121 767 1131 784 1145 780 1143 764 1130 760 1134 748 1121 727ZM1267 772 1251 755 1238 762 1261 785 1267 773ZM1315 792 1331 796 1338 783 1321 779 1317 781ZM1187 780 1184 780 1169 792 1166 799 1168 810 1170 812 1178 809 1194 791ZM1129 801 1121 801 1121 824 1131 817 1132 804ZM1298 830 1283 836 1287 846 1300 845ZM1247 856 1234 840 1230 840 1219 854 1234 869ZM1305 896 1323 891 1324 887 1298 876ZM1236 890 1216 887 1213 889 1215 901 1236 900ZM1274 928 1263 915 1247 931 1256 943ZM1167 1002 1174 1000 1184 987 1183 981 1164 976 1156 977 1154 985 1155 987 1144 1007 1145 1013 1166 1008ZM1233 1046 1221 1055 1221 1057 1214 1074 1239 1074 1235 1067 1244 1054 1244 1052ZM1504 30 1509 36 1522 32 1522 30ZM1450 119 1461 112 1452 94 1450 93 1442 95 1431 81 1417 89 1418 105 1424 109 1425 120 1436 126 1449 124ZM1588 158 1587 159 1599 173 1609 167 1610 160 1596 153ZM1539 182 1554 195 1557 192 1559 188 1556 169ZM1546 214 1525 191 1518 193 1515 205 1522 224 1545 218 1545 218ZM1397 201 1388 213 1409 227 1412 227 1420 208ZM1585 290 1587 289 1596 258 1586 255 1577 275ZM1360 293 1353 310 1353 312 1358 314 1367 310 1378 294 1371 289ZM1569 408 1581 395 1579 389 1554 388 1550 408ZM1511 407 1519 421 1530 420 1541 411 1539 409 1517 402ZM1568 499 1572 514 1582 509 1587 498 1577 490ZM1376 543 1375 543 1343 545 1345 556 1367 564 1370 561ZM1560 554 1570 569 1574 569 1582 558 1582 553 1575 550ZM1415 654 1416 655 1430 655 1439 650 1438 634 1425 636ZM1563 649 1584 662 1585 661 1584 635 1579 631 1567 636ZM1565 733 1584 720 1575 709 1559 707 1557 710 1557 724ZM1456 736 1459 747 1478 752 1479 748 1477 740 1465 729ZM1418 762 1428 761 1434 732 1434 732 1404 739 1403 741 1405 754ZM1476 793 1473 803 1485 817 1486 818 1497 814 1500 812 1498 799 1493 795ZM1611 815 1594 803 1571 815 1571 815 1595 830 1607 828 1612 817ZM1376 849 1376 840 1369 827 1368 825 1367 823 1364 819 1351 817 1336 831 1337 836 1347 842 1350 852 1373 851ZM1533 880 1539 892 1547 897 1561 884 1548 868 1546 868 1536 874ZM1417 937 1427 947 1432 948 1447 936 1445 932 1435 928ZM1562 1013 1569 1023 1584 1019 1588 1014 1588 1003 1572 994 1562 1005ZM1726 56 1720 56 1709 59 1706 63 1710 86 1716 97 1728 92 1733 86ZM1612 91 1608 89 1597 95 1598 108 1602 115 1619 114 1621 112ZM1715 98 1711 104 1716 121 1730 128 1738 128 1740 124 1740 121ZM1923 142 1907 135 1895 145 1900 153 1917 162 1919 160ZM1947 174 1948 174 1950 163 1940 151 1929 159 1946 174ZM1857 194 1856 175 1856 175 1840 173 1837 190 1855 196ZM1776 228 1766 217 1757 219 1749 202 1730 209 1731 225 1749 230 1751 235 1766 242 1770 241ZM1887 278 1881 289 1882 296 1890 300 1897 298 1902 284 1901 282 1890 278ZM1873 326 1882 318 1874 306 1862 315ZM1688 388 1696 382 1686 370 1677 377 1681 387ZM1648 375 1645 390 1666 391 1667 375 1666 374 1649 374ZM1627 458 1615 474 1637 484 1644 480 1632 458ZM1906 521 1920 534 1923 527 1917 502 1912 506ZM1631 562 1643 556 1646 547 1636 532 1624 540 1623 546 1626 558ZM1795 581 1813 580 1820 564 1815 560 1805 558 1788 572 1788 572ZM1745 583 1733 573 1721 590 1720 596 1745 586ZM1811 629 1805 613 1792 617 1787 634 1797 638 1809 634ZM1893 658 1912 669 1927 659 1904 638 1903 638 1892 651 1890 654ZM1767 674 1773 684 1785 686 1796 680 1790 671 1790 663 1774 640 1772 640 1758 645 1768 669ZM1710 723 1690 728 1688 745 1692 749 1700 748 1715 739ZM1657 728 1651 723 1628 735 1637 754 1653 742 1657 729ZM1633 785 1635 788 1661 790 1664 776 1661 772 1638 765ZM1750 875 1755 863 1752 860 1738 859 1725 868 1731 876ZM1739 995 1746 987 1739 973 1723 972 1728 990 1737 995ZM1610 1023 1624 1028 1630 1022 1623 1001 1617 1000 1608 1017ZM2130 49 2132 30 2105 30 2106 42 2125 52ZM2043 110 2049 125 2062 121 2062 120 2055 102ZM1946 139 1959 154 1966 153 1974 140 1957 135ZM2086 165 2086 150 2071 143 2070 143 2066 159 2078 168ZM2118 176 2122 174 2128 163 2123 153 2106 160 2106 161ZM2019 196 2020 196 2026 191 2031 166 2025 163 2014 166 2011 176ZM2105 191 2095 182 2078 185 2091 206 2093 205ZM1977 232 1972 243 1974 255 1992 261 2000 251ZM2002 294 2012 284 2011 276 1993 267 1991 270 1992 292 1997 297ZM2014 346 2018 347 2028 333 2022 316 2008 321 1997 317 1988 338 2009 349ZM2121 390 2123 390 2141 382 2141 377 2121 357 2113 353 2113 354 2113 371ZM1981 404 1995 412 2003 410 1999 389 1994 387 1994 368 1974 372 1976 377 1991 388 1981 402ZM2091 404 2095 405 2113 400 2119 392 2093 388ZM2026 453 2008 455 2010 476 2022 477 2026 474 2038 475 2045 460 2040 444 2064 443 2061 428 2046 425 2039 443 2034 442ZM2099 447 2099 446 2079 437 2068 445 2072 460 2088 468ZM2156 454 2164 470 2164 445 2164 445ZM2052 520 2055 540 2064 538 2069 517 2057 514ZM1977 544 1974 531 1962 520 1959 520 1957 520 1953 537 1975 545ZM2136 568 2121 557 2110 558 2118 578 2132 574ZM1950 562 1937 577 1942 587 1954 578 1952 563ZM2032 657 2039 647 2034 637 2015 640 2014 651 2027 658ZM1950 695 1953 703 1978 704 1982 691 1968 676Z"/><path fill="#afc" stroke="#afc" d="M1317 51 1317 50 1301 51 1291 73 1292 76 1304 81 1311 81 1316 75ZM1264 167 1280 159 1281 159 1280 139 1265 135 1255 153ZM1299 319 1305 300 1291 292 1288 291 1284 298 1291 319ZM1388 444 1386 445 1381 451 1400 470 1405 455ZM1377 622 1384 609 1383 607 1370 601 1365 603 1359 614 1365 621ZM1143 659 1131 644 1121 650 1121 652 1129 669 1135 668ZM1137 695 1128 694 1121 698 1121 723 1141 711ZM1169 792 1184 780 1168 768 1162 770 1158 777ZM1257 813 1254 808 1218 824 1230 840 1234 840 1255 825ZM1211 888 1194 872 1184 887 1189 896ZM1301 901 1295 900 1285 906 1290 920 1290 920 1305 911ZM1418 911 1398 906 1397 926 1411 932ZM1134 992 1131 978 1121 982 1121 992 1127 997 1132 995ZM1326 1025 1309 1035 1314 1047 1324 1047 1329 1029ZM1244 1054 1235 1067 1239 1074 1246 1074 1256 1064ZM1483 146 1486 161 1488 163 1508 166 1517 159 1506 147 1484 145ZM1706 162 1715 181 1723 186 1725 185 1728 175 1717 156 1707 160ZM1586 255 1596 258 1598 258 1601 232 1599 228 1591 227 1587 230 1576 247ZM1680 267 1667 248 1657 261 1660 274ZM1629 326 1639 324 1641 322 1636 302 1633 302 1616 312ZM1739 498 1733 522 1742 527 1746 529 1761 503 1759 498 1753 494 1739 498ZM1560 554 1554 551 1547 559 1549 568 1564 577 1570 569ZM1616 602 1628 584 1628 581 1619 578 1609 578 1602 590 1602 595 1613 602ZM1455 610 1441 601 1427 611 1426 613 1435 619ZM1531 637 1532 625 1527 617 1516 617 1512 628 1516 634ZM1637 710 1624 714 1625 734 1628 735 1651 723 1648 717ZM1721 757 1711 757 1712 769 1721 776 1733 770 1733 769ZM1570 850 1578 870 1584 870 1588 868 1590 856 1582 848 1585 837 1567 830 1558 840 1563 848ZM1442 1074 1461 1074 1462 1067 1448 1060 1441 1062ZM1847 83 1821 62 1819 73 1826 98 1829 102 1833 101ZM1798 88 1798 88 1794 80 1774 79 1779 100 1788 103ZM2057 100 2050 90 2033 96 2035 109 2043 110 2055 102ZM1950 163 1948 174 1957 179 1960 178 1972 165 1966 153 1959 154 1946 139 1946 139 1941 145 1940 151ZM1911 184 1925 192 1927 177 1917 165 1914 168ZM2147 360 2153 359 2155 357 2153 334 2139 343 2147 360ZM2052 353 2046 362 2052 378 2069 370 2053 353ZM1838 362 1837 372 1844 380 1856 379 1858 369 1854 358ZM1806 399 1822 405 1830 396 1825 391 1811 390ZM2017 516 2014 512 2001 502 1984 510 1983 513 1984 516 1992 527ZM1838 509 1833 512 1830 517 1832 533 1838 539 1850 536 1856 525 1839 509ZM2148 539 2157 524 2149 514 2132 520 2133 521 2145 539ZM2070 615 2061 604 2048 613 2047 617 2070 630 2071 630ZM2024 674 2027 658 2014 651 2006 656 2008 670Z"/><path fill="#f9c" stroke="#f9c" d="M1302 30 1282 30 1290 42 1292 42ZM1127 175 1130 169 1125 152 1121 150 1121 175 1124 176ZM1362 182 1357 181 1347 186 1345 188 1347 195 1356 198 1368 192ZM1130 255 1129 278 1133 281 1154 271 1153 270 1131 254ZM1215 295 1206 298 1202 315 1215 320 1224 318 1216 296ZM1267 311 1279 321 1289 320 1291 319 1284 298 1266 306ZM1121 322 1121 325 1128 328 1148 307 1149 305 1131 302ZM1335 320 1333 327 1348 340 1363 332 1365 330 1365 328 1358 314 1353 312ZM1189 315 1171 314 1169 318 1184 337 1190 340 1194 320ZM1269 480 1255 489 1252 500 1256 505 1273 502 1272 484ZM1283 616 1288 625 1308 616 1300 599 1301 598 1302 587 1287 583 1282 588 1289 604 1282 612ZM1163 607 1142 597 1142 598 1141 616 1149 617ZM1370 658 1377 650 1377 638 1363 634 1362 636 1360 647ZM1198 663 1200 665 1220 670 1231 663 1219 649 1204 651 1200 656ZM1310 682 1303 683 1300 693 1307 706 1317 707 1317 689ZM1235 703 1244 708 1260 700 1254 684 1245 682 1236 689ZM1266 735 1277 742 1286 734 1280 713 1277 711 1266 722ZM1121 727 1134 748 1138 746 1146 733 1121 725ZM1215 808 1252 800 1252 799 1230 784 1225 786ZM1164 833 1155 835 1147 854 1167 861 1168 860 1168 840ZM1347 842 1337 836 1325 845 1332 858 1349 855 1350 852ZM1298 1008 1286 998 1272 1008 1272 1019 1285 1030ZM1329 1003 1324 1017 1326 1025 1329 1029 1338 1031 1346 1019ZM1256 1064 1265 1062 1266 1048 1257 1041 1244 1052 1244 1054ZM1439 64 1438 66 1450 73 1464 72 1465 88 1479 96 1485 70 1474 63 1477 57 1472 34 1471 33 1453 41 1454 49ZM1388 213 1397 201 1396 192 1396 192 1379 189 1373 195 1373 196 1387 213ZM1381 276 1382 268 1371 254 1370 254 1362 264 1359 273 1369 280ZM1503 374 1504 374 1514 369 1518 354 1517 353 1501 354 1491 360 1494 368ZM1519 442 1503 453 1503 454 1519 462 1529 457ZM1440 449 1440 444 1426 438 1418 441 1414 453 1422 466 1434 459ZM1484 473 1479 454 1470 453 1461 464 1463 478 1463 478 1482 477ZM1463 490 1455 499 1454 505 1473 514 1480 498ZM1440 515 1443 535 1459 538 1458 551 1462 558 1470 561 1459 585 1472 587 1485 569 1471 561 1482 533 1482 530 1480 528 1478 527 1465 532 1442 514 1441 514ZM1393 556 1412 559 1421 551 1419 542 1418 541 1416 531 1407 527 1396 528 1388 545 1392 548ZM1384 609 1390 611 1405 595 1405 594 1399 590 1397 574 1393 571 1375 579 1378 586 1389 591 1383 607ZM1466 655 1465 649 1452 649 1448 653 1453 667ZM1450 760 1459 747 1456 736 1435 732ZM1423 790 1431 792 1445 782 1441 767 1434 766 1424 786ZM1454 889 1454 878 1452 875 1427 881 1423 890 1426 896ZM1467 924 1476 920 1477 914 1463 898 1460 898 1459 900 1456 919ZM1427 947 1421 967 1434 974 1444 965 1443 959 1432 948ZM1486 986 1477 971 1465 968 1460 986 1462 989 1485 986ZM1474 1057 1474 1059 1478 1063 1492 1062 1492 1062 1494 1048 1485 1045ZM1679 30 1676 36 1680 44 1700 44 1702 30ZM1716 121 1711 104 1690 111 1690 112 1696 137 1710 136ZM1621 112 1619 114 1620 127 1630 137 1647 126 1650 123 1621 112ZM1830 132 1841 151 1853 147 1845 127ZM1787 156 1771 144 1764 146 1755 162 1765 166 1782 163ZM1568 169 1561 165 1556 167 1556 169 1559 188 1572 180ZM1814 269 1832 261 1826 253 1827 241 1826 240 1813 240 1808 250 1811 253ZM1761 274 1793 289 1794 287 1786 263 1784 262ZM1814 351 1821 353 1829 350 1832 345 1815 327 1811 330ZM1540 376 1538 377 1534 395 1539 409 1541 411 1544 412 1550 408 1554 388 1548 374ZM1652 432 1664 446 1668 443 1671 420 1671 420 1660 418 1657 420ZM1686 429 1684 444 1685 444 1693 443 1705 428 1700 422ZM1798 472 1805 471 1806 470 1812 450 1792 442 1785 453ZM1729 547 1741 555 1746 552 1750 532 1746 529 1742 527ZM1599 617 1601 625 1630 627 1626 614 1616 602 1613 602ZM1563 649 1558 650 1553 662 1558 673 1564 676 1584 662 1584 662ZM1710 675 1711 673 1705 665 1687 665 1684 668 1684 682 1687 684ZM1800 682 1796 680 1785 686 1777 704 1791 709 1793 709 1802 692ZM1701 831 1719 833 1723 831 1709 815 1700 815ZM1617 877 1628 879 1625 851 1612 867ZM1508 884 1512 891 1510 917 1522 920 1527 901 1539 892 1533 880ZM1556 965 1565 951 1560 940 1552 940 1547 944 1552 965ZM1685 1028 1683 1045 1683 1045 1693 1049 1711 1033 1692 1024ZM2033 96 2050 90 2049 81 2045 75 2043 75 2040 68 2027 61 2014 79 2015 84 2023 85ZM1906 88 1904 68 1890 65 1886 74 1887 87 1894 91ZM1835 103 1846 125 1866 119 1867 117 1867 112ZM2100 150 2106 142 2106 127 2093 132 2097 149ZM2014 166 2025 163 2027 147 2009 146 2009 160ZM1959 206 1952 203 1940 207 1934 231 1936 235 1967 223ZM2123 208 2122 208 2107 220 2107 220 2121 236 2128 215ZM2009 246 2008 247 2000 251 1992 261 1993 267 2011 276 2019 264 2028 265 2038 252 2030 246ZM2050 266 2036 276 2036 288 2050 295 2061 286 2054 269ZM1936 288 1939 294 1953 294 1956 291 1955 279 1948 276ZM1997 297 1992 292 1978 288 1966 298 1970 309 1975 312 1993 310ZM2046 362 2029 367 2028 371 2030 386 2049 384 2052 378ZM1836 461 1846 466 1847 467 1855 462 1860 452 1857 446 1840 444 1832 449 1832 449ZM1968 480 1968 491 1970 493 1997 481 1987 469ZM2077 505 2064 494 2055 509 2057 514 2069 517 2076 514ZM2055 540 2052 520 2029 519 2046 546ZM2085 525 2073 541 2088 559 2090 557 2095 534ZM2116 610 2118 611 2128 606 2129 597 2113 585 2107 588 2106 589ZM2060 661 2051 648 2039 647 2032 657 2050 672 2055 670 2058 666ZM1968 672 1968 676 1982 691 1991 688 1997 678 1989 667Z"/><path fill="#8f5" stroke="#8f5" d="M1121 84 1138 77 1131 55 1121 55ZM1322 187 1345 188 1347 186 1340 170 1329 170 1325 173 1321 182ZM1170 249 1177 257 1176 268 1177 270 1206 268 1208 267 1195 244 1195 242 1188 227 1180 227ZM1262 288 1275 279 1258 266 1249 273ZM1347 398 1342 399 1339 401 1339 430 1343 430 1354 425 1358 403ZM1163 450 1163 462 1178 472 1186 472 1186 452 1164 449ZM1357 524 1374 537 1378 526 1374 514 1358 522ZM1360 647 1362 636 1347 633 1346 634 1343 650ZM1232 638 1223 639 1219 649 1231 663 1232 662 1236 640ZM1121 676 1129 670 1129 669 1121 652ZM1277 710 1275 708 1260 700 1244 708 1248 725 1244 729 1244 731 1256 746 1266 735 1266 722 1277 711ZM1150 714 1141 711 1121 723 1121 725 1146 733 1148 732 1151 717ZM1281 817 1280 835 1283 836 1298 830 1300 825 1299 822ZM1324 887 1326 883 1312 864 1294 873 1298 876ZM1259 998 1261 995 1259 978 1249 979 1245 984 1248 999ZM1335 1067 1328 1050 1324 1047 1314 1047 1307 1055 1321 1074 1331 1074 1360 1074 1353 1061ZM1612 91 1621 112 1621 112 1638 99 1627 90ZM1660 155 1675 158 1682 147 1693 142 1696 137 1690 112 1663 118 1663 120ZM1388 213 1387 213 1380 221 1383 228 1397 236 1409 227ZM1482 265 1483 264 1479 239 1468 237 1467 237 1456 248 1455 249ZM1516 286 1528 275 1519 270 1505 276 1510 285ZM1666 297 1683 296 1681 281 1665 285ZM1629 326 1621 339 1621 348 1626 356 1628 356 1646 345 1639 324ZM1572 349 1556 366 1573 372 1582 360 1583 350 1582 349ZM1523 379 1538 377 1540 376 1522 353 1518 354 1514 369ZM1451 388 1446 394 1449 400 1466 403 1464 393ZM1655 454 1661 452 1664 446 1652 432 1645 432 1640 436 1641 454ZM1442 481 1440 483 1455 499 1463 490 1463 478 1463 478ZM1509 713 1510 712 1507 702 1497 694 1487 712 1507 714ZM1405 754 1395 767 1403 780 1415 772 1418 762ZM1541 819 1528 795 1520 805 1526 821 1539 821ZM1592 909 1602 909 1607 901 1591 891 1590 891 1587 893ZM1380 921 1393 901 1392 897 1361 899 1366 912ZM1636 971 1646 976 1656 954 1636 954ZM1562 1013 1562 1005 1554 999 1539 1001 1538 1010 1545 1015ZM2027 61 2026 54 2016 41 2009 38 2004 63 2014 79ZM2088 48 2076 50 2075 62 2083 70 2102 69 2104 66 2098 53ZM1819 73 1808 86 1826 98ZM1721 151 1740 151 1742 138 1738 128 1730 128 1719 144ZM1961 338 1973 333 1975 312 1970 309 1962 313 1957 336ZM1805 375 1818 372 1821 353 1814 351 1804 353 1789 366 1788 366 1796 373ZM1976 377 1974 372 1974 372 1953 375 1961 393 1972 389ZM2142 494 2134 498 2121 484 2110 511 2112 513 2126 515 2132 520 2149 514 2155 504 2156 499ZM1937 577 1950 562 1947 558 1940 557 1925 572ZM1993 586 1992 584 1975 576 1973 580 1977 598 1985 596ZM2027 600 2025 598 2014 599 2010 618 2014 623 2028 620ZM1797 638 1803 652 1816 658 1826 650 1809 634ZM1951 640 1942 641 1934 648 1929 659 1937 666 1956 663ZM2133 704 2152 702 2154 697 2143 679 2125 689 2124 690ZM1737 995 1736 997 1729 1022 1740 1027 1757 1020 1739 995Z"/><path fill="#3f6" stroke="#3f6" d="M1412 47 1405 47 1396 60 1396 67 1412 71 1424 64ZM1402 106 1398 86 1389 81 1389 81 1384 103 1386 106ZM1195 133 1179 147 1192 164 1202 158 1206 143ZM1170 249 1158 245 1155 249 1153 270 1154 271 1155 271 1176 268 1177 257ZM1244 288 1249 273 1240 270 1226 276 1236 288 1232 298 1241 310 1253 301ZM1378 294 1367 310 1383 311 1392 303 1391 297 1388 293ZM1240 403 1241 404 1256 394 1254 381 1235 382ZM1379 452 1386 475 1401 472 1400 470 1381 451ZM1169 563 1161 573 1161 573 1170 579 1180 575 1181 568ZM1135 568 1129 558 1121 558 1121 584 1133 577ZM1346 612 1334 590 1322 602 1322 615 1335 620ZM1283 616 1262 627 1264 636 1287 640 1289 633 1288 625ZM1382 634 1401 643 1402 633 1394 623 1381 627ZM1391 663 1399 649 1377 650 1370 658 1369 663ZM1377 682 1375 697 1381 704 1402 690 1394 679 1394 679ZM1417 698 1417 701 1434 728 1436 725 1447 700 1447 700 1428 692 1424 692ZM1256 748 1275 755 1277 753 1277 742 1266 735 1256 746ZM1208 737 1199 752 1193 750 1170 763 1168 768 1184 780 1187 780 1201 759 1205 761 1233 760 1232 750 1220 734 1211 735ZM1261 785 1238 762 1235 762 1230 784 1252 799 1261 787ZM1281 817 1299 822 1303 806 1287 800 1279 814ZM1452 875 1451 855 1445 851 1424 857 1427 881ZM1276 929 1273 950 1289 952 1295 948ZM1211 987 1198 998 1198 1003 1207 1015 1216 1019 1222 992ZM1421 1040 1432 1036 1434 1022 1427 1017 1413 1024ZM1344 1039 1365 1027 1366 1025 1361 1020 1346 1019 1338 1031ZM1690 111 1680 84 1674 78 1654 104 1658 117 1663 118 1690 112ZM1596 183 1599 173 1587 159 1583 164 1585 182ZM1456 248 1467 237 1468 237 1469 212 1460 209 1454 226 1445 229ZM1640 267 1647 261 1643 249 1632 243 1626 260ZM1559 286 1557 277 1555 276 1536 286 1536 290 1547 296ZM1464 310 1471 316 1488 312 1495 304 1495 301 1494 299 1481 294 1467 297ZM1554 366 1544 343 1535 340 1522 353 1540 376 1548 374ZM1453 354 1450 360 1453 370 1468 374 1479 354 1478 351ZM1601 396 1616 400 1624 398 1628 392 1626 386 1605 377ZM1518 390 1509 389 1499 397 1508 407 1511 407 1517 402 1518 390ZM1747 464 1729 458 1725 478 1746 475ZM1701 554 1689 559 1694 572 1714 570 1720 565 1719 556ZM1649 576 1650 575 1652 567 1643 556 1631 562 1630 578ZM1459 585 1470 561 1462 558 1446 570 1451 583 1457 585ZM1670 595 1675 582 1668 573 1661 578 1664 591ZM1720 596 1720 597 1734 610 1735 610 1750 592 1745 586ZM1573 602 1562 619 1578 627 1584 609 1580 601 1579 600ZM1508 675 1509 666 1500 656 1486 659 1486 665 1499 679ZM1476 698 1482 687 1471 675 1471 675 1457 677 1457 692 1468 699ZM1503 752 1502 754 1500 768 1510 771 1523 760ZM1709 815 1723 831 1724 831 1737 805 1728 802 1719 780 1704 788 1705 793 1718 804ZM1612 817 1613 817 1635 807 1635 788 1633 785 1624 786 1614 796 1611 815ZM1500 812 1497 814 1505 840 1506 842 1513 842 1518 839 1518 828 1502 812ZM1637 885 1636 885 1627 896 1635 916 1652 909ZM1685 1028 1673 1021 1667 1022 1658 1040 1662 1044 1663 1045 1683 1045ZM1869 107 1847 83 1847 83 1833 101 1835 103 1867 112ZM2164 113 2164 93 2140 91 2139 91 2142 106 2149 112ZM2107 107 2096 104 2077 109 2076 115 2083 124ZM2050 141 2070 143 2062 121 2049 125 2045 133ZM1775 124 1766 121 1763 124 1759 135 1764 146 1771 144 1780 130ZM2132 187 2118 198 2122 208 2123 208 2141 200 2145 192 2145 192ZM1934 231 1940 207 1932 198 1927 196 1912 204 1907 214 1906 218 1908 222 1908 223ZM1824 208 1806 206 1805 206 1805 226 1807 227 1820 222 1824 208ZM1776 304 1793 291 1793 289 1761 274 1758 275 1764 302ZM1817 313 1803 306 1797 313 1801 330 1811 330 1815 327 1819 321ZM1846 335 1848 337 1873 327 1873 326 1862 315 1849 313 1844 325ZM1856 419 1863 419 1872 411 1859 396 1851 402ZM1940 407 1933 414 1938 425 1946 427 1957 423 1951 412ZM2152 413 2152 414 2162 429 2164 429 2164 410ZM2131 470 2135 470 2145 452 2126 441 2126 441 2120 454 2121 460ZM1873 484 1875 476 1855 462 1847 467 1856 486ZM1822 470 1831 486 1834 486 1846 466 1836 461ZM2080 483 2062 489 2064 494 2077 505 2087 499ZM1937 522 1943 536 1952 538 1953 537 1957 520 1940 516ZM2014 599 2025 598 2029 582 2019 574 2027 553 2012 545 1998 551 1997 559 1999 564 2012 575 2005 590 2007 594ZM1788 572 1788 572 1781 550 1775 548 1762 570 1770 578ZM2128 642 2139 661 2143 662 2153 647 2153 647 2148 631 2138 627ZM1957 636 1951 640 1956 663 1965 666 1973 650 1970 643ZM1728 734 1746 728 1748 726 1739 712 1726 724Z"/><path fill="#a9f" stroke="#a9f" d="M1342 41 1357 42 1363 30 1346 30 1341 39ZM1374 54 1373 55 1379 79 1389 81 1389 81 1396 67 1396 60ZM1124 133 1137 131 1140 118 1134 106 1125 111ZM1294 134 1300 140 1317 140 1322 134 1303 118ZM1212 190 1219 162 1202 158 1192 164 1191 168 1194 191 1204 193ZM1189 196 1192 192 1170 181 1160 188 1160 188 1177 199ZM1131 254 1137 249 1138 235 1126 232 1124 233 1123 252 1130 255ZM1305 300 1299 319 1305 323 1319 314 1312 299ZM1411 328 1411 323 1401 314 1389 327 1396 344ZM1348 340 1347 346 1359 353 1363 332ZM1211 365 1234 377 1236 371 1231 358 1211 351 1208 352ZM1319 377 1309 368 1292 374 1300 388 1315 392ZM1237 429 1236 450 1240 454 1256 446 1259 437 1255 422ZM1418 441 1410 436 1395 438 1388 444 1405 455 1414 453ZM1142 476 1145 473 1140 456 1126 453 1130 478ZM1273 502 1279 508 1294 501 1286 488 1272 484ZM1353 501 1347 492 1331 494 1327 509 1329 515 1331 516 1352 504 1358 522 1374 514 1375 510 1372 498ZM1307 522 1302 515 1282 526 1286 531 1303 535 1306 534ZM1240 553 1241 553 1259 542 1260 537 1240 529 1237 529 1235 532ZM1348 696 1352 683 1339 669 1331 675 1334 693 1336 694ZM1244 729 1248 725 1244 708 1235 703 1231 705 1226 715 1228 726ZM1280 713 1286 734 1296 739 1311 732 1297 717ZM1415 795 1403 789 1393 793 1399 817 1399 817ZM1156 920 1172 906 1167 898 1152 901 1152 916ZM1310 913 1305 911 1290 920 1303 934 1314 930 1314 926ZM1256 946 1256 943 1247 931 1246 931 1232 947 1233 952 1245 955ZM1377 960 1387 978 1399 975 1394 961 1381 956ZM1394 1053 1384 1045 1368 1053 1384 1074 1394 1074ZM1505 47 1519 53 1532 48 1522 32 1509 36ZM1508 107 1507 119 1516 119 1531 103 1528 98ZM1456 143 1455 136 1449 124 1436 126 1431 149ZM1486 205 1491 207 1515 205 1518 193 1506 184 1508 166 1488 163 1488 179 1494 188 1486 202ZM1525 191 1546 214 1552 208 1554 195 1539 182 1532 181ZM1441 255 1446 256 1455 249 1456 248 1445 229 1440 228 1432 235ZM1523 379 1518 390 1518 390 1534 395 1538 377ZM1486 432 1499 425 1498 419 1483 406 1471 411 1467 420ZM1632 458 1641 454 1640 436 1628 433 1622 438 1621 439 1625 456 1627 458ZM1433 502 1439 483 1419 477 1411 482 1408 495 1413 499ZM1528 546 1528 550 1540 560 1547 559 1554 551 1552 542ZM1422 585 1423 582 1408 570 1397 574 1399 590 1405 594ZM1547 622 1557 619 1553 606 1542 604 1540 608 1546 622ZM1512 628 1516 617 1513 614 1493 614 1491 617 1501 630ZM1438 634 1439 650 1448 653 1452 649 1454 631 1454 631 1439 633ZM1500 644 1498 642 1483 651 1483 656 1486 659 1500 656ZM1507 702 1510 712 1523 708 1520 688ZM1538 718 1557 710 1559 707 1557 704 1538 700 1532 711 1535 717ZM1476 698 1468 699 1461 715 1467 722 1484 717 1485 713ZM1510 784 1511 786 1529 791 1532 788 1556 791 1562 778 1543 757 1531 759 1529 759 1523 760 1510 771ZM1590 791 1594 803 1611 815 1614 796 1605 783 1591 786ZM1441 805 1440 815 1459 816 1463 807 1453 798ZM1617 974 1621 973 1622 952 1610 955 1604 965ZM1450 1008 1452 1020 1457 1025 1471 1013 1470 1002 1463 998ZM1483 1034 1485 1045 1494 1048 1503 1043 1500 1035 1491 1032ZM1624 1063 1640 1060 1641 1044 1624 1042 1614 1051ZM1592 1074 1603 1074 1612 1051 1608 1049 1599 1049 1589 1067ZM2159 30 2134 30 2158 38ZM2104 66 2117 63 2125 52 2106 42 2098 53ZM1962 102 1970 119 1975 122 1984 117 1997 98 1990 93ZM2044 185 2026 191 2020 196 2021 198 2046 216 2053 206 2074 208 2075 185 2067 185 2054 195ZM2122 208 2118 198 2110 191 2105 191 2093 205 2107 220ZM1908 222 1906 218 1886 212 1876 218 1882 231 1884 231ZM1726 262 1727 250 1700 259 1699 260 1698 268 1705 275ZM1919 292 1919 303 1931 309 1939 294 1936 288 1924 284ZM2134 296 2140 307 2164 316 2164 288 2161 286ZM1849 312 1849 312 1849 313 1862 315 1874 306 1874 302 1859 296 1856 298ZM1660 305 1643 297 1636 302 1641 322 1660 318 1663 316 1663 315ZM2125 318 2116 312 2115 313 2107 338 2114 351 2126 342 2129 325ZM1788 366 1789 366 1785 339 1777 338 1763 345 1782 367ZM1666 374 1670 357 1660 351 1649 374ZM2164 394 2164 375 2149 386 2152 392ZM1657 420 1660 418 1657 407 1646 400 1640 415ZM2087 413 2090 405 2072 400 2067 416 2075 420ZM2145 452 2146 451 2148 438 2143 434 2126 441ZM1725 478 1726 483 1739 498 1753 494 1751 483 1746 475 1725 478ZM1920 534 1920 536 1928 541 1943 536 1937 522 1923 527ZM2102 623 2117 630 2121 623 2118 611 2116 610 2103 616ZM1933 622 1933 618 1929 609 1927 609 1905 637 1923 636ZM1792 617 1785 608 1771 608 1772 640 1774 640 1787 634ZM1715 639 1711 636 1706 635 1704 638 1705 665 1711 673 1723 669 1723 668 1744 646ZM1893 658 1893 682 1912 682 1912 669ZM1658 936 1656 934 1658 911 1652 909 1635 916 1631 922 1639 934 1630 950 1636 954 1656 954 1656 954Z"/><path fill="#3cf" stroke="#3cf" d="M1223 77 1225 76 1220 57 1217 55 1203 57 1195 67 1206 76ZM1167 97 1186 84 1185 70 1177 65 1170 72 1166 95ZM1137 131 1124 133 1121 136 1121 150 1125 152 1144 151 1147 141ZM1332 144 1324 134 1322 134 1317 140 1316 152 1331 154 1332 153ZM1188 227 1195 242 1216 237 1223 226 1221 222 1214 217 1188 226 1189 196 1177 199 1171 204 1168 218 1174 226 1180 227ZM1226 227 1238 235 1252 226 1253 219 1249 215ZM1236 288 1226 276 1240 270 1238 256 1234 252 1222 253 1213 268 1218 275 1215 295 1216 296 1232 298ZM1128 393 1131 408 1160 407 1162 404 1138 385 1133 386ZM1233 416 1238 405 1222 399 1208 405 1205 410ZM1215 503 1228 490 1228 482 1204 476 1197 480 1212 503ZM1153 547 1156 550 1160 550 1174 535 1160 529 1152 539ZM1285 573 1278 570 1273 574 1270 586 1282 588 1287 583ZM1289 633 1315 630 1317 620 1308 616 1288 625ZM1150 640 1159 627 1149 617 1141 616 1133 623 1137 636ZM1143 659 1135 668 1152 677 1156 657ZM1317 675 1310 682 1317 689 1334 693 1331 675ZM1173 701 1191 694 1184 677 1174 679 1170 693 1173 701ZM1216 855 1200 845 1190 848 1187 841 1168 840 1168 860 1186 860 1194 869 1212 862ZM1280 880 1278 903 1285 906 1295 900 1283 879ZM1244 907 1258 907 1258 882 1242 883 1236 890 1236 900 1238 903ZM1220 934 1232 947 1246 931 1238 924 1221 924 1219 930ZM1186 1009 1198 1003 1198 998 1184 987 1174 1000ZM1286 1032 1284 1039 1295 1058 1307 1055 1314 1047 1309 1035 1304 1032ZM1450 73 1450 93 1452 94 1465 88 1464 72ZM1558 142 1542 144 1548 162 1556 167 1561 165 1565 151 1564 148ZM1570 211 1552 208 1546 214 1545 218 1561 233 1572 221ZM1397 236 1394 249 1402 256 1417 238 1418 234 1412 227 1409 227ZM1476 270 1469 273 1462 291 1467 297 1481 294ZM1497 301 1510 285 1505 276 1496 273 1494 299 1495 301ZM1329 281 1324 293 1327 296 1344 297 1344 278ZM1488 312 1471 316 1469 333 1478 341 1492 334ZM1544 343 1554 366 1556 366 1572 349 1557 336ZM1569 408 1573 416 1583 423 1595 418 1594 400 1581 395ZM1347 492 1350 478 1341 472 1325 484 1325 484 1331 494ZM1463 490 1480 498 1489 491 1482 477 1463 478ZM1518 486 1492 493 1503 510 1514 512 1519 517 1532 499 1526 484 1520 484ZM1313 561 1339 569 1345 556 1343 545 1342 542 1320 550ZM1402 648 1415 654 1425 636 1438 634 1439 633 1435 619 1426 613 1417 616 1416 620 1402 633 1401 643ZM1559 707 1575 709 1578 694 1564 681 1558 688 1557 704ZM1543 726 1557 724 1557 710 1538 718ZM1339 762 1343 780 1348 782 1356 779 1364 758 1358 749 1355 750ZM1465 826 1463 825 1448 837 1445 847 1445 851 1451 855 1455 854 1472 840ZM1508 884 1493 903 1504 917 1510 917 1512 891 1508 884 1533 880 1536 874 1527 863 1516 862 1502 875ZM1426 903 1418 911 1411 932 1397 926 1384 928 1380 936 1383 949 1408 943 1413 936 1417 937 1435 928 1431 907ZM1400 1028 1381 1031 1384 1045 1394 1053 1402 1046ZM1754 48 1767 30 1767 30 1742 30 1738 36 1740 52 1743 54ZM1808 86 1819 73 1821 62 1821 61 1801 64 1794 80 1798 88ZM1621 112 1650 123 1658 117 1654 104 1648 99 1638 99ZM1764 146 1759 135 1742 138 1740 151 1749 161 1754 163 1755 162ZM1689 174 1706 162 1707 160 1693 142 1682 147 1675 158 1677 163ZM1667 242 1668 240 1645 231 1631 238 1632 243 1643 249ZM1819 283 1817 290 1824 304 1825 304 1836 291 1837 281ZM1722 340 1730 355 1734 356 1745 339 1735 322 1726 326ZM1598 330 1587 330 1583 333 1582 349 1583 350 1596 350 1603 344ZM1814 351 1811 330 1801 330 1798 332 1804 353ZM1774 374 1753 360 1740 364 1740 374 1765 388ZM1670 395 1681 387 1677 377 1667 375 1666 391ZM1822 405 1806 399 1799 401 1798 409 1803 419 1820 413ZM1791 477 1797 473 1804 502 1805 503 1807 502 1816 488 1805 471 1798 472 1785 453 1783 453 1768 467 1769 470 1776 477ZM1839 509 1856 525 1857 525 1860 518 1855 505ZM1712 523 1709 521 1688 527 1684 535 1688 558 1689 559 1701 554 1715 535ZM1604 559 1612 562 1626 558 1623 546 1604 554ZM1813 675 1800 682 1802 692 1815 701 1831 688 1832 688 1854 685 1856 683 1860 683 1872 669 1873 660 1890 654 1892 651 1876 633 1866 632 1863 649 1865 655 1843 665 1843 665 1829 682ZM1585 661 1584 662 1584 662 1586 690 1594 692 1607 686 1609 683 1605 665 1604 663ZM1726 707 1711 698 1703 702 1711 720 1717 719ZM1775 828 1767 819 1753 816 1740 838 1748 842 1772 836 1775 831ZM1588 868 1598 871 1606 865 1602 851 1590 856ZM1591 891 1607 901 1613 899 1607 882 1604 882ZM1918 50 1913 63 1921 81 1939 71 1931 50ZM2143 157 2141 167 2144 171 2146 172 2155 172 2164 158 2164 152ZM1888 186 1887 188 1887 188 1907 214 1912 204 1903 188ZM2094 234 2107 220 2107 220 2093 205 2091 206 2080 213 2079 231 2076 233 2074 238 2084 256 2106 251ZM2128 215 2121 236 2121 237 2134 235 2137 220ZM2161 286 2164 288 2164 256 2157 254 2145 273ZM2047 312 2056 325 2075 318 2074 313 2050 301ZM2164 353 2155 357 2153 359 2164 371ZM1863 419 1869 431 1877 435 1886 417 1877 410 1881 397 1870 385 1862 385 1859 396 1872 411ZM2092 425 2103 428 2104 419 2114 411 2113 400 2095 405 2091 404 2090 405 2087 413ZM1955 399 1951 412 1957 423 1963 425 1973 409 1960 395ZM2067 417 2057 413 2046 422 2046 425 2061 428ZM1933 414 1926 413 1920 418 1906 413 1905 430 1923 432 1923 431 1938 425ZM1923 436 1920 442 1926 462 1930 461 1936 444ZM2028 518 2029 519 2052 520 2057 514 2055 509 2040 503 2040 499 2049 484 2038 475 2026 474 2022 477 2025 490 2014 512 2017 516 2019 518ZM1919 573 1917 563 1912 558 1903 557 1893 576 1901 579 1919 573Z"/><path fill="#cff" stroke="#cff" d="M1417 89 1431 81 1433 68 1424 64 1412 71 1411 86ZM1247 84 1259 94 1269 93 1277 84 1259 66 1254 65 1252 66 1244 80ZM1280 139 1281 159 1302 159 1302 159 1300 140 1294 134 1283 136ZM1191 168 1168 170 1170 181 1192 192 1194 191ZM1141 233 1152 232 1153 225 1143 211 1135 213ZM1482 210 1469 212 1468 237 1479 239 1486 234 1486 232ZM1148 450 1139 437 1121 447 1121 449 1126 453 1140 456ZM1577 481 1572 475 1554 475 1549 483 1554 487 1575 485ZM1294 501 1279 508 1277 523 1282 526 1302 515 1302 502ZM1546 641 1535 644 1532 653 1535 659 1553 662 1558 650ZM1231 663 1220 670 1221 683 1236 689 1245 682 1238 665 1232 662ZM1554 746 1543 733 1528 740 1526 743 1529 759 1531 759 1543 757ZM1303 806 1308 803 1310 796 1293 783 1285 792 1287 800ZM1558 840 1558 840 1567 830 1571 815 1571 815 1561 805 1543 819ZM1127 849 1139 831 1131 817 1121 824 1121 848ZM1414 839 1414 827 1401 822 1393 837 1398 847ZM1479 860 1475 862 1472 876 1480 885 1499 874ZM1384 988 1387 978 1377 960 1373 960 1369 972 1376 986ZM1295 1058 1284 1039 1266 1048 1265 1062 1275 1074 1288 1074ZM1588 41 1592 30 1567 30 1574 45ZM2043 53 2050 47 2052 40 2050 37 2016 41 2026 54ZM1743 54 1748 64 1763 77 1769 76 1775 61 1754 48ZM2068 66 2065 80 2069 85 2080 84 2083 70 2075 62ZM1799 182 1791 185 1783 196 1787 201 1805 206 1806 206 1812 187ZM1967 265 1959 277 1976 284 1979 275ZM2023 306 2033 290 2012 284 2002 294ZM1819 321 1815 327 1832 345 1846 335 1844 325ZM2071 370 2077 379 2086 380 2097 356 2081 352ZM1888 417 1886 417 1877 435 1880 443 1897 442 1898 438ZM1670 504 1650 497 1644 504 1643 517ZM1817 605 1829 623 1837 627 1843 615 1837 598 1828 594 1822 595ZM1980 631 1975 622 1960 623 1958 626 1957 636 1970 643ZM1714 692 1733 687 1731 675 1723 669 1711 673 1710 675ZM1739 712 1748 726 1757 725 1764 720 1768 705 1764 701 1750 694 1742 697 1738 706ZM1724 740 1728 734 1726 724 1717 719 1711 720 1710 723 1715 739ZM1619 922 1617 900 1613 899 1607 901 1602 909 1609 926 1612 927ZM1670 963 1680 956 1683 948 1672 936 1681 923 1667 909 1663 909 1658 911 1656 934 1658 936 1656 954Z"/><path fill="#39f" stroke="#39f" d="M1177 65 1185 70 1195 67 1203 57 1196 41 1205 30 1182 30 1193 41 1175 53 1174 59ZM1303 118 1322 134 1324 134 1330 127 1329 114 1322 107 1319 106 1303 115 1297 110 1289 108 1281 109 1269 93 1259 94 1254 121 1278 113 1283 136 1294 134ZM1293 217 1300 226 1320 220 1319 200 1318 199 1307 201 1293 214ZM1121 206 1121 232 1124 233 1126 232 1132 212ZM1304 244 1303 248 1306 250 1329 248 1335 234 1333 229 1328 228ZM1196 294 1195 287 1178 276 1173 295 1185 299ZM1154 299 1133 283 1128 295 1131 302 1149 305ZM1353 312 1353 310 1344 297 1327 296 1333 318 1335 320ZM1276 397 1277 396 1264 369 1254 381 1256 394 1266 399ZM1188 414 1181 431 1192 447 1196 447 1208 459 1232 450 1206 430 1206 429 1200 415 1192 413ZM1259 542 1241 553 1243 559 1240 575 1250 582 1259 567 1259 567 1266 551ZM1302 587 1308 576 1306 566 1285 573 1287 583ZM1155 577 1152 588 1171 597 1170 579 1161 573ZM1142 598 1121 597 1121 619 1133 623 1141 616ZM1247 626 1238 617 1227 624 1232 638 1236 640 1242 638ZM1121 767 1121 801 1129 801 1131 784ZM1298 830 1300 845 1302 847 1314 848 1317 845 1312 827 1300 825ZM1184 887 1171 885 1167 898 1172 906 1188 910 1188 909 1189 896ZM1121 926 1133 913 1125 897 1121 896ZM1224 962 1233 952 1232 947 1220 934 1211 948 1222 962ZM1245 955 1249 964 1267 969 1268 969 1267 954 1256 946ZM1259 1024 1272 1019 1272 1008 1259 998 1248 999 1245 1002 1243 1007ZM1121 1014 1121 1034 1135 1034 1133 1017ZM1485 111 1504 121 1507 119 1508 107 1501 93 1481 99 1480 104ZM1418 105 1406 109 1399 129 1416 131 1425 120 1424 109ZM1560 130 1556 122 1534 130 1534 141 1542 144 1558 142ZM1530 298 1536 290 1536 286 1528 275 1528 275 1516 286 1518 294ZM1450 360 1442 357 1423 362 1428 378 1430 380 1449 374 1453 370ZM1395 420 1395 438 1410 436 1408 412 1421 409 1414 385 1399 383 1405 408 1408 412ZM1500 452 1504 428 1499 425 1486 432 1467 420 1457 428 1442 414 1426 410 1426 438 1440 444 1455 433 1470 453 1479 454 1487 449ZM1343 545 1375 543 1374 537 1357 524 1341 534 1342 542ZM1465 649 1466 655 1471 659 1483 656 1483 651 1472 637 1472 637 1454 631 1452 649ZM1482 687 1476 698 1485 713 1487 712 1497 694 1495 684ZM1363 729 1362 743 1385 745 1392 741 1375 722 1365 726ZM1348 782 1353 795 1365 802 1379 791 1381 792 1393 793 1403 789 1403 780 1395 767 1381 769 1377 782 1356 779ZM1431 792 1441 805 1453 798 1454 787 1445 782ZM1526 821 1520 805 1502 812 1518 828ZM1401 822 1400 821 1369 827 1376 840 1393 837ZM1451 855 1452 875 1454 878 1472 876 1475 862 1455 854ZM1361 898 1350 903 1339 922 1342 931 1358 928 1366 912 1361 899ZM1504 917 1491 931 1500 942 1497 949 1503 966 1507 964 1513 944 1515 944 1524 926 1524 924 1524 922 1522 920 1510 917ZM1526 1021 1530 1014 1538 1010 1539 1001 1531 982 1523 986 1517 1001 1501 1009 1509 1020 1500 1035 1503 1043 1511 1047 1516 1044 1514 1023ZM1494 1074 1492 1062 1478 1063 1479 1074ZM1652 32 1676 36 1679 30 1652 30ZM1702 30 1700 44 1709 59 1720 56 1721 30ZM1663 120 1663 118 1658 117 1650 123 1647 126 1652 157 1660 155ZM1587 207 1593 204 1597 184 1596 183 1585 182 1580 185 1578 196 1580 204ZM1625 222 1636 215 1640 194 1619 213ZM1667 222 1666 203 1652 198 1649 198 1652 215ZM1601 232 1598 258 1605 259 1614 241ZM1730 355 1722 340 1709 343 1706 355 1720 360ZM1624 398 1616 400 1614 418 1631 419 1633 417ZM1700 420 1700 422 1705 428 1714 432 1727 427 1718 405 1713 406ZM1607 492 1606 479 1597 472 1577 481 1575 485 1577 490 1587 498 1605 493ZM1658 546 1666 560 1671 562 1688 558 1684 535 1665 538ZM1689 653 1674 647 1670 650 1664 648 1642 662 1642 663 1661 667 1671 661 1684 668 1687 665ZM1593 721 1594 692 1586 690 1578 694 1575 709 1584 720 1593 722ZM1554 746 1562 744 1565 733 1557 724 1543 726 1543 733ZM1738 750 1724 740 1721 757 1733 769ZM1680 956 1689 963 1704 963 1706 954 1691 945 1683 948ZM1636 971 1636 954 1630 950 1624 950 1622 952 1621 973 1628 974ZM1556 965 1552 965 1534 973 1533 979 1552 986 1564 982 1571 985 1588 972 1588 971 1576 965 1560 968ZM1707 977 1689 975 1677 985 1695 992 1707 989ZM1720 1024 1729 1022 1736 997 1737 995 1728 990 1707 990 1710 1007 1712 1009ZM1644 1005 1644 1006 1655 1016 1644 1027 1648 1038 1658 1040 1667 1022 1662 1016 1663 992ZM1592 1042 1597 1048 1599 1049 1608 1049 1607 1027 1610 1023 1608 1017 1588 1014 1584 1019 1592 1030ZM2088 48 2096 30 2077 30 2071 44 2076 50ZM2107 107 2111 96 2103 84 2084 89 2084 91 2096 104 2107 107ZM1970 119 1959 124 1957 135 1974 140 1976 139 1975 122ZM2020 130 2008 143 2009 146 2027 147 2028 147 2028 132ZM1927 177 1925 192 1927 196 1932 198 1947 174 1946 174ZM2017 211 2023 228 2030 228 2044 221 2046 218 2046 216 2021 198ZM2157 254 2164 256 2164 234 2164 211 2149 215 2146 219 2153 238 2149 243ZM1791 262 1811 274 1814 269 1811 253 1808 250 1806 250ZM2068 260 2054 269 2061 286 2072 285 2080 278 2080 274 2079 270ZM1736 291 1750 312 1757 311 1762 322 1773 327 1783 320 1784 313 1776 304 1764 302 1758 275 1757 274 1755 273 1744 277 1739 281ZM1900 329 1896 321 1890 317 1882 318 1873 326 1873 327 1881 346 1900 330ZM1862 385 1856 379 1844 380 1834 396 1837 399 1851 402 1859 396ZM2099 447 2088 468 2089 468 2096 472 2121 460 2120 454ZM1935 482 1945 482 1950 468 1948 464 1930 461 1926 462 1922 466 1921 472ZM1791 477 1776 477 1769 470 1751 483 1753 494 1759 498 1768 493 1785 497 1787 495ZM2164 510 2164 491 2156 499 2155 504ZM1950 496 1936 505 1940 516 1957 520 1959 520 1959 515ZM2132 574 2138 590 2146 591 2164 574 2164 571 2162 570 2144 565 2136 568ZM2139 661 2128 642 2119 640 2108 646 2107 654 2128 662ZM1756 645 1744 646 1723 668 1723 669 1731 675 1745 668 1756 645ZM2082 675 2100 674 2101 673 2101 662 2082 653 2077 653 2076 654 2060 661 2058 666 2078 679Z"/><path fill="#f76" stroke="#f76" d="M1396 60 1405 47 1395 35 1374 54 1374 54ZM1195 133 1195 131 1179 122 1172 126 1170 141 1173 145 1179 147ZM1328 228 1333 229 1343 217 1340 209 1319 200 1320 220ZM1290 272 1309 276 1316 268 1306 250 1303 248 1296 251ZM1215 295 1218 275 1213 268 1208 267 1206 268 1195 287 1196 294 1206 298ZM1305 323 1309 334 1328 333 1333 327 1335 320 1333 318 1327 296 1324 293 1316 295 1312 299 1319 314ZM1158 297 1154 299 1149 305 1148 307 1155 324 1160 324 1169 318 1171 314 1166 299ZM1161 371 1160 368 1146 354 1139 357 1137 367 1145 375ZM1208 405 1206 383 1191 383 1190 385 1192 413 1200 415 1205 410ZM1148 450 1140 456 1145 473 1156 470 1163 462 1163 450ZM1278 554 1283 552 1286 531 1282 526 1277 523 1266 527 1260 537 1259 542 1266 551ZM1132 551 1153 547 1152 539 1138 529 1131 537ZM1363 634 1365 621 1359 614 1353 614 1347 633 1362 636ZM1197 697 1193 716 1211 715 1213 714 1208 696 1205 695ZM1173 701 1173 701 1157 704 1150 714 1151 717 1175 724 1175 724 1177 722ZM1380 768 1385 745 1362 743 1358 749 1364 758ZM1160 744 1155 749 1151 762 1162 770 1168 768 1170 763 1164 748ZM1321 779 1325 765 1316 761 1308 774 1317 781ZM1200 845 1211 819 1211 819 1188 828 1187 841 1190 848ZM1329 863 1334 878 1334 878 1349 856 1349 855 1332 858ZM1219 920 1219 921 1238 903 1236 900 1215 901 1214 902ZM1135 937 1153 937 1159 927 1156 920 1152 916 1140 917 1133 936ZM1173 930 1175 935 1188 942 1195 931 1191 919 1189 917ZM1150 962 1132 951 1121 956 1121 964 1133 974 1150 969ZM1319 993 1312 976 1287 981 1286 998 1298 1008 1299 1008ZM1620 38 1621 39 1649 30 1622 30ZM1592 67 1572 74 1575 80 1593 94 1597 95 1608 89 1608 88ZM1583 130 1582 128 1560 130 1558 142 1564 148 1580 137ZM1412 292 1418 294 1426 283 1411 266 1405 265 1405 265 1382 268 1381 276 1389 286 1402 275ZM1666 297 1665 285 1658 279 1644 282 1643 297 1660 305ZM1435 323 1426 317 1411 323 1411 328 1425 341 1435 335 1439 330ZM1449 374 1451 388 1464 393 1471 378 1468 374 1453 370ZM1421 409 1408 412 1410 436 1418 441 1426 438 1426 410 1426 410ZM1621 439 1606 440 1604 451 1625 456ZM1440 483 1442 481 1443 473 1434 459 1422 466 1419 477 1439 483ZM1615 474 1606 479 1607 492 1616 500 1632 493 1637 484ZM1540 522 1522 523 1518 533 1528 546 1552 542 1553 536ZM1472 611 1477 595 1472 587 1459 585 1457 585 1456 610 1456 610ZM1417 616 1426 613 1427 611 1426 588 1422 585 1405 594 1405 595 1413 612ZM1657 631 1642 629 1636 631 1637 657 1642 662 1664 648ZM1465 729 1477 740 1487 726 1484 717 1467 722ZM1690 706 1668 703 1670 719 1657 728 1657 729 1686 745 1688 745 1690 728 1686 719ZM1498 799 1511 786 1510 784 1493 779 1493 795ZM1528 795 1541 819 1543 819 1561 805 1560 799 1556 791 1532 788 1529 791ZM1600 991 1588 972 1571 985 1572 994 1588 1003ZM1523 986 1505 982 1500 1009 1501 1009 1517 1001ZM1441 1041 1459 1033 1457 1025 1452 1020 1434 1022 1432 1036ZM1546 1050 1538 1051 1537 1048 1527 1042 1516 1044 1511 1047 1511 1061 1513 1064 1519 1067 1536 1058 1544 1069 1556 1066 1557 1058ZM1581 1064 1579 1054 1570 1047 1568 1051 1570 1068ZM2001 98 2015 84 2014 79 2004 63 1980 70 1981 76 1990 93 1997 98ZM1762 110 1762 106 1757 99 1742 101 1743 116ZM1870 132 1887 142 1891 120 1867 117 1866 119ZM1792 141 1790 134 1780 130 1771 144 1787 156 1789 155ZM1844 213 1845 217 1862 222 1872 216 1867 198 1857 194 1855 196ZM2121 237 2112 255 2113 256 2138 251 2146 244 2134 235ZM1924 280 1941 270 1932 260 1919 271ZM1786 263 1794 287 1812 275 1811 274 1791 262ZM2110 274 2111 291 2121 298 2129 293 2130 275 2116 266ZM1997 317 2008 321 2022 316 2023 315 2023 306 2002 294 1997 297 1993 310ZM2042 336 2055 328 2056 325 2047 312 2039 316 2039 333ZM1973 461 1959 450 1954 453 1948 464 1950 468 1964 473ZM1824 490 1831 486 1822 470 1806 470 1805 471 1816 488ZM2001 502 1999 482 1997 481 1970 493 1973 499 1984 510ZM1733 522 1739 498 1712 503 1710 504 1709 521 1712 523ZM1974 531 1984 516 1983 513 1962 520ZM1729 547 1722 547 1719 556 1720 565 1731 568 1739 561 1741 555ZM2144 565 2139 547 2130 547 2121 557 2136 568ZM1788 572 1805 558 1794 544 1781 550ZM1903 557 1898 553 1886 554 1886 577 1886 577 1893 576ZM1992 584 1993 586 2005 590 2012 575 1999 564ZM2037 624 2042 623 2047 617 2048 613 2039 602 2027 600 2028 620ZM1992 636 2012 633 2014 623 2010 618 1996 615 1995 614 1980 613 1975 622 1980 631 1990 634ZM1706 1074 1706 1074 1731 1074 1735 1067 1729 1059 1711 1063 1706 1068Z"/><path fill="#b8f" stroke="#b8f" d="M1233 143 1241 123 1235 117 1220 110 1209 116 1216 138ZM1212 190 1204 193 1214 217 1221 222 1232 206 1216 190ZM1336 258 1338 258 1342 256 1349 243 1349 243 1335 234 1329 248ZM1289 320 1279 321 1268 339 1273 345 1288 342ZM1156 424 1142 430 1139 437 1148 450 1163 450 1164 449 1164 438ZM1293 432 1281 427 1259 437 1256 446 1274 452 1291 437ZM1240 454 1236 450 1232 450 1208 459 1196 447 1192 447 1186 452 1186 472 1195 480 1197 480 1204 476 1228 482 1234 477 1241 458ZM1172 509 1172 509 1151 506 1148 519 1159 525ZM1194 555 1200 557 1212 540 1205 530 1195 528 1191 552ZM1171 597 1152 588 1144 592 1142 597 1163 607 1169 606 1173 599ZM1160 744 1164 748 1191 748 1193 750 1199 752 1208 737 1192 717 1177 722 1175 724 1175 724 1151 717 1148 732 1161 742ZM1254 808 1252 800 1215 808 1211 812 1210 816 1211 819 1211 819 1218 824ZM1336 831 1351 817 1342 808 1333 807 1332 808 1333 826ZM1216 887 1236 890 1242 883 1234 873 1219 877ZM1310 913 1314 926 1331 918 1325 903ZM1217 1020 1216 1019 1207 1015 1182 1025 1181 1027 1181 1030 1207 1039ZM1195 1056 1191 1054 1167 1062 1161 1052 1144 1051 1144 1051 1144 1074 1163 1074 1167 1063 1187 1074 1196 1074ZM1121 1074 1129 1074 1132 1055 1121 1052ZM1567 107 1561 108 1559 109 1556 122 1560 130 1582 128 1580 118 1573 109ZM1417 171 1421 173 1428 159 1428 151 1422 146 1416 131 1399 129 1398 129 1392 140 1398 148 1398 148ZM1630 137 1620 127 1599 134 1600 138 1622 151 1627 150ZM1529 168 1548 162 1542 144 1534 141 1533 142 1521 159ZM1362 214 1356 198 1347 195 1340 209 1343 217 1361 220ZM1504 332 1517 353 1518 354 1522 353 1535 340 1532 332 1510 326ZM1469 333 1454 336 1453 354 1478 351 1478 341ZM1628 433 1631 419 1614 418 1611 422 1622 438ZM1555 437 1553 447 1555 449 1569 453 1584 441 1580 431 1561 433ZM1492 493 1490 492 1489 491 1480 498 1473 514 1478 527 1480 528 1503 510ZM1616 537 1599 545 1604 554 1623 546 1624 540ZM1527 617 1532 625 1546 622 1540 608 1528 614ZM1471 659 1466 655 1453 667 1452 670 1454 674 1457 677 1471 675ZM1384 712 1381 704 1375 697 1354 702 1365 726 1375 722ZM1588 782 1566 776 1562 778 1556 791 1560 799 1590 791 1591 786ZM1485 817 1465 826 1472 840 1480 841 1485 833 1486 818ZM1631 922 1619 922 1612 927 1612 928 1624 950 1630 950 1639 934ZM1576 965 1569 952 1565 951 1556 965 1560 968ZM1377 1016 1372 1024 1381 1031 1400 1028 1406 1022 1397 1011ZM1537 1048 1538 1051 1546 1050 1563 1035 1545 1029 1543 1031ZM1438 1060 1428 1060 1421 1074 1442 1074 1441 1062ZM1759 83 1757 99 1762 106 1779 100 1774 79 1769 76 1763 77ZM2093 132 2106 127 2109 123 2108 108 2107 107 2107 107 2083 124 2083 128ZM1856 175 1857 194 1867 198 1887 188 1888 186 1887 182 1871 174ZM1989 178 1988 181 2002 199 2019 196 2011 176ZM1995 206 1984 207 1974 226 1977 231 2001 225 2001 224ZM1860 242 1862 240 1862 222 1845 217 1842 224 1845 243 1847 245ZM1908 255 1907 257 1912 268 1919 271 1932 260 1931 246ZM2080 274 2112 255 2106 251 2084 256 2079 270ZM2153 334 2155 357 2164 353 2164 321 2163 322ZM1916 375 1917 379 1945 368 1943 363 1926 356 1924 357ZM2030 386 2028 371 2005 367 2009 385 2027 390ZM1905 430 1898 438 1897 442 1900 446 1903 447 1920 442 1923 436 1923 432ZM2099 446 2099 447 2120 454 2126 441 2120 430 2105 430ZM1910 488 1921 472 1922 466 1919 465 1894 467 1892 469 1903 486ZM1834 486 1840 492 1854 488 1856 486 1847 467 1846 466ZM2121 557 2130 547 2123 539 2113 540 2106 555 2110 558ZM2046 593 2043 584 2036 580 2029 582 2025 598 2027 600 2039 602ZM2128 606 2138 613 2152 607 2146 591 2138 590 2129 597ZM2114 699 2100 680 2092 692 2092 696 2103 712 2107 713ZM1681 832 1666 826 1663 844 1667 846 1682 834Z"/><path fill="#fb5" stroke="#fb5" d="M1210 30 1205 30 1196 41 1203 57 1217 55 1216 35ZM1316 87 1311 81 1304 81 1297 110 1303 115 1319 106ZM1121 111 1121 136 1124 133 1125 111ZM1264 186 1265 181 1263 172 1244 175 1240 189 1244 196ZM1267 220 1271 232 1275 235 1293 217 1293 214 1291 213ZM1353 277 1359 273 1362 264 1342 256 1338 258 1344 278ZM1195 287 1206 268 1177 270 1178 276ZM1207 381 1206 383 1208 405 1222 399 1223 386ZM1320 430 1311 431 1315 463 1337 459 1332 433ZM1379 452 1376 453 1370 470 1378 484 1386 475ZM1194 869 1194 872 1211 888 1213 889 1216 887 1219 877 1234 873 1234 869 1219 854 1216 855 1212 862ZM1363 878 1349 856 1334 878 1359 887ZM1328 943 1314 930 1303 934 1296 948 1316 967 1316 966ZM1246 970 1231 973 1231 978 1245 984 1249 979ZM1267 969 1259 978 1261 995 1282 979 1279 974 1268 969ZM1243 1007 1245 1002 1224 991 1222 992 1216 1019 1217 1020 1230 1022ZM1207 1015 1198 1003 1186 1009 1182 1025ZM1142 1041 1144 1051 1161 1052 1167 1062 1191 1054 1178 1037 1164 1048 1158 1027 1170 1020 1166 1008 1145 1013 1145 1014 1150 1025ZM1129 1074 1144 1074 1144 1051 1132 1055ZM1568 51 1574 45 1567 30 1548 30 1545 46ZM1618 176 1619 180 1635 189 1636 189 1641 161 1633 156ZM1599 228 1600 228 1611 209 1610 207 1593 204 1587 207 1591 227ZM1614 266 1626 260 1632 243 1631 238 1629 236 1614 241 1605 259ZM1562 327 1557 336 1572 349 1582 349 1583 333ZM1666 374 1667 375 1677 377 1686 370 1685 364 1678 356 1670 357ZM1495 571 1498 573 1517 567 1518 565 1509 546 1515 535 1482 530 1482 533 1490 545 1489 569ZM1570 528 1553 536 1552 542 1554 551 1560 554 1575 550ZM1433 563 1446 570 1462 558 1458 551 1443 551 1433 562ZM1695 578 1689 593 1705 610 1717 598ZM1674 647 1680 630 1663 629 1657 631 1664 648 1670 650ZM1457 692 1457 677 1454 674 1452 670 1439 668 1423 681 1424 692 1428 692 1447 700ZM1593 722 1593 722 1608 738 1625 734 1624 714 1621 712 1607 713 1593 721ZM1484 756 1491 772 1500 768 1502 754ZM1611 775 1605 783 1614 796 1624 786ZM1625 851 1625 851 1611 840 1602 851 1606 865 1612 867ZM1560 940 1566 933 1571 919 1567 914 1557 911 1545 927 1552 940ZM1530 958 1538 946 1524 926 1515 944ZM1543 1031 1529 1026 1527 1042 1537 1048ZM2062 120 2062 121 2070 143 2070 143 2071 143 2083 128 2083 124 2076 115ZM2123 153 2128 163 2141 167 2143 157 2138 147 2130 145 2126 147ZM1927 177 1946 174 1929 159 1919 160 1917 162 1917 165ZM2145 192 2146 172 2144 171 2130 179 2132 187ZM1721 234 1723 231 1709 218 1694 229 1709 238ZM2009 235 2001 225 1977 231 1977 232 2000 251 2008 247 2009 246ZM1931 246 1937 237 1936 235 1934 231 1908 223 1902 242 1908 255ZM1874 306 1882 318 1890 317 1890 300 1882 296 1874 302ZM1777 338 1773 327 1762 322 1758 341 1762 345 1763 345ZM2147 360 2139 343 2126 342 2114 351 2113 353 2121 357ZM2121 390 2113 371 2113 354 2097 356 2086 380 2091 383 2093 388 2119 392ZM1825 420 1819 432 1830 438 1837 423ZM1747 464 1746 475 1751 483 1769 470 1768 467 1755 456ZM1807 502 1824 502 1824 490 1816 488ZM1975 602 1965 602 1958 612 1960 623 1975 622 1980 613ZM2028 620 2014 623 2012 633 2015 640 2034 637 2037 624ZM1983 651 1973 650 1965 666 1968 672 1989 667 1991 662ZM1745 668 1731 675 1733 687 1742 697 1750 694 1754 683 1767 674 1768 669 1758 645 1756 645ZM2125 689 2143 679 2145 668 2143 662 2139 661 2128 662 2114 676ZM1743 955 1739 973 1746 987 1759 984 1763 966 1756 953 1744 952Z"/><path fill="#cf4" stroke="#cf4" d="M1244 80 1252 66 1241 55 1228 53 1220 57 1225 76 1236 80ZM1398 129 1399 129 1406 109 1402 106 1386 106 1386 117ZM1281 202 1289 184 1265 181 1264 186 1270 199ZM1150 204 1163 218 1168 218 1171 204 1151 204ZM1587 230 1572 221 1561 233 1565 242 1571 247 1576 247ZM1279 248 1275 235 1271 232 1257 236 1255 245 1259 253 1260 254 1274 251ZM1241 404 1257 417 1259 416 1266 399 1256 394ZM1605 493 1587 498 1582 509 1595 517ZM1391 564 1370 561 1367 564 1369 575 1353 585 1365 603 1370 601 1378 586 1375 579 1393 571ZM1381 627 1394 623 1394 616 1390 611 1384 609 1377 622ZM1169 651 1176 637 1164 626 1159 627 1150 640 1160 653 1164 653ZM1307 706 1300 693 1277 710 1277 711 1280 713 1297 717ZM1392 741 1403 741 1404 739 1400 716 1384 712 1375 722ZM1585 837 1595 830 1571 815 1567 830ZM1414 827 1414 839 1423 857 1424 857 1445 851 1445 847 1421 824ZM1456 919 1453 921 1445 932 1447 936 1453 942 1463 944 1467 924ZM1192 956 1188 942 1175 935 1172 952 1177 957 1187 958ZM1614 1051 1612 1051 1603 1074 1623 1074 1624 1063ZM2103 84 2102 69 2083 70 2080 84 2084 89ZM2076 185 2078 185 2095 182 2096 170 2086 165 2078 168ZM2130 179 2122 174 2118 176 2110 191 2118 198 2132 187ZM2149 215 2164 211 2164 195 2145 192 2141 200ZM1832 207 1824 208 1820 222 1828 229 1842 224 1845 217 1844 213ZM2001 224 2001 225 2009 235 2023 228 2017 211ZM1837 281 1838 280 1844 269 1842 265 1832 261 1814 269 1811 274 1812 275 1819 283ZM1993 310 1975 312 1973 333 1987 338 1983 352 1999 363 2001 363 2009 349 1988 338 1997 317ZM1792 333 1783 320 1773 327 1777 338 1785 339ZM1880 349 1881 346 1873 327 1848 337 1856 347ZM1972 389 1961 393 1960 395 1973 409 1981 404 1981 402ZM2098 499 2087 499 2077 505 2076 514 2084 521 2108 510ZM1649 576 1651 590 1664 591 1661 578 1650 575ZM1880 595 1892 605 1904 592 1901 579 1893 576 1886 577ZM1933 618 1958 626 1960 623 1958 612 1934 605 1929 609ZM1663 796 1684 799 1688 791 1673 776 1664 776 1661 790 1662 795ZM1609 992 1617 1000 1623 1001 1630 998 1631 996 1628 974 1621 973 1617 974ZM1707 989 1695 992 1691 1008 1695 1013 1710 1007 1707 990Z"/><path fill="#fe4" stroke="#fe4" d="M1235 34 1216 35 1217 55 1220 57 1228 53ZM1359 353 1363 362 1384 352 1365 330 1363 332ZM1121 371 1121 391 1128 393 1133 386 1124 372ZM1188 414 1192 413 1190 385 1166 394 1163 404ZM1304 428 1311 431 1320 430 1330 402 1316 394 1307 407ZM1147 501 1150 492 1142 476 1130 478 1130 479 1133 501ZM1331 516 1334 526 1341 534 1357 524 1358 522 1352 504ZM1393 525 1378 526 1374 537 1375 543 1376 543 1388 545 1396 528ZM1347 633 1353 614 1346 612 1335 620 1336 629 1346 634ZM1205 695 1200 665 1198 663 1193 664 1184 677 1191 694 1197 697ZM1286 734 1277 742 1277 753 1295 750 1296 739ZM1333 807 1342 808 1353 795 1348 782 1343 780 1338 783 1331 796ZM1188 828 1171 819 1164 833 1168 840 1187 841ZM1428 999 1431 995 1407 985 1405 988 1404 999 1414 1004ZM1463 1043 1448 1060 1462 1067 1474 1059 1474 1057ZM1505 86 1524 81 1524 80 1517 67 1500 62 1493 70ZM1620 127 1619 114 1602 115 1598 132 1599 134ZM1587 159 1588 158 1586 156 1565 151 1561 165 1568 169 1583 164ZM1532 181 1539 182 1556 169 1556 167 1548 162 1529 168ZM1486 205 1486 202 1469 186 1452 202 1460 209 1469 212 1482 210ZM1518 228 1522 224 1515 205 1491 207 1503 224ZM1555 276 1557 277 1567 271 1567 256 1547 264ZM1660 274 1657 261 1647 261 1640 267 1643 281 1644 282 1658 279ZM1670 397 1670 395 1666 391 1645 390 1644 391 1646 400 1657 407ZM1516 617 1527 617 1528 614 1525 593 1524 592 1515 595 1513 598 1513 614ZM1511 645 1500 644 1500 656 1509 666 1519 655ZM1533 679 1531 682 1537 689 1558 688 1564 681 1564 676 1558 673ZM1628 879 1617 877 1607 882 1613 899 1617 900 1627 896 1636 885 1637 885 1643 880 1646 866 1635 849 1625 851 1625 851ZM1495 1009 1494 1010 1491 1032 1500 1035 1509 1020 1501 1009 1500 1009ZM1867 117 1891 120 1895 117 1895 110 1870 106 1869 107 1867 112ZM1812 187 1818 186 1827 167 1807 163 1799 182ZM1883 253 1883 254 1896 261 1907 257 1908 255 1902 242 1892 243ZM1766 242 1751 235 1744 250 1755 273 1757 274ZM2111 291 2110 274 2091 284 2097 296ZM1953 294 1946 312 1962 313 1970 309 1966 298 1956 291ZM2097 356 2113 354 2113 353 2114 351 2107 338 2088 326 2083 327 2076 342 2081 352ZM2162 429 2152 414 2142 426 2143 434 2148 438 2158 436ZM2034 442 2020 431 2005 452 2008 455 2026 453ZM1840 574 1828 594 1837 598 1856 590 1856 584 1868 570 1864 559 1864 558 1850 560 1843 574ZM2128 642 2138 627 2137 625 2121 623 2117 630 2119 640ZM1663 1045 1662 1044 1649 1068 1652 1074 1668 1074 1671 1070Z"/><path fill="#53f" stroke="#53f" d="M1343 129 1330 127 1324 134 1332 144 1346 141 1345 131ZM1121 252 1123 252 1124 233 1121 232ZM1336 258 1329 248 1306 250 1316 268 1320 269ZM1249 273 1249 273 1244 288 1253 301 1258 301 1262 288ZM1329 342 1340 350 1347 346 1348 340 1333 327 1328 333ZM1273 345 1270 364 1285 368 1293 353 1288 342 1288 342ZM1285 398 1291 397 1300 388 1292 374 1291 374 1280 395ZM1330 374 1319 377 1315 392 1316 394 1330 402 1339 401 1342 399ZM1258 517 1246 518 1240 529 1260 537 1266 527ZM1262 627 1283 616 1282 612 1260 600 1255 623ZM1193 664 1169 651 1164 653 1170 677 1174 679 1184 677ZM1323 713 1316 732 1320 737 1322 738 1336 735 1342 725 1340 717ZM1258 849 1256 827 1255 825 1234 840 1247 856 1248 857ZM1210 969 1222 962 1211 948 1202 948 1194 956ZM1246 970 1249 964 1245 955 1233 952 1224 962 1231 973ZM1509 133 1504 122 1484 141 1484 145 1506 147ZM1387 213 1373 196 1362 214 1361 220 1362 222 1380 221ZM1663 315 1670 316 1688 304 1688 301 1683 296 1666 297 1660 305ZM1670 357 1678 356 1685 344 1681 336 1669 335 1658 348 1660 351ZM1579 383 1598 371 1582 360 1573 372ZM1673 470 1674 471 1687 458 1685 444 1684 444 1668 443 1664 446 1661 452ZM1641 454 1632 458 1644 480 1649 481 1655 454ZM1643 517 1641 521 1655 525 1678 514 1675 505 1673 504 1670 504ZM1712 523 1715 535 1722 547 1729 547 1742 527 1733 522ZM1519 655 1509 666 1508 675 1521 683 1531 682 1533 679 1535 659 1532 653ZM1500 737 1502 739 1513 736 1516 724 1509 713 1507 714 1499 734ZM1593 722 1581 754 1594 760 1607 758 1608 738ZM1710 847 1713 860 1718 865 1732 837 1724 831 1723 831 1719 833ZM1598 871 1588 868 1584 870 1590 891 1591 891 1604 882ZM1563 1035 1546 1050 1557 1058 1568 1051 1570 1047 1569 1040 1565 1034ZM1909 127 1895 117 1891 120 1887 142 1889 144 1895 145 1907 135ZM1871 174 1874 156 1859 153 1856 175 1856 175ZM1782 163 1765 166 1777 194 1780 196 1783 196 1791 185ZM1813 240 1826 240 1828 229 1820 222 1807 227ZM1952 255 1947 244 1937 237 1931 246 1932 260 1941 270 1944 272ZM1718 382 1734 380 1740 374 1740 364 1734 356 1730 355 1720 360 1715 381ZM1885 369 1870 385 1881 397 1902 389ZM1922 466 1926 462 1920 442 1903 447 1919 465ZM1912 506 1917 502 1917 502 1910 488 1903 486 1893 492 1892 509ZM1857 525 1882 532 1886 527 1884 517 1878 511 1860 518ZM2051 560 2085 561 2087 560 2088 559 2073 541 2064 538 2055 540 2046 546 2044 552 2045 555ZM2068 592 2052 581 2043 584 2046 593 2063 598ZM2007 594 1996 605 1995 614 1996 615 2010 618 2014 599ZM1772 640 1771 608 1769 607 1761 606 1754 613 1754 639 1756 645 1756 645 1758 645ZM1726 707 1717 719 1726 724 1739 712 1738 706Z"/><path fill="#f5c" stroke="#f5c" d="M1206 76 1195 67 1185 70 1186 84 1194 95 1202 90ZM1341 93 1322 107 1329 114 1342 111 1348 98ZM1228 319 1235 316 1241 310 1241 310 1232 298 1216 296 1224 318ZM1121 325 1121 357 1127 353 1130 330 1128 328ZM1190 385 1191 383 1182 365 1163 373 1166 394ZM1304 428 1307 407 1316 394 1315 392 1300 388 1291 397 1285 398 1299 429ZM1128 421 1121 437 1121 447 1139 437 1142 430ZM1234 477 1255 489 1269 480 1269 476 1241 458ZM1307 522 1329 515 1327 509 1331 494 1325 484 1305 496 1304 500 1302 502 1302 515ZM1168 490 1166 488 1150 492 1147 501 1151 506 1172 509ZM1258 517 1266 527 1277 523 1279 508 1273 502 1256 505ZM1229 555 1240 553 1235 532 1221 536 1219 539ZM1160 550 1156 550 1154 558 1161 573 1169 563 1169 556ZM1169 606 1163 607 1149 617 1159 627 1164 626 1170 611ZM1322 642 1322 648 1338 655 1343 650 1346 634 1336 629ZM1232 662 1238 665 1253 658 1256 651 1255 647 1242 638 1236 640ZM1164 653 1160 653 1156 657 1152 677 1153 679 1170 677ZM1336 694 1334 693 1317 689 1317 707 1323 712ZM1211 735 1220 734 1228 726 1226 715 1213 714 1211 715ZM1145 780 1150 782 1158 777 1162 770 1151 762 1143 764ZM1261 787 1252 799 1252 800 1254 808 1257 813 1279 814 1287 800 1285 792ZM1326 883 1334 878 1329 863 1314 862 1312 864ZM1186 860 1168 860 1167 861 1163 877 1171 885 1184 887 1194 872 1194 869ZM1121 926 1121 931 1133 936 1140 917 1133 913ZM1259 1024 1254 1034 1257 1041 1266 1048 1284 1039 1286 1032 1285 1030 1272 1019ZM1321 1074 1307 1055 1295 1058 1288 1074ZM1439 37 1439 30 1423 30 1424 37 1432 39ZM1502 49 1505 47 1509 36 1504 30 1491 30 1487 36 1492 45ZM1461 112 1467 112 1480 104 1481 99 1479 96 1465 88 1452 94ZM1357 154 1367 152 1373 142 1367 127 1345 131 1346 141ZM1506 147 1517 159 1521 159 1533 142 1509 133ZM1347 186 1357 181 1353 159 1340 170ZM1518 233 1518 228 1503 224 1486 232 1486 234 1510 248ZM1533 243 1536 258 1539 261 1541 261 1549 246 1543 240ZM1426 283 1430 282 1431 281 1431 259 1424 259 1411 266ZM1476 270 1481 294 1494 299 1496 273 1490 265 1483 264 1482 265ZM1353 310 1360 293 1353 277 1344 278 1344 278 1344 297ZM1445 305 1460 311 1464 310 1467 297 1462 291 1455 290 1445 305ZM1376 406 1379 418 1395 420 1408 412 1405 408 1399 383 1397 382 1382 403ZM1499 397 1490 395 1483 406 1498 419 1508 407ZM1393 525 1390 512 1403 502 1405 496 1377 490 1376 491 1353 478 1350 478 1347 492 1353 501 1372 498 1375 510 1374 514 1378 526ZM1528 550 1528 546 1518 533 1515 535 1509 546 1518 565ZM1353 614 1359 614 1365 603 1353 585 1339 584 1334 589 1334 590 1346 612ZM1540 598 1525 593 1528 614 1540 608 1542 604ZM1537 689 1538 700 1557 704 1558 688ZM1435 732 1456 736 1465 729 1467 722 1461 715 1458 714 1436 725 1434 728 1434 732 1434 732ZM1523 760 1529 759 1526 743 1513 736 1502 739 1503 752ZM1381 792 1379 791 1365 802 1364 819 1367 823 1383 810ZM1532 843 1539 821 1526 821 1518 828 1518 839ZM1407 985 1431 995 1433 994 1436 988 1434 974 1421 967 1415 967 1406 978ZM1432 1036 1421 1040 1418 1047 1421 1053 1428 1060 1438 1060 1441 1041ZM1622 151 1610 160 1609 167 1618 176 1633 156 1627 150ZM1666 203 1667 222 1676 231 1679 231 1699 260 1700 259 1709 238 1694 229 1682 228 1689 204 1688 196 1687 194 1686 194ZM1625 222 1619 213 1611 209 1600 228 1625 228ZM1726 262 1705 275 1707 281 1739 281 1744 277ZM1596 258 1587 289 1594 291 1615 268 1614 266 1605 259 1598 258ZM1644 282 1643 281 1622 281 1621 287 1633 302 1636 302 1643 297ZM1670 316 1683 326 1698 319 1688 304ZM1735 322 1745 339 1758 341 1762 322 1757 311 1750 312 1736 321ZM1603 344 1621 348 1621 339 1606 322 1598 330ZM1715 381 1720 360 1706 355 1704 356 1702 361 1706 380ZM1628 581 1628 584 1643 597 1645 597 1651 590 1649 576 1630 578ZM1602 590 1591 577 1586 579 1578 597 1579 600 1580 601 1602 595ZM1699 626 1705 610 1689 593 1672 600 1672 602 1691 625 1680 630 1674 647 1689 653 1704 638 1706 635ZM1597 631 1584 635 1585 661 1604 663 1607 644ZM1648 717 1651 723 1657 728 1670 719 1668 703 1663 697 1662 691 1670 685 1661 667 1642 663 1642 672 1661 691 1638 698 1637 710ZM1662 795 1661 790 1635 788 1635 807 1639 808 1644 807 1661 823 1663 823 1667 814 1663 796ZM1705 793 1704 788 1698 785 1688 791 1684 799 1690 812 1695 812ZM1710 847 1719 833 1701 831 1693 840ZM1584 870 1578 870 1572 874 1559 860 1548 868 1561 884 1565 883 1576 895 1587 893 1590 891ZM1715 947 1708 931 1697 931 1691 945 1706 954ZM1608 1049 1612 1051 1614 1051 1624 1042 1624 1028 1610 1023 1607 1027ZM1711 1063 1729 1059 1734 1047 1718 1043ZM1892 31 1893 30 1867 30 1869 36 1886 37ZM1976 65 1974 48 1962 42 1947 75 1948 76ZM2164 82 2164 69 2157 72ZM1916 109 1907 88 1906 88 1894 91 1896 109ZM2076 115 2077 109 2074 104 2062 99 2057 100 2055 102 2062 120ZM1824 208 1832 207 1835 191 1837 190 1840 173 1830 165 1830 164 1818 138 1810 144 1805 161 1807 163 1827 167 1818 186 1812 187 1806 206 1824 208ZM2002 199 1995 206 2001 224 2017 211 2021 198 2020 196 2019 196ZM1876 237 1862 240 1860 242 1866 251 1882 253ZM2116 266 2113 256 2112 255 2112 255 2080 274 2080 278 2091 284 2110 274ZM1825 304 1824 304 1817 313 1819 321 1844 325 1849 313 1849 312ZM1923 393 1926 413 1933 414 1940 407 1935 395ZM1847 424 1856 419 1851 402 1837 399 1841 422ZM1979 435 1968 432 1963 425 1957 423 1946 427 1941 442 1954 453 1959 450 1973 461 1981 461ZM2020 431 2020 430 2017 428 1991 435 2000 450 2005 452ZM1854 488 1840 492 1838 509 1839 509 1855 505 1857 503ZM1770 512 1771 515 1782 523 1791 513 1784 506ZM1990 546 1977 544 1975 545 1966 562 1975 574 1975 576 1992 584 1999 564 1997 559 1998 551ZM2076 581 2055 570 2052 581 2068 592 2075 588ZM1857 609 1843 615 1837 627 1837 628 1864 628 1866 620ZM2016 689 2027 681 2024 674 2008 670 2003 677ZM1746 987 1739 995 1757 1020 1758 1020 1762 1017 1770 998 1764 987 1759 984Z"/><path fill="#efb" stroke="#efb" d="M1242 37 1258 50 1265 43 1265 38 1254 30 1241 30 1240 31ZM1361 96 1372 81 1358 70 1351 75ZM1186 84 1167 97 1166 100 1186 108 1193 106 1194 95ZM1362 222 1362 222 1361 220 1343 217 1333 229 1335 234 1349 243ZM1370 254 1349 243 1342 256 1362 264ZM1340 367 1340 350 1329 342 1322 351 1336 368ZM1285 368 1270 364 1264 368 1264 369 1277 396 1280 395 1291 374ZM1382 403 1397 382 1394 377 1380 380 1369 391 1367 400 1376 406ZM1315 463 1312 467 1325 484 1341 472 1337 459 1337 459ZM1258 597 1270 586 1273 574 1259 567 1250 582 1254 595ZM1129 670 1121 676 1121 677 1128 694 1137 695 1141 690ZM1211 695 1231 705 1235 703 1236 689 1221 683ZM1187 780 1194 791 1198 794 1214 781 1205 761 1201 759ZM1202 948 1211 948 1220 934 1219 930 1202 936ZM1121 1010 1121 1014 1133 1017 1145 1014 1145 1013 1144 1007 1132 995 1127 997ZM1384 1074 1368 1053 1363 1052 1355 1056 1353 1061 1360 1074ZM1572 74 1592 67 1600 55 1588 41 1574 45 1568 51 1571 73ZM1637 74 1643 76 1644 76 1654 53 1651 48 1640 52 1637 55ZM1534 130 1534 130 1556 122 1559 109 1546 105 1537 107ZM1573 372 1556 366 1554 366 1548 374 1554 388 1579 389 1579 383ZM1470 453 1455 433 1440 444 1440 449 1453 463 1461 464ZM1563 582 1564 577 1549 568 1543 579 1549 588 1553 588ZM1594 692 1593 721 1607 713 1607 686ZM1480 885 1472 876 1454 878 1454 889 1460 898 1463 898 1479 890ZM1486 963 1477 971 1486 986 1502 979 1502 967ZM1588 971 1588 972 1600 991 1609 992 1617 974 1604 965 1590 969ZM1628 974 1631 996 1649 981 1646 976 1636 971ZM1485 986 1462 989 1463 998 1470 1002 1486 998ZM1638 1023 1630 1022 1624 1028 1624 1042 1641 1044 1648 1038 1644 1027ZM1599 1049 1597 1048 1579 1054 1581 1064 1589 1067ZM1649 1068 1640 1060 1624 1063 1623 1074 1652 1074ZM1556 1066 1544 1069 1543 1074 1567 1074 1567 1074ZM1952 32 1962 42 1974 48 2005 32 2005 30 1951 30ZM1781 56 1775 61 1769 76 1774 79 1794 80 1801 64 1790 55ZM2151 139 2150 133 2145 128 2135 129 2130 145 2138 147ZM1726 326 1735 322 1736 321 1725 304 1709 310 1703 320ZM1782 367 1774 374 1765 388 1765 391 1773 396 1794 396 1796 373 1788 366ZM1923 393 1935 395 1940 391 1949 374 1945 368 1945 368 1917 379 1913 388ZM2052 404 2034 408 2034 409 2046 422 2057 413ZM1959 515 1973 499 1970 493 1968 491 1951 493 1950 496ZM1733 573 1745 583 1752 572 1739 561 1731 568ZM1670 595 1672 600 1689 593 1695 578 1694 573 1675 582ZM2118 611 2121 623 2137 625 2138 613 2128 606ZM2077 653 2082 653 2097 637 2096 631 2081 628 2072 631ZM2067 693 2077 684 2078 679 2058 666 2055 670ZM1698 785 1704 788 1719 780 1721 776 1712 769 1695 771ZM1748 842 1740 838 1736 838 1738 859 1752 860ZM1712 892 1709 883 1689 884 1686 895 1698 906 1709 904Z"/><path fill="#fcd" stroke="#fcd" d="M1140 50 1151 57 1174 59 1175 53 1164 30 1148 30ZM1359 67 1372 55 1360 48 1350 58ZM1247 84 1244 80 1236 80 1220 110 1220 110 1235 117ZM1168 170 1191 168 1192 164 1179 147 1173 145 1162 161 1164 168ZM1265 181 1289 184 1291 182 1280 159 1264 167 1263 172ZM1281 202 1270 199 1269 201 1265 218 1267 220 1291 213ZM1238 235 1239 240 1255 245 1257 236 1252 226ZM1202 315 1206 298 1196 294 1185 299 1189 315 1194 320ZM1246 518 1258 517 1256 505 1252 500 1239 503 1228 490 1215 503 1225 516 1229 516 1238 506ZM1306 534 1303 535 1299 556 1306 564 1313 561 1320 550 1311 535ZM1353 585 1369 575 1367 564 1345 556 1339 569 1339 584ZM1260 600 1282 612 1289 604 1282 588 1270 586 1258 597ZM1322 615 1322 602 1301 598 1300 599 1308 616 1317 620ZM1325 765 1338 762 1322 738 1320 737 1316 732 1311 732 1296 739 1295 750 1299 756 1313 755 1316 761ZM1415 772 1403 780 1403 789 1415 795 1417 795 1423 790 1424 786ZM1332 808 1333 807 1331 796 1315 792 1310 796 1308 803 1318 810ZM1170 812 1171 819 1188 828 1211 819 1210 816 1178 809ZM1373 851 1350 852 1349 855 1349 856 1363 878 1366 876ZM1238 924 1244 907 1238 903 1219 921 1221 924ZM1265 1062 1256 1064 1246 1074 1275 1074ZM1571 73 1568 51 1545 46 1540 50 1550 72 1561 75ZM1669 74 1655 53 1654 53 1644 76ZM1516 119 1534 130 1537 107 1531 103ZM1602 115 1598 108 1580 118 1582 128 1583 130 1598 132ZM1451 176 1451 164 1428 159 1421 173 1423 179 1433 192ZM1417 238 1424 259 1431 259 1441 255 1432 235 1418 234ZM1561 313 1573 305 1576 296 1559 286 1547 296 1553 310ZM1422 303 1426 317 1435 323 1445 305 1445 305 1440 300ZM1510 326 1532 332 1535 317 1529 310 1521 310 1509 319ZM1599 545 1616 537 1607 523 1598 525 1591 533 1593 541ZM1528 550 1518 565 1517 567 1525 573 1540 560ZM1454 631 1456 610 1456 610 1455 610 1435 619 1439 633ZM1560 632 1559 619 1557 619 1547 622 1548 638ZM1491 617 1481 619 1478 630 1497 641 1501 630ZM1423 681 1439 668 1430 655 1416 655 1415 662ZM1499 679 1495 684 1497 694 1507 702 1520 688 1521 683 1508 675ZM1538 718 1535 717 1529 723 1528 740 1543 733 1543 726ZM1400 879 1400 884 1423 890 1427 881 1424 857 1423 857 1418 859ZM1477 914 1489 903 1479 890 1463 898ZM1592 909 1587 893 1576 895 1567 914 1571 919 1583 921ZM1588 926 1588 946 1589 947 1601 944 1612 928 1612 927 1609 926ZM1617 1000 1609 992 1600 991 1588 1003 1588 1014 1608 1017ZM2040 68 2043 53 2026 54 2027 61ZM1681 68 1674 77 1674 78 1680 84 1710 86 1706 63ZM2164 148 2164 123 2150 133 2151 139ZM2100 150 2106 160 2123 153 2126 147 2120 142 2106 142ZM1805 161 1789 155 1787 156 1782 163 1791 185 1799 182 1807 163ZM2002 199 1988 181 1983 185 1981 202 1984 207 1995 206ZM2076 233 2046 218 2044 221 2049 247 2064 247 2074 238ZM1683 296 1688 301 1704 289 1707 282 1707 281 1705 275 1698 268 1688 270 1681 281ZM1916 375 1924 357 1911 349 1904 357ZM1686 370 1696 382 1700 383 1706 380 1702 361 1685 364ZM1705 428 1693 443 1711 453 1712 452 1714 432ZM2057 484 2062 489 2080 483 2089 468 2088 468 2072 460 2066 465ZM1725 478 1712 476 1706 479 1708 502 1710 504 1712 503 1726 483ZM1837 546 1823 563 1840 574 1843 574 1850 560ZM1750 592 1735 610 1754 613 1761 606 1754 593ZM1690 706 1686 719 1690 728 1710 723 1711 720 1703 702 1694 701ZM1695 771 1691 766 1673 776 1688 791 1698 785ZM1667 909 1679 898 1662 881 1659 882 1663 909ZM1711 1033 1713 1033 1720 1024 1712 1009 1710 1007 1695 1013 1692 1024ZM1734 1047 1729 1059 1735 1067 1746 1064 1744 1048 1740 1046ZM1671 1070 1677 1067 1683 1045 1683 1045 1663 1045Z"/><path fill="#fdb" stroke="#fdb" d="M1125 111 1134 106 1135 103 1121 89 1121 111ZM1233 166 1244 175 1263 172 1264 167 1255 153 1234 149 1229 159ZM1151 204 1171 204 1177 199 1160 188 1151 195ZM1583 333 1587 330 1584 316 1573 305 1561 313 1562 327ZM1270 364 1273 345 1268 339 1259 335 1248 339 1246 341 1245 351 1252 362 1264 368ZM1503 453 1519 442 1519 441 1512 428 1504 428 1500 452ZM1164 449 1186 452 1192 447 1181 431 1164 438ZM1121 510 1123 509 1133 501 1130 479 1121 480ZM1543 579 1527 578 1524 592 1525 593 1540 598 1549 588ZM1405 595 1390 611 1394 616 1413 612ZM1447 700 1436 725 1458 714ZM1336 735 1322 738 1338 762 1339 762 1355 750ZM1581 754 1574 755 1566 776 1588 782 1594 760ZM1358 928 1363 936 1380 936 1384 928 1380 921 1366 912ZM1477 971 1486 963 1486 955 1476 945 1467 947 1464 967 1465 968ZM1185 980 1183 981 1184 987 1198 998 1211 987 1208 977ZM1486 998 1495 1009 1500 1009 1505 982 1502 979 1486 986 1485 986ZM1385 995 1397 1006 1404 999 1405 988 1386 991ZM1460 986 1436 988 1433 994 1450 1008 1463 998 1462 989ZM1570 1068 1567 1074 1567 1074 1592 1074 1589 1067 1581 1064ZM1829 102 1826 98 1808 86 1798 88 1798 88 1813 108 1823 107ZM1663 178 1666 186 1686 194 1687 194 1689 183 1689 174 1677 163ZM1709 218 1709 214 1689 204 1682 228 1694 229ZM1667 248 1680 267 1688 270 1698 268 1699 260 1679 231 1676 231 1668 240 1667 242ZM1806 250 1792 239 1782 251 1784 262 1786 263 1791 262ZM1614 266 1615 268 1622 281 1643 281 1640 267 1626 260ZM2023 306 2023 315 2039 316 2047 312 2050 301 2050 295 2036 288 2033 290ZM1911 343 1900 330 1881 346 1880 349 1884 359 1884 360 1904 357 1911 349ZM2121 357 2141 377 2147 360 2147 360ZM1960 395 1961 393 1953 375 1949 374 1940 391 1955 399ZM1676 421 1686 429 1700 422 1700 420 1691 411ZM1857 446 1857 440 1847 427 1840 444ZM1616 500 1607 492 1605 493 1595 517 1598 525 1607 523 1619 511ZM1750 532 1761 534 1771 515 1770 512 1761 503 1746 529ZM1720 565 1714 570 1721 590 1733 573 1731 568ZM2129 597 2138 590 2132 574 2118 578 2113 585ZM1680 630 1691 625 1672 602 1666 606 1663 629ZM1679 1005 1673 1021 1685 1028 1692 1024 1695 1013 1691 1008ZM1754 1074 1753 1070 1746 1064 1735 1067 1731 1074Z"/><path fill="#f33" stroke="#f33" d="M1442 95 1450 93 1450 73 1438 66 1433 68 1431 81ZM1341 75 1338 87 1341 93 1348 98 1360 98 1361 96 1351 75ZM1318 199 1322 187 1321 182 1302 175 1293 182 1307 201ZM1482 265 1455 249 1446 256 1450 267 1469 273 1476 270ZM1425 341 1416 356 1423 362 1442 357 1435 335ZM1449 400 1446 394 1434 393 1426 410 1426 410 1442 414ZM1671 492 1673 504 1675 505 1691 495 1691 480 1676 475ZM1288 643 1282 655 1282 666 1292 674 1313 653ZM1247 856 1234 869 1234 873 1242 883 1258 882 1259 881 1256 867 1248 857ZM1301 901 1305 911 1310 913 1325 903 1326 899 1323 891 1305 896ZM1414 1004 1406 1022 1413 1024 1427 1017 1428 999ZM1970 119 1962 102 1956 100 1947 117 1959 124ZM2045 149 2028 147 2027 147 2025 163 2031 166 2045 167ZM1844 213 1855 196 1837 190 1835 191 1832 207ZM1882 253 1883 253 1892 243 1884 231 1882 231 1876 237ZM1945 368 1964 350 1961 338 1957 336 1950 336 1943 343 1943 363 1945 368ZM1893 492 1903 486 1892 469 1882 469 1875 476 1873 484 1876 491ZM1864 559 1884 552 1881 534 1862 545 1864 558ZM1912 558 1917 563 1931 550 1928 541 1920 536 1916 538ZM1792 591 1810 607 1817 605 1822 595 1813 580 1795 581ZM1742 697 1733 687 1714 692 1711 698 1726 707 1738 706Z"/><path fill="#d5f" stroke="#d5f" d="M1341 39 1346 30 1322 30 1324 35ZM1246 207 1243 203 1232 206 1221 222 1223 226 1226 227 1249 215ZM1293 217 1275 235 1279 248 1296 251 1303 248 1304 244 1300 226ZM1324 293 1329 281 1320 269 1316 268 1309 276 1308 280 1316 295ZM1207 351 1208 352 1211 351 1228 338 1228 319 1224 318 1215 320ZM1293 353 1309 358 1311 354 1307 338 1288 342ZM1131 408 1125 414 1128 421 1142 430 1156 424 1160 407ZM1272 484 1286 488 1300 473 1301 470 1298 468 1276 469 1269 476 1269 480ZM1193 588 1174 599 1195 614 1200 612 1198 590 1219 586 1221 577 1218 567 1201 558 1193 586ZM1121 619 1121 650 1131 644 1137 636 1133 623ZM1264 675 1254 684 1260 700 1275 708 1277 695 1271 674ZM1381 769 1380 768 1364 758 1356 779 1377 782ZM1150 782 1151 792 1166 799 1169 792 1158 777ZM1198 794 1211 812 1215 808 1225 786 1214 781ZM1367 823 1368 825 1369 827 1400 821 1399 817 1399 817 1383 810ZM1401 856 1397 851 1383 854 1387 867 1395 871ZM1156 920 1159 927 1173 930 1189 917 1188 910 1172 906ZM1135 937 1133 936 1121 931 1121 956 1132 951ZM1443 959 1453 942 1447 936 1432 948ZM1519 53 1517 67 1524 80 1539 50 1532 48ZM1431 149 1428 151 1428 159 1451 164 1458 157 1460 147 1456 143ZM1525 191 1532 181 1529 168 1521 159 1517 159 1508 166 1506 184 1518 193ZM1740 401 1734 380 1718 382 1719 403ZM1670 397 1674 402 1688 404 1688 388 1681 387 1670 395ZM1519 421 1511 407 1508 407 1498 419 1499 425 1504 428 1512 428ZM1729 458 1727 456 1712 452 1711 453 1709 456 1712 476 1725 478 1725 478ZM1557 496 1552 508 1571 516 1572 514 1568 499ZM1465 532 1478 527 1473 514 1454 505 1442 514ZM1805 515 1830 517 1833 512 1824 502 1807 502 1805 503 1804 513 1791 513 1782 523 1782 525 1801 535 1804 533ZM1591 533 1571 528 1570 528 1575 550 1582 553 1593 541ZM1754 639 1733 618 1711 636 1715 639 1744 646 1756 645ZM1624 714 1637 710 1638 698 1632 687 1642 672 1642 663 1642 662 1637 657 1605 665 1609 683 1619 687 1621 712ZM1663 823 1666 826 1681 832 1688 813 1667 814ZM1480 841 1484 848 1498 850 1506 842 1505 840 1485 833ZM1646 866 1643 880 1659 882 1662 881 1676 866 1676 865 1656 860ZM1631 922 1635 916 1627 896 1617 900 1619 922ZM1698 906 1686 895 1679 898 1667 909 1681 923 1691 922ZM1729 1022 1720 1024 1713 1033 1718 1043 1734 1047 1740 1046 1740 1027ZM2103 84 2111 96 2131 87 2130 82 2117 63 2104 66 2102 69ZM1789 155 1805 161 1810 144 1792 141ZM2074 208 2080 213 2091 206 2078 185 2076 185 2078 168 2066 159 2056 167 2067 185 2075 185ZM1960 178 1969 185 1983 185 1988 181 1989 178 1986 168 1984 166 1972 165ZM1962 313 1946 312 1953 294 1939 294 1931 309 1936 315 1938 316 1950 336 1957 336ZM2043 345 2052 353 2053 353 2064 343 2055 328 2042 336ZM1983 352 1987 338 1973 333 1961 338 1964 350 1974 357ZM1858 369 1856 379 1862 385 1870 385 1885 369 1884 360 1884 359ZM2113 400 2114 411 2125 422 2125 421 2132 408 2123 390 2121 390 2119 392ZM1822 405 1820 413 1825 420 1837 423 1841 422 1837 399 1834 396 1830 396ZM2158 436 2164 445 2164 445 2164 429 2162 429ZM2131 470 2120 483 2121 484 2134 498 2142 494 2138 472 2135 470ZM1975 574 1966 562 1952 563 1954 578 1962 584 1973 580 1975 576ZM1895 612 1893 620 1893 620 1903 638 1904 638 1905 637 1927 609 1921 607ZM1933 622 1923 636 1934 648 1942 641Z"/><path fill="#ef5" stroke="#ef5" d="M1439 30 1439 37 1452 40 1452 30ZM1316 75 1338 71 1338 62 1317 51ZM1236 80 1225 76 1223 77 1213 93 1220 110ZM1406 109 1418 105 1417 89 1411 86 1398 86 1402 106ZM1422 303 1440 300 1439 288 1430 282 1426 283 1418 294 1419 299ZM1171 314 1189 315 1185 299 1173 295 1166 299ZM1401 314 1401 313 1392 303 1383 311 1384 324 1389 327ZM1192 346 1190 340 1184 337 1166 335 1159 344 1165 349ZM1367 450 1358 452 1343 430 1339 430 1332 433 1337 459 1337 459 1357 453 1357 473 1370 470 1376 453ZM1440 515 1441 514 1433 502 1413 499 1423 523ZM1238 617 1237 601 1226 598 1211 617 1211 618 1227 624ZM1472 637 1478 630 1481 619 1472 611 1456 610 1454 631 1454 631ZM1459 900 1437 908 1453 921 1456 919ZM1304 1032 1309 1035 1326 1025 1324 1017 1309 1019ZM1230 1022 1217 1020 1207 1039 1208 1046 1221 1055 1233 1046 1236 1031ZM1368 1053 1384 1045 1381 1031 1372 1024 1366 1025 1365 1027 1363 1052ZM1716 97 1715 98 1740 121 1743 116 1742 101 1728 92ZM1845 127 1846 125 1835 103 1833 101 1829 102 1823 107 1824 131 1830 132ZM1867 198 1872 216 1876 218 1886 212 1887 188 1887 188ZM1604 300 1594 291 1587 289 1585 290 1576 296 1573 305 1584 316 1606 307ZM2115 313 2102 310 2088 326 2107 338ZM1517 353 1504 332 1494 334 1501 354ZM2103 428 2105 430 2120 430 2125 422 2114 411 2104 419ZM1631 419 1628 433 1640 436 1645 432 1637 417 1633 417ZM1755 455 1735 444 1727 456 1729 458 1747 464 1755 456ZM1998 551 2012 545 2019 518 2017 516 1992 527 1990 546ZM1714 570 1694 572 1694 573 1695 578 1717 598 1720 597 1720 596 1721 590ZM1843 615 1857 609 1860 595 1856 590 1837 598ZM2039 602 2048 613 2061 604 2063 598 2046 593ZM1531 637 1516 634 1511 645 1519 655 1532 653 1535 644ZM1493 779 1490 775 1482 778 1475 791 1476 793 1493 795ZM1715 869 1685 873 1689 884 1709 883ZM1669 987 1679 1005 1691 1008 1695 992 1677 985 1669 986Z"/><path fill="#89f" stroke="#89f" d="M1277 61 1259 66 1277 84 1288 80 1292 76 1291 73ZM1316 87 1319 106 1322 107 1341 93 1338 87ZM1152 139 1170 141 1172 126 1162 117 1156 120ZM1254 121 1241 123 1233 143 1234 149 1255 153 1265 135ZM1240 189 1225 186 1216 190 1232 206 1243 203 1244 196ZM1253 219 1265 218 1269 201 1246 207 1249 215ZM1150 204 1143 211 1153 225 1163 218ZM1378 249 1372 253 1371 254 1382 268 1405 265 1402 256 1394 249ZM1215 320 1202 315 1194 320 1190 340 1192 346 1193 347 1207 351ZM1246 341 1228 338 1211 351 1231 358 1245 351ZM1145 375 1137 367 1124 372 1133 386 1138 385ZM1206 429 1206 430 1232 450 1236 450 1237 429 1233 422ZM1408 495 1411 482 1401 472 1386 475 1378 484 1377 490 1405 496ZM1121 558 1129 558 1132 551 1131 537 1121 534ZM1389 591 1378 586 1370 601 1383 607ZM1223 639 1209 631 1209 631 1204 651 1219 649ZM1184 633 1176 637 1169 651 1193 664 1198 663 1200 656 1185 634ZM1164 748 1170 763 1193 750 1191 748ZM1293 783 1294 776 1267 773 1261 785 1261 787 1285 792ZM1152 812 1168 810 1166 799 1151 792 1134 804ZM1216 855 1219 854 1230 840 1218 824 1211 819 1200 845ZM1121 879 1121 896 1125 897 1145 891 1148 882 1135 866ZM1372 876 1366 876 1363 878 1359 887 1361 898 1361 899 1392 897 1396 888ZM1290 920 1285 906 1278 903 1263 912 1263 915 1274 928 1276 929ZM1299 1008 1309 1019 1324 1017 1329 1003 1329 1000 1343 994 1346 978 1350 975 1355 956 1352 955 1331 968 1316 966 1316 967 1312 976 1319 993ZM1545 46 1548 30 1522 30 1522 32 1532 48 1539 50 1540 50ZM1640 52 1651 48 1654 53 1655 53 1677 50 1680 44 1676 36 1652 32 1652 30 1649 30 1621 39ZM1580 118 1598 108 1597 95 1593 94 1573 109ZM1607 188 1611 202 1635 189 1619 180ZM1565 242 1561 233 1545 218 1545 218 1522 224 1518 228 1518 233 1533 243 1543 240 1549 246ZM1567 271 1557 277 1559 286 1576 296 1585 290 1577 275ZM1596 350 1604 370 1626 356 1621 348 1603 344ZM1428 378 1414 385 1421 409 1426 410 1434 393 1446 394 1451 388 1449 374 1430 380ZM1503 374 1489 393 1490 395 1499 397 1509 389 1504 374ZM1555 449 1553 447 1555 437 1544 412 1541 411 1530 420 1530 437 1551 448 1535 458 1534 480 1547 483 1549 483 1554 475ZM1517 479 1519 462 1503 454 1501 468 1505 474ZM1403 502 1390 512 1393 525 1396 528 1407 527ZM1597 631 1607 644 1630 628 1630 627 1601 625ZM1607 686 1607 713 1621 712 1619 687 1609 683ZM1624 786 1633 785 1638 765 1635 761 1612 762 1611 775ZM1441 767 1445 782 1454 787 1461 784 1475 791 1482 778 1469 766 1464 768 1450 761ZM1421 824 1445 847 1448 837 1439 815 1425 819ZM1493 903 1489 903 1477 914 1476 920 1488 931 1491 931 1504 917ZM1545 927 1524 924 1524 926 1538 946 1547 944 1552 940ZM1576 965 1588 971 1590 969 1589 947 1588 946 1585 946 1569 952ZM1523 986 1531 982 1533 979 1534 973 1530 967 1507 964 1503 966 1502 967 1502 979 1505 982ZM1407 985 1406 978 1399 975 1387 978 1384 988 1386 991 1405 988ZM1486 998 1470 1002 1471 1013 1482 1016 1494 1010 1495 1009ZM1638 99 1648 99 1643 76 1637 74 1634 75 1627 90ZM1775 124 1780 130 1790 134 1801 125 1801 115 1789 107 1788 103 1779 100 1762 106 1762 110 1766 121ZM1696 137 1693 142 1707 160 1717 156 1721 151 1719 144 1710 136ZM1889 177 1889 177 1880 154 1874 156 1871 174 1887 182ZM1707 282 1704 289 1709 310 1725 304 1725 301ZM1798 332 1801 330 1797 313 1784 313 1783 320 1792 333 1785 339 1789 366 1804 353ZM1837 372 1838 362 1829 350 1821 353 1818 372 1821 374ZM1701 399 1690 406 1691 411 1700 420 1713 406ZM1813 434 1819 432 1825 420 1820 413 1803 419 1801 425ZM1655 454 1649 481 1644 480 1637 484 1632 493 1644 504 1650 497 1651 484 1650 481 1673 470 1661 452ZM1712 503 1739 498 1739 498 1726 483ZM1838 509 1840 492 1834 486 1831 486 1824 490 1824 502 1833 512ZM1785 497 1784 506 1791 513 1804 513 1805 503 1804 502 1787 495ZM1782 525 1772 541 1774 547 1775 548 1781 550 1794 544 1801 535ZM1886 527 1882 532 1881 534 1884 552 1886 554 1898 553 1902 539 1889 528ZM1754 593 1761 606 1769 607 1774 591 1769 582 1770 578 1762 570 1759 569 1752 572 1745 583 1745 586 1750 592ZM1872 669 1886 688 1893 682 1893 658 1890 654 1873 660ZM1739 804 1753 816 1767 819 1772 800 1771 798 1746 789ZM1724 915 1723 915 1731 888 1712 892 1709 904 1698 906 1691 922 1697 931 1708 931ZM1673 1021 1679 1005 1669 987 1665 988 1649 981 1631 996 1630 998 1644 1005 1663 992 1662 1016 1667 1022ZM2156 72 2140 91 2164 93 2164 82 2157 72ZM1990 93 1981 76 1951 92 1951 93 1956 100 1962 102ZM2020 130 2028 132 2031 131 2032 111 2009 110 2009 116ZM2145 128 2150 133 2164 123 2164 113 2149 112ZM1946 139 1938 123 1928 128 1923 141 1941 145ZM2049 247 2045 251 2050 266 2054 269 2068 260 2064 247ZM2019 264 2011 276 2012 284 2033 290 2036 288 2036 276 2028 265ZM2129 293 2121 298 2116 312 2125 318 2140 307 2134 296 2161 286 2145 273 2143 273 2130 275ZM2055 328 2064 343 2076 342 2083 327 2088 326 2102 310 2096 301 2078 305 2072 285 2061 286 2050 295 2050 301 2074 313 2075 318 2056 325ZM2139 343 2153 334 2163 322 2129 325 2126 342ZM1974 372 1974 372 1994 368 1999 363 1983 352 1974 357ZM2153 359 2147 360 2141 377 2141 382 2149 386 2164 375 2164 371ZM2046 422 2034 409 2020 430 2020 431 2034 442 2039 443 2046 425ZM2067 416 2067 417 2061 428 2064 443 2068 445 2079 437 2080 432 2075 420ZM1968 491 1968 480 1964 473 1950 468 1945 482 1951 493ZM1984 516 1974 531 1977 544 1990 546 1992 527ZM2145 539 2139 547 2144 565 2162 570 2164 571 2164 539 2164 524 2157 524 2148 539ZM1941 595 1936 600 1934 605 1958 612 1965 602 1958 594ZM2042 623 2055 638 2070 630 2047 617ZM2108 646 2119 640 2117 630 2102 623 2096 631 2097 637ZM2078 679 2077 684 2092 692 2100 680 2100 674 2082 675ZM1949 724 1949 723 1953 703 1950 695 1938 689 1922 710 1921 713 1924 722 1937 725Z"/><path fill="#2f9" stroke="#2f9" d="M1338 87 1341 75 1338 71 1316 75 1311 81 1316 87ZM1360 98 1365 104 1384 103 1389 81 1379 79 1372 81 1361 96ZM1162 117 1163 103 1140 100 1135 103 1134 106 1140 118 1156 120ZM1354 157 1357 154 1346 141 1332 144 1332 153ZM1380 178 1369 176 1362 182 1368 192 1373 195 1379 189ZM1174 226 1168 218 1163 218 1153 225 1152 232 1157 237ZM1462 291 1469 273 1450 267 1450 269 1431 281 1430 282 1439 288 1450 286 1455 290ZM1388 293 1389 286 1381 276 1369 280 1371 289 1378 294ZM1392 303 1401 313 1419 299 1418 294 1412 292 1391 297ZM1340 350 1340 367 1351 370 1355 369 1361 364 1363 362 1359 353 1347 346ZM1276 469 1298 468 1291 437 1274 452ZM1370 470 1357 473 1353 478 1376 491 1377 490 1378 484ZM1186 514 1187 513 1191 487 1168 490 1172 509 1172 509ZM1160 550 1169 556 1185 549 1175 535 1174 535ZM1142 598 1142 597 1144 592 1133 577 1121 584 1121 597ZM1430 655 1439 668 1452 670 1453 667 1448 653 1439 650ZM1153 679 1152 677 1135 668 1129 669 1129 670 1141 690 1151 686ZM1400 716 1417 701 1417 698 1402 690 1381 704 1384 712ZM1173 701 1177 722 1192 717 1193 716 1197 697 1191 694ZM1152 812 1134 804 1132 804 1131 817 1139 831 1146 830ZM1302 847 1300 845 1287 846 1281 858 1288 872 1291 872ZM1135 857 1127 849 1121 848 1121 879 1135 866ZM1393 901 1380 921 1384 928 1397 926 1398 906ZM1355 956 1358 955 1363 936 1358 928 1342 931 1337 939 1352 955ZM1413 936 1408 943 1408 957 1415 967 1421 967 1427 947 1417 937ZM1127 997 1121 992 1121 1010ZM1285 1030 1286 1032 1304 1032 1309 1019 1299 1008 1298 1008ZM1135 1034 1121 1034 1121 1052 1132 1055 1144 1051 1144 1051 1142 1041ZM1742 30 1728 30 1738 36ZM1763 124 1766 121 1762 110 1743 116 1740 121 1740 124ZM1504 122 1504 121 1485 111 1479 131 1484 141ZM1469 182 1488 179 1488 163 1486 161 1469 171 1467 178ZM1728 175 1725 185 1749 188 1754 163 1749 161ZM1541 261 1547 264 1567 256 1571 247 1565 242 1549 246ZM1535 317 1532 332 1535 340 1544 343 1557 336 1562 327 1561 313 1553 310 1547 296 1536 290 1530 298 1529 310ZM1521 310 1512 300 1497 301 1495 301 1495 304 1509 319ZM1606 322 1610 312 1606 307 1584 316 1587 330 1598 330ZM1518 390 1517 402 1539 409 1534 395ZM1668 443 1684 444 1686 429 1676 421 1671 420ZM1615 474 1627 458 1625 456 1604 451 1597 456 1595 467 1597 472 1606 479ZM1696 478 1696 462 1687 458 1674 471 1676 475 1691 480ZM1644 504 1632 493 1616 500 1619 511 1638 523 1641 521 1643 517ZM1668 573 1675 582 1694 573 1694 572 1689 559 1688 558 1671 562ZM1607 644 1604 663 1605 665 1637 657 1636 631 1630 628ZM1816 658 1803 652 1797 638 1787 634 1774 640 1790 663 1790 671 1796 680 1800 682 1813 675ZM1684 668 1671 661 1661 667 1670 685 1684 682ZM1757 760 1756 751 1746 746 1738 750 1733 769 1733 770 1743 775ZM1635 807 1613 817 1637 831 1644 826 1639 808ZM1717 947 1731 943 1728 917 1724 915 1708 931 1715 947ZM1554 999 1562 1005 1572 994 1571 985 1564 982 1552 986 1533 979 1531 982 1539 1001ZM1563 1035 1565 1034 1569 1023 1562 1013 1545 1015 1545 1029ZM1485 1045 1483 1034 1477 1032 1482 1016 1471 1013 1457 1025 1459 1033 1461 1035 1463 1043 1474 1057ZM1671 1070 1668 1074 1706 1074 1706 1074 1677 1067ZM2077 30 2050 30 2050 37 2052 40 2071 44ZM2106 42 2105 30 2096 30 2088 48 2098 53ZM2153 69 2155 50 2135 52 2140 66ZM2056 66 2050 47 2043 53 2040 68 2043 75 2045 75ZM1887 87 1879 91 1856 75 1847 83 1869 107 1870 106 1895 110 1896 109 1894 91ZM2107 107 2108 108 2131 114 2142 106 2139 91 2131 87 2111 96ZM2045 167 2044 185 2054 195 2067 185 2056 167ZM1902 242 1908 223 1908 222 1884 231 1892 243ZM2106 251 2112 255 2112 255 2121 237 2121 236 2107 220 2094 234ZM2102 310 2115 313 2116 312 2121 298 2111 291 2097 296 2096 301ZM1900 329 1900 330 1911 343 1924 337 1926 326 1936 315 1931 309 1919 303 1917 304 1912 323ZM2018 347 2024 352 2043 345 2042 336 2039 333 2028 333ZM2069 394 2077 379 2071 370 2069 370 2052 378 2049 384 2058 394ZM2005 410 2027 395 2027 390 2009 385 1999 389 2003 410ZM2152 413 2164 410 2164 394 2152 392 2150 409ZM1981 404 1973 409 1963 425 1968 432 1979 435 1988 434 1995 412ZM1847 424 1841 422 1837 423 1830 438 1832 449 1840 444 1847 427 1857 440 1869 431 1863 419 1856 419ZM2143 434 2142 426 2125 421 2125 422 2120 430 2126 441 2126 441ZM1860 452 1855 462 1875 476 1882 469 1874 451ZM1923 527 1937 522 1940 516 1936 505 1927 501 1917 502 1917 502ZM2095 534 2107 527 2112 513 2110 511 2108 510 2084 521 2085 525ZM1804 533 1801 535 1794 544 1805 558 1815 560 1813 537ZM1904 592 1892 605 1895 612 1921 607 1914 596ZM1975 602 1980 613 1995 614 1996 605 1985 596 1977 598ZM2137 625 2138 627 2148 631 2159 622 2157 609 2152 607 2138 613Z"/><path fill="#dcf" stroke="#dcf" d="M1166 95 1170 72 1154 76 1151 79ZM1135 103 1140 100 1144 82 1138 77 1121 84 1121 89ZM1283 136 1278 113 1254 121 1254 121 1265 135 1280 139ZM1353 159 1354 157 1332 153 1331 154 1329 170 1340 170ZM1369 176 1380 178 1389 170 1368 154ZM1214 217 1204 193 1194 191 1192 192 1189 196 1188 226ZM1516 286 1510 285 1497 301 1512 300 1518 294ZM1184 337 1169 318 1160 324 1166 335ZM1307 338 1311 354 1322 351 1329 342 1328 333 1309 334ZM1205 410 1200 415 1206 429 1233 422 1233 416ZM1305 496 1325 484 1325 484 1312 467 1301 470 1300 473ZM1131 537 1138 529 1139 524 1123 509 1121 510 1121 534ZM1471 561 1485 569 1489 569 1490 545 1482 533ZM1174 679 1170 677 1153 679 1151 686 1152 688 1170 693ZM1256 748 1256 746 1244 731 1232 750 1233 760 1235 762 1238 762 1251 755ZM1312 827 1314 825 1318 810 1308 803 1303 806 1299 822 1300 825ZM1248 857 1256 867 1273 855 1270 850 1258 849ZM1361 979 1369 972 1373 960 1358 955 1355 956 1350 975ZM1272 1008 1286 998 1287 981 1282 979 1261 995 1259 998ZM1355 1056 1363 1052 1365 1027 1344 1039 1344 1042ZM1618 69 1608 88 1608 89 1612 91 1627 90 1634 75ZM1846 125 1845 127 1853 147 1856 148 1870 132 1866 119ZM1580 137 1564 148 1565 151 1586 156ZM1787 201 1783 196 1780 196 1766 217 1776 228 1789 226ZM1727 249 1727 250 1726 262 1744 277 1755 273 1744 250 1751 235 1749 230 1731 225 1723 231 1721 234ZM1847 245 1845 243 1827 241 1826 253 1832 261 1842 265ZM1859 272 1863 285 1881 289 1887 278 1876 269 1862 270ZM1616 312 1633 302 1621 287 1604 300 1606 307 1610 312ZM1626 356 1604 370 1604 371 1605 377 1626 386 1629 358 1628 356ZM1775 425 1780 412 1773 396 1765 391 1751 407 1771 427ZM1552 508 1557 496 1568 499 1577 490 1575 485 1554 487 1549 483 1547 483 1540 502 1545 512ZM1862 545 1850 536 1838 539 1837 546 1850 560 1864 558ZM1771 608 1785 608 1790 594 1774 591 1769 607ZM1593 722 1593 722 1584 720 1565 733 1562 744 1574 755 1581 754ZM1539 821 1532 843 1533 844 1540 846 1558 840 1543 819 1541 819ZM1570 850 1563 848 1559 860 1572 874 1578 870ZM1583 921 1571 919 1566 933 1585 946 1588 946 1588 926ZM1519 1067 1513 1064 1504 1074 1521 1074ZM1890 65 1904 68 1913 63 1918 50 1917 48 1907 46 1888 60ZM1996 138 2008 143 2020 130 2009 116 1997 133ZM1889 177 1900 153 1895 145 1889 144 1880 154ZM1981 202 1983 185 1969 185 1969 201ZM2140 307 2125 318 2129 325 2163 322 2164 321 2164 316ZM1991 388 1976 377 1972 389 1981 402ZM1991 435 2017 428 2020 430 2034 409 2034 408 2027 395 2005 410 2003 410 1995 412 1988 434ZM1897 442 1880 443 1874 451 1882 469 1892 469 1894 467 1900 446ZM2101 480 2120 483 2131 470 2121 460 2096 472ZM1921 472 1910 488 1917 502 1927 501 1935 482ZM1884 517 1892 509 1893 492 1876 491 1874 503 1878 511ZM2085 525 2084 521 2076 514 2069 517 2064 538 2073 541ZM2055 570 2076 581 2085 561 2051 560ZM1941 595 1942 587 1937 577 1925 572 1919 573 1919 573 1901 579 1904 592 1914 596 1920 577 1936 600ZM1903 638 1893 620 1876 633 1892 651ZM1904 638 1927 659 1929 659 1934 648 1923 636 1905 637ZM2143 662 2145 668 2164 669 2164 651 2153 647ZM2024 674 2027 681 2036 684 2040 684 2050 672 2032 657 2027 658Z"/></g></g>
<rect x="1738.5" y="687.7" width="424.5" height="381" fill="#fff"/>
<g font-family="Liberation Sans, Arial, sans-serif" fill="#111" font-size="25"><text x="2089.5" y="711" text-anchor="middle">111</text><text x="1742" y="1067" textLength="35" lengthAdjust="spacingAndGlyphs">001</text><text x="2124" y="1067" textLength="35" lengthAdjust="spacingAndGlyphs">101</text></g>
<rect x="78.2" y="1003.8" width="309.2" height="55" fill="#fff"/><rect x="83.8" y="1040.6" width="296.4" height="12.3" fill="#000"/><text x="232.8" y="1031.5" text-anchor="middle" font-size="23.5" fill="#111" font-family="Liberation Sans, Arial, sans-serif">100 um</text><rect x="1136.5" y="1004.9" width="308.8" height="53.7" fill="#fff"/><rect x="1142.3" y="1041.6" width="296.8" height="11.8" fill="#000"/><text x="1291.5" y="1031.5" text-anchor="middle" font-size="23.5" fill="#111" font-family="Liberation Sans, Arial, sans-serif">100 um</text><g font-family="Liberation Serif, Times New Roman, serif" font-weight="bold" font-size="77.5" fill="#000" stroke="#fff" stroke-width="3.6" stroke-linejoin="round" paint-order="stroke fill"><text x="75" y="103.5">(a)</text><text x="1161" y="102.5">(b)</text></g><g font-family="Liberation Sans, Arial, sans-serif" fill="#000" stroke="#fff" stroke-width="3.6" stroke-linejoin="round" paint-order="stroke fill"><text x="1089.5" y="101.8" text-anchor="end" font-size="69">SLM-HT</text><text x="2128" y="101.8" text-anchor="end" font-size="67.5">Wrought</text></g>
<g font-family="Liberation Sans, Arial, sans-serif" fill="#111"><path d="M207 1798.5h12M207 1749.5h6M207 1700.5h12M207 1651.5h6M207 1602.5h12M207 1553.5h6M207 1504.5h12M207 1455.5h6M207 1406.5h12M207 1357.5h6M207 1308.5h12M207 1259.5h6M207 1210.5h12M207 1161.5h6M207 1112.5h12M207.0 1798.5v-10M275.8 1798.5v-6M344.5 1798.5v-10M413.2 1798.5v-6M482.0 1798.5v-10M550.8 1798.5v-6M619.5 1798.5v-10M688.2 1798.5v-6M757.0 1798.5v-10M825.8 1798.5v-6M894.5 1798.5v-10M963.2 1798.5v-6M1032.0 1798.5v-10M1100.8 1798.5v-6" stroke="#111" stroke-width="2.8" fill="none"/><rect x="212.1" y="1703.9" width="17.4" height="94.6" fill="#fe0000" stroke="#000" stroke-width="2.2"/><rect x="256.9" y="1472.3" width="17.4" height="326.2" fill="#fe0000" stroke="#000" stroke-width="2.2"/><rect x="301.6" y="1574.5" width="17.4" height="224.0" fill="#fe0000" stroke="#000" stroke-width="2.2"/><rect x="346.4" y="1668.3" width="17.4" height="130.2" fill="#fe0000" stroke="#000" stroke-width="2.2"/><rect x="391.1" y="1734.1" width="17.4" height="64.4" fill="#fe0000" stroke="#000" stroke-width="2.2"/><rect x="435.9" y="1760.4" width="17.4" height="38.1" fill="#fe0000" stroke="#000" stroke-width="2.2"/><rect x="480.7" y="1772.2" width="17.4" height="26.3" fill="#fe0000" stroke="#000" stroke-width="2.2"/><rect x="525.4" y="1778.2" width="17.4" height="20.3" fill="#fe0000" stroke="#000" stroke-width="2.2"/><rect x="570.2" y="1781.3" width="17.4" height="17.2" fill="#fe0000" stroke="#000" stroke-width="2.2"/><rect x="614.9" y="1794.7" width="17.4" height="3.8" fill="#fe0000" stroke="#000" stroke-width="2.2"/><rect x="659.7" y="1792.8" width="17.4" height="5.7" fill="#fe0000" stroke="#000" stroke-width="2.2"/><rect x="704.5" y="1793.7" width="17.4" height="4.8" fill="#fe0000" stroke="#000" stroke-width="2.2"/><rect x="749.2" y="1795.7" width="17.4" height="2.8" fill="#fe0000" stroke="#000" stroke-width="2.2"/><rect x="794.0" y="1793.7" width="17.4" height="4.8" fill="#fe0000" stroke="#000" stroke-width="2.2"/><rect x="883.5" y="1797.6" width="17.4" height="0.9" fill="#fe0000" stroke="#000" stroke-width="2.2"/><rect x="928.3" y="1797.6" width="17.4" height="0.9" fill="#fe0000" stroke="#000" stroke-width="2.2"/><rect x="1062.5" y="1797.6" width="17.4" height="0.9" fill="#fe0000" stroke="#000" stroke-width="2.2"/><rect x="229.5" y="1682.0" width="17.4" height="116.5" fill="#0000fe" stroke="#000" stroke-width="2.2"/><rect x="274.3" y="1193.0" width="17.4" height="605.5" fill="#0000fe" stroke="#000" stroke-width="2.2"/><rect x="319.0" y="1599.2" width="17.4" height="199.3" fill="#0000fe" stroke="#000" stroke-width="2.2"/><rect x="363.8" y="1752.3" width="17.4" height="46.2" fill="#0000fe" stroke="#000" stroke-width="2.2"/><rect x="408.5" y="1793.3" width="17.4" height="5.2" fill="#0000fe" stroke="#000" stroke-width="2.2"/><rect x="207" y="1112.5" width="894.5" height="686.0" fill="none" stroke="#111" stroke-width="3.4"/><text x="193.5" y="1809.1" text-anchor="end" font-size="37.3">0.0</text><text x="193.5" y="1711.1" text-anchor="end" font-size="37.3">0.1</text><text x="193.5" y="1613.1" text-anchor="end" font-size="37.3">0.2</text><text x="193.5" y="1515.1" text-anchor="end" font-size="37.3">0.3</text><text x="193.5" y="1417.1" text-anchor="end" font-size="37.3">0.4</text><text x="193.5" y="1319.1" text-anchor="end" font-size="37.3">0.5</text><text x="193.5" y="1221.1" text-anchor="end" font-size="37.3">0.6</text><text x="193.5" y="1123.1" text-anchor="end" font-size="37.3">0.7</text><text x="205.8" y="1836.9" text-anchor="middle" font-size="37.3">0</text><text x="343.3" y="1836.9" text-anchor="middle" font-size="37.3">10</text><text x="480.8" y="1836.9" text-anchor="middle" font-size="37.3">20</text><text x="618.3" y="1836.9" text-anchor="middle" font-size="37.3">30</text><text x="755.8" y="1836.9" text-anchor="middle" font-size="37.3">40</text><text x="893.3" y="1836.9" text-anchor="middle" font-size="37.3">50</text><text x="1030.8" y="1836.9" text-anchor="middle" font-size="37.3">60</text></g>
<g font-family="Liberation Sans, Arial, sans-serif" fill="#111"><path d="M1253 1798.5h12M1253 1712.8h6M1253 1627.0h12M1253 1541.2h6M1253 1455.5h12M1253 1369.8h6M1253 1284.0h12M1253 1198.2h6M1253 1112.5h12M1253.0 1798.5v-10M1321.8 1798.5v-6M1390.5 1798.5v-10M1459.2 1798.5v-6M1528.0 1798.5v-10M1596.8 1798.5v-6M1665.5 1798.5v-10M1734.2 1798.5v-6M1803.0 1798.5v-10M1871.8 1798.5v-6M1940.5 1798.5v-10M2009.2 1798.5v-6M2078.0 1798.5v-10M2146.8 1798.5v-6" stroke="#111" stroke-width="2.8" fill="none"/><rect x="1289.3" y="1254.4" width="13.5" height="544.1" fill="#fe0000" stroke="#000" stroke-width="2.2"/><rect x="1332.7" y="1715.4" width="13.5" height="83.1" fill="#fe0000" stroke="#000" stroke-width="2.2"/><rect x="1376.1" y="1741.8" width="13.5" height="56.7" fill="#fe0000" stroke="#000" stroke-width="2.2"/><rect x="1419.4" y="1745.3" width="13.5" height="53.2" fill="#fe0000" stroke="#000" stroke-width="2.2"/><rect x="1462.8" y="1751.3" width="13.5" height="47.2" fill="#fe0000" stroke="#000" stroke-width="2.2"/><rect x="1506.2" y="1737.5" width="13.5" height="61.0" fill="#fe0000" stroke="#000" stroke-width="2.2"/><rect x="1549.6" y="1726.7" width="13.5" height="71.8" fill="#fe0000" stroke="#000" stroke-width="2.2"/><rect x="1593.0" y="1733.1" width="13.5" height="65.4" fill="#fe0000" stroke="#000" stroke-width="2.2"/><rect x="1636.3" y="1735.7" width="13.5" height="62.8" fill="#fe0000" stroke="#000" stroke-width="2.2"/><rect x="1679.7" y="1724.7" width="13.5" height="73.8" fill="#fe0000" stroke="#000" stroke-width="2.2"/><rect x="1723.1" y="1730.5" width="13.5" height="68.0" fill="#fe0000" stroke="#000" stroke-width="2.2"/><rect x="1766.5" y="1703.2" width="13.5" height="95.3" fill="#fe0000" stroke="#000" stroke-width="2.2"/><rect x="1809.9" y="1703.2" width="13.5" height="95.3" fill="#fe0000" stroke="#000" stroke-width="2.2"/><rect x="1853.2" y="1700.7" width="13.5" height="97.8" fill="#fe0000" stroke="#000" stroke-width="2.2"/><rect x="1896.6" y="1715.1" width="13.5" height="83.4" fill="#fe0000" stroke="#000" stroke-width="2.2"/><rect x="1940.0" y="1738.2" width="13.5" height="60.3" fill="#fe0000" stroke="#000" stroke-width="2.2"/><rect x="1983.4" y="1748.7" width="13.5" height="49.8" fill="#fe0000" stroke="#000" stroke-width="2.2"/><rect x="2026.8" y="1761.9" width="13.5" height="36.6" fill="#fe0000" stroke="#000" stroke-width="2.2"/><rect x="2070.1" y="1777.3" width="13.5" height="21.2" fill="#fe0000" stroke="#000" stroke-width="2.2"/><rect x="1302.8" y="1700.3" width="12.7" height="98.2" fill="#0000fe" stroke="#000" stroke-width="2.2"/><rect x="1346.2" y="1788.1" width="12.7" height="10.4" fill="#0000fe" stroke="#000" stroke-width="2.2"/><rect x="1389.6" y="1784.7" width="12.7" height="13.8" fill="#0000fe" stroke="#000" stroke-width="2.2"/><rect x="1432.9" y="1780.9" width="12.7" height="17.6" fill="#0000fe" stroke="#000" stroke-width="2.2"/><rect x="1476.3" y="1777.7" width="12.7" height="20.8" fill="#0000fe" stroke="#000" stroke-width="2.2"/><rect x="1519.7" y="1771.7" width="12.7" height="26.8" fill="#0000fe" stroke="#000" stroke-width="2.2"/><rect x="1563.1" y="1758.3" width="12.7" height="40.2" fill="#0000fe" stroke="#000" stroke-width="2.2"/><rect x="1606.5" y="1756.6" width="12.7" height="41.9" fill="#0000fe" stroke="#000" stroke-width="2.2"/><rect x="1649.8" y="1743.7" width="12.7" height="54.8" fill="#0000fe" stroke="#000" stroke-width="2.2"/><rect x="1693.2" y="1725.5" width="12.7" height="73.0" fill="#0000fe" stroke="#000" stroke-width="2.2"/><rect x="1736.6" y="1707.0" width="12.7" height="91.5" fill="#0000fe" stroke="#000" stroke-width="2.2"/><rect x="1780.0" y="1680.8" width="12.7" height="117.7" fill="#0000fe" stroke="#000" stroke-width="2.2"/><rect x="1823.4" y="1678.7" width="12.7" height="119.8" fill="#0000fe" stroke="#000" stroke-width="2.2"/><rect x="1866.7" y="1673.2" width="12.7" height="125.3" fill="#0000fe" stroke="#000" stroke-width="2.2"/><rect x="1910.1" y="1684.6" width="12.7" height="113.9" fill="#0000fe" stroke="#000" stroke-width="2.2"/><rect x="1953.5" y="1695.0" width="12.7" height="103.5" fill="#0000fe" stroke="#000" stroke-width="2.2"/><rect x="1996.9" y="1708.7" width="12.7" height="89.8" fill="#0000fe" stroke="#000" stroke-width="2.2"/><rect x="2040.3" y="1658.8" width="12.7" height="139.7" fill="#0000fe" stroke="#000" stroke-width="2.2"/><rect x="2083.6" y="1369.3" width="12.7" height="429.2" fill="#0000fe" stroke="#000" stroke-width="2.2"/><rect x="1253" y="1112.5" width="895.5" height="686.0" fill="none" stroke="#111" stroke-width="3.4"/><text x="1239.5" y="1809.1" text-anchor="end" font-size="37.3">0.0</text><text x="1239.5" y="1637.6" text-anchor="end" font-size="37.3">0.1</text><text x="1239.5" y="1466.1" text-anchor="end" font-size="37.3">0.2</text><text x="1239.5" y="1294.6" text-anchor="end" font-size="37.3">0.3</text><text x="1239.5" y="1123.1" text-anchor="end" font-size="37.3">0.4</text><text x="1251.8" y="1836.9" text-anchor="middle" font-size="37.3">0</text><text x="1389.3" y="1836.9" text-anchor="middle" font-size="37.3">10</text><text x="1526.8" y="1836.9" text-anchor="middle" font-size="37.3">20</text><text x="1664.3" y="1836.9" text-anchor="middle" font-size="37.3">30</text><text x="1801.8" y="1836.9" text-anchor="middle" font-size="37.3">40</text><text x="1939.3" y="1836.9" text-anchor="middle" font-size="37.3">50</text><text x="2076.8" y="1836.9" text-anchor="middle" font-size="37.3">60</text></g>
<g font-family="Liberation Sans, Arial, sans-serif" fill="#111"><text x="656" y="1885" text-anchor="middle" font-size="48">Grain size (µm)</text><text x="1700.5" y="1885" text-anchor="middle" font-size="48">Misorientation angle (°)</text><text transform="translate(117 1455) rotate(-90)" text-anchor="middle" font-size="49">Fraction</text><text transform="translate(1173 1455) rotate(-90)" text-anchor="middle" font-size="49">Fraction</text><text x="438.5" y="1166.0" font-size="34.4">Average grain size</text><text x="438.5" y="1207.2" font-size="34.4">SLM−HT: 9.8 µm</text><text x="438.5" y="1248.4" font-size="34.4">Wrought: 5.4 µm</text><text x="1409.5" y="1175.3" font-size="34">HAGB fraction(&gt;15°)</text><text x="1409.5" y="1216.9" font-size="34">SLM−HT: ~0.57</text><text x="1409.5" y="1258.5" font-size="34">Wrought: ~0.92</text><rect x="839.5" y="1139.5" width="83" height="38.5" fill="#fe0000" stroke="#000" stroke-width="2"/><rect x="839.5" y="1186.5" width="83" height="38.5" fill="#0000fe" stroke="#000" stroke-width="2"/><text x="937" y="1170.3" font-size="37.5">SLM−HT</text><text x="937" y="1218.8" font-size="37.5" textLength="147" lengthAdjust="spacingAndGlyphs">Wrought</text><rect x="1861.3" y="1148.5" width="83" height="39.7" fill="#fe0000" stroke="#000" stroke-width="2"/><rect x="1861.3" y="1197.0" width="83" height="39.7" fill="#0000fe" stroke="#000" stroke-width="2"/><text x="1958.5" y="1182.3" font-size="37.5">SLM−HT</text><text x="1958.5" y="1230.1" font-size="37.5" textLength="147" lengthAdjust="spacingAndGlyphs">Wrought</text></g>
<g font-family="Liberation Serif, Times New Roman, serif" font-weight="bold" fill="#000" font-size="67"><text x="67.5" y="1163">(c)</text><text x="1122.5" y="1177">(d)</text></g></svg>
<div id="ipf"><i style="background:linear-gradient(90deg,#0000ff,#0000ff,#0000ff,#0000ff,#0000ff,#0000ff,#0000ff,#0000ff,#0000ff,#0000ff,#0000ff,#0000ff,#0000ff,#0000ff,#0000ff,#0000ff,#0000ff,#0000ff,#0000ff,#0000ff,#0000ff,#0000ff,#0000ff,#0000ff,#0000ff,#0000ff,#0000ff,#0000ff,#0000ff,#0000ff,#0000ff,#0000ff,#0000ff,#0000ff,#0000ff,#0001ff,#0002ff,#0004ff,#0006ff,#0008ff,#000bff)"></i><i style="background:linear-gradient(90deg,#0000ff,#0000ff,#0000ff,#0000ff,#0000ff,#0000ff,#0000ff,#0000ff,#0000ff,#0000ff,#0000ff,#0000ff,#0000ff,#0000ff,#0000ff,#0000ff,#0000ff,#0000ff,#0000ff,#0000ff,#0000ff,#0000ff,#0000ff,#0000ff,#0000ff,#0000ff,#0000ff,#0000ff,#0000ff,#0000ff,#0000ff,#0000ff,#0000ff,#0000ff,#0000ff,#0001ff,#0003ff,#0004ff,#0007ff,#0009ff,#000cff)"></i><i style="background:linear-gradient(90deg,#0100ff,#0100ff,#0100ff,#0100ff,#0100ff,#0100ff,#0100ff,#0100ff,#0100ff,#0100ff,#0100ff,#0100ff,#0100ff,#0100ff,#0100ff,#0100ff,#0100ff,#0100ff,#0100ff,#0100ff,#0100ff,#0100ff,#0100ff,#0100ff,#0100ff,#0100ff,#0100ff,#0100ff,#0100ff,#0100ff,#0100ff,#0100ff,#0100ff,#0000ff,#0001ff,#0002ff,#0003ff,#0005ff,#0008ff,#000bff,#000eff)"></i><i style="background:linear-gradient(90deg,#0100ff,#0100ff,#0100ff,#0100ff,#0100ff,#0100ff,#0100ff,#0100ff,#0100ff,#0100ff,#0100ff,#0100ff,#0100ff,#0100ff,#0100ff,#0100ff,#0100ff,#0100ff,#0100ff,#0100ff,#0100ff,#0100ff,#0100ff,#0100ff,#0100ff,#0100ff,#0100ff,#0100ff,#0100ff,#0100ff,#0100ff,#0100ff,#0100ff,#0100ff,#0001ff,#0002ff,#0004ff,#0006ff,#0009ff,#000cff,#000fff)"></i><i style="background:linear-gradient(90deg,#0200ff,#0200ff,#0200ff,#0200ff,#0200ff,#0200ff,#0200ff,#0200ff,#0200ff,#0200ff,#0200ff,#0200ff,#0200ff,#0200ff,#0200ff,#0200ff,#0200ff,#0200ff,#0200ff,#0200ff,#0200ff,#0200ff,#0200ff,#0200ff,#0200ff,#0200ff,#0200ff,#0200ff,#0200ff,#0200ff,#0200ff,#0200ff,#0200ff,#0100ff,#0002ff,#0003ff,#0005ff,#0008ff,#000aff,#000eff,#0011ff)"></i><i style="background:linear-gradient(90deg,#0300ff,#0300ff,#0300ff,#0300ff,#0300ff,#0300ff,#0300ff,#0300ff,#0300ff,#0300ff,#0300ff,#0300ff,#0300ff,#0300ff,#0300ff,#0300ff,#0300ff,#0300ff,#0300ff,#0300ff,#0300ff,#0300ff,#0300ff,#0300ff,#0300ff,#0300ff,#0300ff,#0300ff,#0300ff,#0300ff,#0300ff,#0300ff,#0200ff,#0101ff,#0002ff,#0004ff,#0006ff,#0009ff,#000cff,#000fff,#0013ff)"></i><i style="background:linear-gradient(90deg,#0400ff,#0400ff,#0400ff,#0400ff,#0400ff,#0400ff,#0400ff,#0400ff,#0400ff,#0400ff,#0400ff,#0400ff,#0400ff,#0400ff,#0400ff,#0400ff,#0400ff,#0400ff,#0400ff,#0400ff,#0400ff,#0400ff,#0400ff,#0400ff,#0400ff,#0400ff,#0400ff,#0400ff,#0400ff,#0400ff,#0400ff,#0400ff,#0300ff,#0101ff,#0003ff,#0005ff,#0007ff,#000aff,#000eff,#0011ff,#0015ff)"></i><i style="background:linear-gradient(90deg,#0600ff,#0600ff,#0600ff,#0600ff,#0600ff,#0600ff,#0600ff,#0600ff,#0600ff,#0600ff,#0600ff,#0600ff,#0600ff,#0600ff,#0600ff,#0600ff,#0600ff,#0600ff,#0600ff,#0600ff,#0600ff,#0600ff,#0600ff,#0600ff,#0600ff,#0600ff,#0600ff,#0600ff,#0600ff,#0600ff,#0600ff,#0500ff,#0301ff,#0102ff,#0004ff,#0006ff,#0009ff,#000cff,#000fff,#0013ff,#0017ff)"></i><i style="background:linear-gradient(90deg,#0800ff,#0800ff,#0800ff,#0800ff,#0800ff,#0800ff,#0800ff,#0800ff,#0800ff,#0800ff,#0800ff,#0800ff,#0800ff,#0800ff,#0800ff,#0800ff,#0800ff,#0800ff,#0800ff,#0800ff,#0800ff,#0800ff,#0800ff,#0800ff,#0800ff,#0800ff,#0800ff,#0800ff,#0800ff,#0800ff,#0800ff,#0600ff,#0301ff,#0203ff,#0005ff,#0007ff,#000aff,#000eff,#0011ff,#0015ff,#001aff)"></i><i style="background:linear-gradient(90deg,#0a00ff,#0a00ff,#0a00ff,#0a00ff,#0a00ff,#0a00ff,#0a00ff,#0a00ff,#0a00ff,#0a00ff,#0a00ff,#0a00ff,#0a00ff,#0a00ff,#0a00ff,#0a00ff,#0a00ff,#0a00ff,#0a00ff,#0a00ff,#0a00ff,#0a00ff,#0a00ff,#0a00ff,#0a00ff,#0a00ff,#0a00ff,#0a00ff,#0a00ff,#0a00ff,#0900ff,#0601ff,#0402ff,#0204ff,#0006ff,#0009ff,#000cff,#000fff,#0013ff,#0018ff,#001cff)"></i><i style="background:linear-gradient(90deg,#0c00ff,#0c00ff,#0c00ff,#0c00ff,#0c00ff,#0c00ff,#0c00ff,#0c00ff,#0c00ff,#0c00ff,#0c00ff,#0c00ff,#0c00ff,#0c00ff,#0c00ff,#0c00ff,#0c00ff,#0c00ff,#0c00ff,#0c00ff,#0c00ff,#0c00ff,#0c00ff,#0c00ff,#0c00ff,#0c00ff,#0c00ff,#0c00ff,#0c00ff,#0c00ff,#0a00ff,#0701ff,#0403ff,#0205ff,#0107ff,#000aff,#000eff,#0011ff,#0016ff,#001aff,#001fff)"></i><i style="background:linear-gradient(90deg,#0e00ff,#0e00ff,#0e00ff,#0e00ff,#0e00ff,#0e00ff,#0e00ff,#0e00ff,#0e00ff,#0e00ff,#0e00ff,#0e00ff,#0e00ff,#0e00ff,#0e00ff,#0e00ff,#0e00ff,#0e00ff,#0e00ff,#0e00ff,#0e00ff,#0e00ff,#0e00ff,#0e00ff,#0e00ff,#0e00ff,#0e00ff,#0e00ff,#0e00ff,#0e00ff,#0b00ff,#0802ff,#0503ff,#0206ff,#0108ff,#000cff,#000fff,#0013ff,#0018ff,#001dff,#0022ff)"></i><i style="background:linear-gradient(90deg,#1100ff,#1100ff,#1100ff,#1100ff,#1100ff,#1100ff,#1100ff,#1100ff,#1100ff,#1100ff,#1100ff,#1100ff,#1100ff,#1100ff,#1100ff,#1100ff,#1100ff,#1100ff,#1100ff,#1100ff,#1100ff,#1100ff,#1100ff,#1100ff,#1100ff,#1100ff,#1100ff,#1100ff,#1100ff,#1000ff,#0c01ff,#0802ff,#0504ff,#0307ff,#010aff,#000dff,#0011ff,#0016ff,#001aff,#001fff,#0025ff)"></i><i style="background:linear-gradient(90deg,#1300ff,#1300ff,#1300ff,#1300ff,#1300ff,#1300ff,#1300ff,#1300ff,#1300ff,#1300ff,#1300ff,#1300ff,#1300ff,#1300ff,#1300ff,#1300ff,#1300ff,#1300ff,#1300ff,#1300ff,#1300ff,#1300ff,#1300ff,#1300ff,#1300ff,#1300ff,#1300ff,#1300ff,#1300ff,#1100ff,#0c01ff,#0903ff,#0605ff,#0308ff,#010cff,#000fff,#0014ff,#0018ff,#001dff,#0022ff,#0028ff)"></i><i style="background:linear-gradient(90deg,#1600ff,#1600ff,#1600ff,#1600ff,#1600ff,#1600ff,#1600ff,#1600ff,#1600ff,#1600ff,#1600ff,#1600ff,#1600ff,#1600ff,#1600ff,#1600ff,#1600ff,#1600ff,#1600ff,#1600ff,#1600ff,#1600ff,#1600ff,#1600ff,#1600ff,#1600ff,#1600ff,#1600ff,#1600ff,#1101ff,#0d02ff,#0904ff,#0607ff,#030aff,#010dff,#0011ff,#0016ff,#001bff,#0020ff,#0026ff,#002cff)"></i><i style="background:linear-gradient(90deg,#1a00ff,#1a00ff,#1a00ff,#1a00ff,#1a00ff,#1a00ff,#1a00ff,#1a00ff,#1a00ff,#1a00ff,#1a00ff,#1a00ff,#1a00ff,#1a00ff,#1a00ff,#1a00ff,#1a00ff,#1a00ff,#1a00ff,#1a00ff,#1a00ff,#1a00ff,#1a00ff,#1a00ff,#1a00ff,#1a00ff,#1a00ff,#1a00ff,#1700ff,#1301ff,#0e03ff,#0a05ff,#0708ff,#040cff,#020fff,#0014ff,#0018ff,#001eff,#0023ff,#0029ff,#002fff)"></i><i style="background:linear-gradient(90deg,#1d00ff,#1d00ff,#1d00ff,#1d00ff,#1d00ff,#1d00ff,#1d00ff,#1d00ff,#1d00ff,#1d00ff,#1d00ff,#1d00ff,#1d00ff,#1d00ff,#1d00ff,#1d00ff,#1d00ff,#1d00ff,#1d00ff,#1d00ff,#1d00ff,#1d00ff,#1d00ff,#1d00ff,#1d00ff,#1d00ff,#1d00ff,#1d00ff,#1900ff,#1402ff,#0f04ff,#0b07ff,#070aff,#040dff,#0212ff,#0016ff,#001bff,#0021ff,#0027ff,#002dff,#0033ff)"></i><i style="background:linear-gradient(90deg,#2100ff,#2100ff,#2100ff,#2100ff,#2100ff,#2100ff,#2100ff,#2100ff,#2100ff,#2100ff,#2100ff,#2100ff,#2100ff,#2100ff,#2100ff,#2100ff,#2100ff,#2100ff,#2100ff,#2100ff,#2100ff,#2100ff,#2100ff,#2100ff,#2100ff,#2100ff,#2100ff,#2000ff,#1a01ff,#1503ff,#1005ff,#0c08ff,#080bff,#050fff,#0214ff,#0119ff,#001eff,#0024ff,#002aff,#0031ff,#0038ff)"></i><i style="background:linear-gradient(90deg,#2500ff,#2500ff,#2500ff,#2500ff,#2500ff,#2500ff,#2500ff,#2500ff,#2500ff,#2500ff,#2500ff,#2500ff,#2500ff,#2500ff,#2500ff,#2500ff,#2500ff,#2500ff,#2500ff,#2500ff,#2500ff,#2500ff,#2500ff,#2500ff,#2500ff,#2500ff,#2500ff,#2100ff,#1b02ff,#1604ff,#1106ff,#0c0aff,#090dff,#0512ff,#0316ff,#011cff,#0021ff,#0027ff,#002eff,#0035ff,#003cff)"></i><i style="background:linear-gradient(90deg,#2a00ff,#2a00ff,#2a00ff,#2a00ff,#2a00ff,#2a00ff,#2a00ff,#2a00ff,#2a00ff,#2a00ff,#2a00ff,#2a00ff,#2a00ff,#2a00ff,#2a00ff,#2a00ff,#2a00ff,#2a00ff,#2a00ff,#2a00ff,#2a00ff,#2a00ff,#2a00ff,#2a00ff,#2a00ff,#2a00ff,#2900ff,#2301ff,#1d02ff,#1705ff,#1208ff,#0d0bff,#090fff,#0614ff,#0319ff,#011fff,#0025ff,#002bff,#0032ff,#0039ff,#0041ff)"></i><i style="background:linear-gradient(90deg,#2f00ff,#2f00ff,#2f00ff,#2f00ff,#2f00ff,#2f00ff,#2f00ff,#2f00ff,#2f00ff,#2f00ff,#2f00ff,#2f00ff,#2f00ff,#2f00ff,#2f00ff,#2f00ff,#2f00ff,#2f00ff,#2f00ff,#2f00ff,#2f00ff,#2f00ff,#2f00ff,#2f00ff,#2f00ff,#2f00ff,#2b00ff,#2401ff,#1e03ff,#1806ff,#1309ff,#0e0dff,#0a12ff,#0617ff,#031cff,#0122ff,#0028ff,#002fff,#0036ff,#003eff,#0046ff)"></i><i style="background:linear-gradient(90deg,#3400ff,#3400ff,#3400ff,#3400ff,#3400ff,#3400ff,#3400ff,#3400ff,#3400ff,#3400ff,#3400ff,#3400ff,#3400ff,#3400ff,#3400ff,#3400ff,#3400ff,#3400ff,#3400ff,#3400ff,#3400ff,#3400ff,#3400ff,#3400ff,#3400ff,#3400ff,#2d01ff,#2602ff,#2005ff,#1a08ff,#140bff,#0f0fff,#0b14ff,#0719ff,#041fff,#0126ff,#002cff,#0033ff,#003bff,#0043ff,#004cff)"></i><i style="background:linear-gradient(90deg,#3900ff,#3900ff,#3900ff,#3900ff,#3900ff,#3900ff,#3900ff,#3900ff,#3900ff,#3900ff,#3900ff,#3900ff,#3900ff,#3900ff,#3900ff,#3900ff,#3900ff,#3900ff,#3900ff,#3900ff,#3900ff,#3900ff,#3900ff,#3900ff,#3900ff,#3700ff,#2f01ff,#2803ff,#2106ff,#1b09ff,#150dff,#1012ff,#0b17ff,#071dff,#0423ff,#0229ff,#0030ff,#0038ff,#0040ff,#0048ff,#0051ff)"></i><i style="background:linear-gradient(90deg,#3f00ff,#3f00ff,#3f00ff,#3f00ff,#3f00ff,#3f00ff,#3f00ff,#3f00ff,#3f00ff,#3f00ff,#3f00ff,#3f00ff,#3f00ff,#3f00ff,#3f00ff,#3f00ff,#3f00ff,#3f00ff,#3f00ff,#3f00ff,#3f00ff,#3f00ff,#3f00ff,#3f00ff,#3f00ff,#3900ff,#3102ff,#2a04ff,#2307ff,#1d0bff,#170fff,#1114ff,#0c1aff,#0820ff,#0426ff,#022dff,#0035ff,#003dff,#0045ff,#004eff,#0057ff)"></i><i style="background:linear-gradient(90deg,#4500ff,#4500ff,#4500ff,#4500ff,#4500ff,#4500ff,#4500ff,#4500ff,#4500ff,#4500ff,#4500ff,#4500ff,#4500ff,#4500ff,#4500ff,#4500ff,#4500ff,#4500ff,#4500ff,#4500ff,#4500ff,#4500ff,#4500ff,#4500ff,#4400ff,#3c01ff,#3403ff,#2c06ff,#2509ff,#1e0dff,#1812ff,#1217ff,#0d1dff,#0924ff,#052aff,#0232ff,#003aff,#0042ff,#004bff,#0054ff,#005eff)"></i><i style="background:linear-gradient(90deg,#4c00ff,#4c00ff,#4c00ff,#4c00ff,#4c00ff,#4c00ff,#4c00ff,#4c00ff,#4c00ff,#4c00ff,#4c00ff,#4c00ff,#4c00ff,#4c00ff,#4c00ff,#4c00ff,#4c00ff,#4c00ff,#4c00ff,#4c00ff,#4c00ff,#4c00ff,#4c00ff,#4c00ff,#4700ff,#3f02ff,#3604ff,#2e07ff,#270bff,#200fff,#1915ff,#131aff,#0e21ff,#0927ff,#052fff,#0237ff,#003fff,#0048ff,#0051ff,#005bff,#0065ff)"></i><i style="background:linear-gradient(90deg,#5300ff,#5300ff,#5300ff,#5300ff,#5300ff,#5300ff,#5300ff,#5300ff,#5300ff,#5300ff,#5300ff,#5300ff,#5300ff,#5300ff,#5300ff,#5300ff,#5300ff,#5300ff,#5300ff,#5300ff,#5300ff,#5300ff,#5300ff,#5300ff,#4a01ff,#4103ff,#3905ff,#3109ff,#290dff,#2212ff,#1b18ff,#151eff,#0f24ff,#0a2cff,#0633ff,#033cff,#0145ff,#004eff,#0058ff,#0062ff,#006dff)"></i><i style="background:linear-gradient(90deg,#5b00ff,#5b00ff,#5b00ff,#5b00ff,#5b00ff,#5b00ff,#5b00ff,#5b00ff,#5b00ff,#5b00ff,#5b00ff,#5b00ff,#5b00ff,#5b00ff,#5b00ff,#5b00ff,#5b00ff,#5b00ff,#5b00ff,#5b00ff,#5b00ff,#5b00ff,#5b00ff,#5700ff,#4e01ff,#4404ff,#3b07ff,#330bff,#2b0fff,#2315ff,#1c1bff,#1621ff,#1028ff,#0b30ff,#0738ff,#0341ff,#014bff,#0054ff,#005fff,#0069ff,#0075ff)"></i><i style="background:linear-gradient(90deg,#6300ff,#6300ff,#6300ff,#6300ff,#6300ff,#6300ff,#6300ff,#6300ff,#6300ff,#6300ff,#6300ff,#6300ff,#6300ff,#6300ff,#6300ff,#6300ff,#6300ff,#6300ff,#6300ff,#6300ff,#6300ff,#6300ff,#6300ff,#5b00ff,#5102ff,#4805ff,#3e09ff,#350dff,#2d12ff,#2518ff,#1e1eff,#1725ff,#112dff,#0c35ff,#073eff,#0447ff,#0151ff,#005bff,#0066ff,#0071ff,#007dff)"></i><i style="background:linear-gradient(90deg,#6c00ff,#6c00ff,#6c00ff,#6c00ff,#6c00ff,#6c00ff,#6c00ff,#6c00ff,#6c00ff,#6c00ff,#6c00ff,#6c00ff,#6c00ff,#6c00ff,#6c00ff,#6c00ff,#6c00ff,#6c00ff,#6c00ff,#6c00ff,#6c00ff,#6c00ff,#6a00ff,#5f01ff,#5503ff,#4b07ff,#410bff,#3810ff,#2f15ff,#271bff,#2022ff,#192aff,#1232ff,#0d3aff,#0844ff,#044dff,#0158ff,#0063ff,#006eff,#007aff,#0086ff)"></i><i style="background:linear-gradient(90deg,#7500ff,#7500ff,#7500ff,#7500ff,#7500ff,#7500ff,#7500ff,#7500ff,#7500ff,#7500ff,#7500ff,#7500ff,#7500ff,#7500ff,#7500ff,#7500ff,#7500ff,#7500ff,#7500ff,#7500ff,#7500ff,#7500ff,#6f00ff,#6302ff,#5905ff,#4e08ff,#440dff,#3b12ff,#3218ff,#291fff,#2126ff,#1a2eff,#1337ff,#0e40ff,#084aff,#0454ff,#015fff,#006bff,#0077ff,#0083ff,#0090ff)"></i><i style="background:linear-gradient(90deg,#7f00ff,#7f00ff,#7f00ff,#7f00ff,#7f00ff,#7f00ff,#7f00ff,#7f00ff,#7f00ff,#7f00ff,#7f00ff,#7f00ff,#7f00ff,#7f00ff,#7f00ff,#7f00ff,#7f00ff,#7f00ff,#7f00ff,#7f00ff,#7f00ff,#7f00ff,#7301ff,#6803ff,#5d06ff,#520bff,#4810ff,#3e15ff,#341cff,#2b23ff,#232bff,#1c33ff,#153dff,#0e46ff,#0951ff,#055cff,#0267ff,#0073ff,#0080ff,#008dff,#009aff)"></i><i style="background:linear-gradient(90deg,#8a00ff,#8a00ff,#8a00ff,#8a00ff,#8a00ff,#8a00ff,#8a00ff,#8a00ff,#8a00ff,#8a00ff,#8a00ff,#8a00ff,#8a00ff,#8a00ff,#8a00ff,#8a00ff,#8a00ff,#8a00ff,#8a00ff,#8a00ff,#8a00ff,#8500ff,#7902ff,#6d04ff,#6108ff,#560dff,#4b12ff,#4119ff,#3720ff,#2e27ff,#2530ff,#1d39ff,#1643ff,#104dff,#0a58ff,#0563ff,#0270ff,#007cff,#008aff,#0097ff,#00a6ff)"></i><i style="background:linear-gradient(90deg,#9500ff,#9500ff,#9500ff,#9500ff,#9500ff,#9500ff,#9500ff,#9500ff,#9500ff,#9500ff,#9500ff,#9500ff,#9500ff,#9500ff,#9500ff,#9500ff,#9500ff,#9500ff,#9500ff,#9500ff,#9500ff,#8b01ff,#7e03ff,#7206ff,#660aff,#5a10ff,#4f16ff,#441cff,#3a24ff,#302cff,#2735ff,#1f3fff,#1749ff,#1154ff,#0b60ff,#066cff,#0279ff,#0086ff,#0094ff,#00a3ff,#00b2ff)"></i><i style="background:linear-gradient(90deg,#a100ff,#a100ff,#a100ff,#a100ff,#a100ff,#a100ff,#a100ff,#a100ff,#a100ff,#a100ff,#a100ff,#a100ff,#a100ff,#a100ff,#a100ff,#a100ff,#a100ff,#a100ff,#a100ff,#a100ff,#9f00ff,#9101ff,#8404ff,#7708ff,#6a0dff,#5e13ff,#5319ff,#4721ff,#3d29ff,#3332ff,#293bff,#2145ff,#1950ff,#125cff,#0c68ff,#0775ff,#0383ff,#0091ff,#009fff,#00afff,#00beff)"></i><i style="background:linear-gradient(90deg,#af00ff,#af00ff,#af00ff,#af00ff,#af00ff,#af00ff,#af00ff,#af00ff,#af00ff,#af00ff,#af00ff,#af00ff,#af00ff,#af00ff,#af00ff,#af00ff,#af00ff,#af00ff,#af00ff,#af00ff,#a600ff,#9802ff,#8a06ff,#7c0aff,#6f10ff,#6316ff,#571dff,#4b25ff,#402eff,#3637ff,#2c42ff,#234dff,#1a58ff,#1364ff,#0d71ff,#077fff,#038dff,#009cff,#00acff,#00bcff,#00ccff)"></i><i style="background:linear-gradient(90deg,#bd00ff,#bd00ff,#bd00ff,#bd00ff,#bd00ff,#bd00ff,#bd00ff,#bd00ff,#bd00ff,#bd00ff,#bd00ff,#bd00ff,#bd00ff,#bd00ff,#bd00ff,#bd00ff,#bd00ff,#bd00ff,#bd00ff,#bd00ff,#ad01ff,#9f04ff,#9008ff,#820dff,#7513ff,#681aff,#5b21ff,#4f2aff,#4333ff,#383eff,#2e49ff,#2554ff,#1c61ff,#146eff,#0e7bff,#088aff,#0399ff,#01a8ff,#00b9ff,#00caff,#00dbff)"></i><i style="background:linear-gradient(90deg,#cc00ff,#cc00ff,#cc00ff,#cc00ff,#cc00ff,#cc00ff,#cc00ff,#cc00ff,#cc00ff,#cc00ff,#cc00ff,#cc00ff,#cc00ff,#cc00ff,#cc00ff,#cc00ff,#cc00ff,#cc00ff,#cc00ff,#c500ff,#b502ff,#a605ff,#970aff,#8810ff,#7a16ff,#6d1eff,#5f26ff,#532fff,#473aff,#3b44ff,#3150ff,#275cff,#1e6aff,#1677ff,#0f86ff,#0995ff,#04a5ff,#01b6ff,#00c7ff,#00d8ff,#00ebff)"></i><i style="background:linear-gradient(90deg,#dc00ff,#dc00ff,#dc00ff,#dc00ff,#dc00ff,#dc00ff,#dc00ff,#dc00ff,#dc00ff,#dc00ff,#dc00ff,#dc00ff,#dc00ff,#dc00ff,#dc00ff,#dc00ff,#dc00ff,#dc00ff,#dc00ff,#ce01ff,#be03ff,#ae07ff,#9e0dff,#8f13ff,#801aff,#7222ff,#642bff,#5735ff,#4b40ff,#3f4cff,#3458ff,#2966ff,#2073ff,#1782ff,#1092ff,#09a2ff,#04b2ff,#01c4ff,#00d6ff,#00e9ff,#00fcff)"></i><i style="background:linear-gradient(90deg,#ed00ff,#ed00ff,#ed00ff,#ed00ff,#ed00ff,#ed00ff,#ed00ff,#ed00ff,#ed00ff,#ed00ff,#ed00ff,#ed00ff,#ed00ff,#ed00ff,#ed00ff,#ed00ff,#ed00ff,#ed00ff,#e900ff,#d802ff,#c705ff,#b60aff,#a610ff,#9617ff,#871fff,#7827ff,#6931ff,#5c3cff,#4f48ff,#4254ff,#3761ff,#2c6fff,#227eff,#198eff,#119eff,#0aafff,#05c1ff,#01d3ff,#00e6ff,#00faff,#00fff0)"></i><i style="background:linear-gradient(90deg,#ff00fe,#ff00fe,#ff00fe,#ff00fe,#ff00fe,#ff00fe,#ff00fe,#ff00fe,#ff00fe,#ff00fe,#ff00fe,#ff00fe,#ff00fe,#ff00fe,#ff00fe,#ff00fe,#ff00fe,#ff00fe,#f401ff,#e203ff,#d007ff,#bf0cff,#ae13ff,#9d1bff,#8d23ff,#7e2dff,#6f38ff,#6143ff,#5350ff,#465dff,#3a6bff,#2e7aff,#248aff,#1a9aff,#12acff,#0bbeff,#05d0ff,#02e4ff,#00f8ff,#00fff2,#00ffe0)"></i><i style="background:linear-gradient(90deg,#ff00eb,#ff00eb,#ff00eb,#ff00eb,#ff00eb,#ff00eb,#ff00eb,#ff00eb,#ff00eb,#ff00eb,#ff00eb,#ff00eb,#ff00eb,#ff00eb,#ff00eb,#ff00eb,#ff00eb,#ff00eb,#ff01fe,#ed05ff,#db0aff,#c810ff,#b717ff,#a51fff,#9529ff,#8433ff,#753fff,#664bff,#5759ff,#4a67ff,#3d76ff,#3186ff,#2696ff,#1ca8ff,#13baff,#0ccdff,#06e1ff,#02f6ff,#00fff4,#00ffe1,#00ffd1)"></i><i style="background:linear-gradient(90deg,#ff00da,#ff00da,#ff00da,#ff00da,#ff00da,#ff00da,#ff00da,#ff00da,#ff00da,#ff00da,#ff00da,#ff00da,#ff00da,#ff00da,#ff00da,#ff00da,#ff00da,#ff00e1,#ff03f2,#f907ff,#e60cff,#d313ff,#c01bff,#ae25ff,#9c2fff,#8b3aff,#7b47ff,#6b54ff,#5c62ff,#4e71ff,#4182ff,#3492ff,#29a4ff,#1eb7ff,#15caff,#0ddeff,#07f3ff,#02fff5,#00ffe2,#00ffd1,#00ffc2)"></i><i style="background:linear-gradient(90deg,#ff00ca,#ff00ca,#ff00ca,#ff00ca,#ff00ca,#ff00ca,#ff00ca,#ff00ca,#ff00ca,#ff00ca,#ff00ca,#ff00ca,#ff00ca,#ff00ca,#ff00ca,#ff00ca,#ff00ca,#ff01d6,#ff04e6,#ff09f9,#f110ff,#dd17ff,#ca20ff,#b72bff,#a536ff,#9342ff,#824fff,#715eff,#616dff,#527dff,#448eff,#37a0ff,#2bb3ff,#20c7ff,#16dcff,#0ef1ff,#07fff7,#02ffe3,#00ffd2,#00ffc2,#00ffb5)"></i><i style="background:linear-gradient(90deg,#ff00bb,#ff00bb,#ff00bb,#ff00bb,#ff00bb,#ff00bb,#ff00bb,#ff00bb,#ff00bb,#ff00bb,#ff00bb,#ff00bb,#ff00bb,#ff00bb,#ff00bb,#ff00bb,#ff00be,#ff02cc,#ff06db,#ff0bec,#fe14ff,#e91cff,#d426ff,#c131ff,#ad3dff,#9b4bff,#8959ff,#7768ff,#6779ff,#578aff,#489cff,#3bafff,#2ec4ff,#22d9ff,#18eeff,#0ffff9,#07ffe4,#02ffd2,#00ffc2,#00ffb4,#00ffa8)"></i><i style="background:linear-gradient(90deg,#ff00ad,#ff00ad,#ff00ad,#ff00ad,#ff00ad,#ff00ad,#ff00ad,#ff00ad,#ff00ad,#ff00ad,#ff00ad,#ff00ad,#ff00ad,#ff00ad,#ff00ad,#ff00ad,#ff00b5,#ff03c2,#ff07d0,#ff0ee1,#ff17f3,#f521ff,#e02cff,#cb38ff,#b746ff,#a354ff,#9063ff,#7e74ff,#6d85ff,#5c98ff,#4dacff,#3ec0ff,#31d5ff,#25ecff,#1afffb,#0fffe6,#07ffd3,#03ffc3,#00ffb4,#00ffa7,#00ff9c)"></i><i style="background:linear-gradient(90deg,#ff00a0,#ff00a0,#ff00a0,#ff00a0,#ff00a0,#ff00a0,#ff00a0,#ff00a0,#ff00a0,#ff00a0,#ff00a0,#ff00a0,#ff00a0,#ff00a0,#ff00a0,#ff00a1,#ff01ac,#ff04b8,#ff09c6,#ff11d5,#ff1ae7,#ff27fc,#ec33ff,#d641ff,#c14fff,#ac5eff,#996fff,#8581ff,#7394ff,#62a7ff,#52bcff,#42d2ff,#34e9ff,#27fffd,#19ffe7,#0fffd4,#08ffc3,#03ffb4,#00ffa7,#00ff9b,#00ff91)"></i><i style="background:linear-gradient(90deg,#ff0095,#ff0095,#ff0095,#ff0095,#ff0095,#ff0095,#ff0095,#ff0095,#ff0095,#ff0095,#ff0095,#ff0095,#ff0095,#ff0095,#ff0095,#ff0099,#ff02a3,#ff06af,#ff0cbb,#ff13ca,#ff1edb,#ff2bee,#f93bff,#e24aff,#cc59ff,#b66aff,#a17cff,#8d8fff,#7aa3ff,#68b8ff,#57cfff,#47e6ff,#38feff,#26ffe8,#19ffd4,#0fffc3,#08ffb4,#03ffa6,#00ff9a,#00ff90,#00ff86)"></i><i style="background:linear-gradient(90deg,#ff0089,#ff0089,#ff0089,#ff0089,#ff0089,#ff0089,#ff0089,#ff0089,#ff0089,#ff0089,#ff0089,#ff0089,#ff0089,#ff0089,#ff0089,#ff0191,#ff039b,#ff08a5,#ff0eb2,#ff16bf,#ff22cf,#ff30e2,#ff42f7,#ef54ff,#d865ff,#c177ff,#ab8aff,#969fff,#82b4ff,#6ecbff,#5ce3ff,#4bfcff,#36ffea,#26ffd5,#19ffc3,#0fffb3,#08ffa6,#03ff9a,#00ff8f,#00ff85,#00ff7c)"></i><i style="background:linear-gradient(90deg,#ff007f,#ff007f,#ff007f,#ff007f,#ff007f,#ff007f,#ff007f,#ff007f,#ff007f,#ff007f,#ff007f,#ff007f,#ff007f,#ff007f,#ff0081,#ff0289,#ff0592,#ff0a9c,#ff11a8,#ff1ab5,#ff25c4,#ff35d5,#ff48e9,#fd5fff,#e472ff,#cc85ff,#b59aff,#9fb0ff,#8ac7ff,#75e0ff,#62f9ff,#4affec,#35ffd6,#25ffc3,#18ffb3,#0fffa5,#08ff99,#03ff8e,#00ff84,#00ff7b,#00ff73)"></i><i style="background:linear-gradient(90deg,#ff0075,#ff0075,#ff0075,#ff0075,#ff0075,#ff0075,#ff0075,#ff0075,#ff0075,#ff0075,#ff0075,#ff0075,#ff0075,#ff0075,#ff007a,#ff0382,#ff068a,#ff0c94,#ff139f,#ff1dab,#ff29b9,#ff39c9,#ff4ddc,#ff67f2,#f280ff,#d995ff,#c0acff,#a9c3ff,#92dcff,#7df7ff,#61ffed,#48ffd7,#34ffc4,#24ffb3,#18ffa4,#0fff98,#08ff8c,#03ff82,#00ff7a,#00ff72,#00ff6a)"></i><i style="background:linear-gradient(90deg,#ff006c,#ff006c,#ff006c,#ff006c,#ff006c,#ff006c,#ff006c,#ff006c,#ff006c,#ff006c,#ff006c,#ff006c,#ff006c,#ff006d,#ff0173,#ff047a,#ff0882,#ff0e8b,#ff1696,#ff20a1,#ff2eae,#ff3ebe,#ff53cf,#ff6de4,#ff8ffd,#e7a7ff,#cdbfff,#b4d9ff,#9cf4ff,#7dffef,#5effd8,#46ffc4,#33ffb3,#24ffa4,#18ff97,#0fff8b,#08ff81,#03ff78,#01ff70,#00ff69,#00ff62)"></i><i style="background:linear-gradient(90deg,#ff0064,#ff0064,#ff0064,#ff0064,#ff0064,#ff0064,#ff0064,#ff0064,#ff0064,#ff0064,#ff0064,#ff0064,#ff0064,#ff0067,#ff026d,#ff0573,#ff0a7b,#ff1183,#ff198d,#ff2498,#ff32a4,#ff43b2,#ff59c3,#ff74d6,#ff97ed,#f5bbff,#dad5ff,#bff1ff,#9dfff1,#79ffd9,#5bffc4,#44ffb2,#32ffa3,#23ff96,#17ff8a,#0eff80,#08ff77,#03ff6e,#01ff67,#00ff61,#00ff5b)"></i><i style="background:linear-gradient(90deg,#ff005c,#ff005c,#ff005c,#ff005c,#ff005c,#ff005c,#ff005c,#ff005c,#ff005c,#ff005c,#ff005c,#ff005c,#ff005c,#ff0160,#ff0366,#ff076c,#ff0c74,#ff137b,#ff1c84,#ff288f,#ff379a,#ff49a8,#ff5fb7,#ff7cc9,#ff9fdf,#ffccf9,#e8edff,#c3fff3,#97ffda,#75ffc4,#59ffb2,#42ffa2,#31ff95,#22ff89,#17ff7e,#0eff75,#08ff6d,#03ff65,#01ff5f,#00ff59,#00ff53)"></i><i style="background:linear-gradient(90deg,#ff0054,#ff0054,#ff0054,#ff0054,#ff0054,#ff0054,#ff0054,#ff0054,#ff0054,#ff0054,#ff0054,#ff0054,#ff0056,#ff015b,#ff0460,#ff0866,#ff0e6c,#ff1674,#ff207c,#ff2c86,#ff3b91,#ff4e9d,#ff66ac,#ff83bd,#ffa7d1,#ffd5e9,#effff6,#bbffdb,#92ffc5,#71ffb2,#56ffa1,#41ff93,#2fff87,#22ff7d,#17ff73,#0eff6b,#08ff63,#03ff5d,#01ff57,#00ff52,#00ff4d)"></i><i style="background:linear-gradient(90deg,#ff004d,#ff004d,#ff004d,#ff004d,#ff004d,#ff004d,#ff004d,#ff004d,#ff004d,#ff004d,#ff004d,#ff004d,#ff0050,#ff0255,#ff065a,#ff0a5f,#ff1166,#ff196d,#ff2374,#ff307d,#ff4087,#ff5493,#ff6ca1,#ff8ab0,#ffb0c3,#ffdfda,#e6ffdc,#b4ffc5,#8dffb1,#6dffa0,#54ff92,#3fff86,#2eff7b,#21ff71,#16ff69,#0eff62,#08ff5b,#03ff55,#01ff50,#00ff4b,#00ff46)"></i><i style="background:linear-gradient(90deg,#ff0047,#ff0047,#ff0047,#ff0047,#ff0047,#ff0047,#ff0047,#ff0047,#ff0047,#ff0047,#ff0047,#ff0047,#ff014b,#ff034f,#ff0754,#ff0c59,#ff135f,#ff1c65,#ff276d,#ff3475,#ff457e,#ff5989,#ff7396,#ff92a5,#ffb9b6,#ffe9cb,#dcffc5,#aeffb1,#88ffa0,#6aff91,#52ff84,#3eff79,#2dff6f,#20ff67,#16ff60,#0eff59,#08ff53,#04ff4e,#01ff49,#00ff44,#00ff40)"></i><i style="background:linear-gradient(90deg,#ff0041,#ff0041,#ff0041,#ff0041,#ff0041,#ff0041,#ff0041,#ff0041,#ff0041,#ff0041,#ff0041,#ff0043,#ff0246,#ff054a,#ff094e,#ff0e53,#ff1659,#ff1f5f,#ff2a65,#ff396d,#ff4a76,#ff5f80,#ff798c,#ff9a99,#ffc2aa,#fff4bd,#d4ffb0,#a8ff9e,#84ff8f,#67ff82,#4fff77,#3cff6d,#2cff65,#20ff5d,#16ff57,#0eff51,#08ff4b,#04ff47,#01ff42,#00ff3e,#00ff3b)"></i><i style="background:linear-gradient(90deg,#ff003b,#ff003b,#ff003b,#ff003b,#ff003b,#ff003b,#ff003b,#ff003b,#ff003b,#ff003b,#ff003b,#ff013e,#ff0341,#ff0645,#ff0b49,#ff114d,#ff1952,#ff2258,#ff2e5e,#ff3d65,#ff4f6e,#ff6577,#ff8082,#ffa28e,#ffcb9d,#fffeaf,#ccff9d,#a2ff8e,#80ff81,#64ff75,#4dff6b,#3bff63,#2bff5b,#1fff55,#15ff4f,#0eff49,#08ff45,#04ff40,#01ff3c,#00ff39,#00ff36)"></i><i style="background:linear-gradient(90deg,#ff0036,#ff0036,#ff0036,#ff0036,#ff0036,#ff0036,#ff0036,#ff0036,#ff0036,#ff0036,#ff0037,#ff0139,#ff043d,#ff0840,#ff0d44,#ff1348,#ff1b4c,#ff2652,#ff3257,#ff425e,#ff5466,#ff6b6e,#ff8778,#ffaa84,#ffd492,#f6ff9c,#c4ff8c,#9cff7f,#7cff73,#61ff69,#4bff61,#39ff59,#2bff52,#1fff4c,#15ff47,#0eff42,#08ff3e,#04ff3a,#01ff37,#00ff34,#00ff31)"></i><i style="background:linear-gradient(90deg,#ff0031,#ff0031,#ff0031,#ff0031,#ff0031,#ff0031,#ff0031,#ff0031,#ff0031,#ff0031,#ff0033,#ff0235,#ff0538,#ff093b,#ff0f3f,#ff1642,#ff1e47,#ff294b,#ff3651,#ff4657,#ff5a5e,#ff7166,#ff8e6f,#ffb27a,#ffdd87,#ecff8b,#bdff7d,#97ff71,#78ff67,#5eff5e,#49ff57,#38ff50,#2aff4a,#1eff45,#15ff40,#0dff3c,#08ff38,#04ff35,#01ff32,#00ff2f,#00ff2c)"></i><i style="background:linear-gradient(90deg,#ff002c,#ff002c,#ff002c,#ff002c,#ff002c,#ff002c,#ff002c,#ff002c,#ff002c,#ff002c,#ff012f,#ff0331,#ff0634,#ff0b36,#ff113a,#ff183d,#ff2241,#ff2d45,#ff3b4a,#ff4b50,#ff5f56,#ff785e,#ff9666,#ffba70,#ffe77c,#e3ff7b,#b6ff6f,#92ff64,#74ff5c,#5cff54,#47ff4d,#37ff47,#29ff42,#1eff3e,#14ff3a,#0dff36,#08ff33,#04ff2f,#01ff2d,#00ff2a,#00ff28)"></i><i style="background:linear-gradient(90deg,#ff0028,#ff0028,#ff0028,#ff0028,#ff0028,#ff0028,#ff0028,#ff0028,#ff0028,#ff0029,#ff022b,#ff042d,#ff082f,#ff0d32,#ff1335,#ff1b38,#ff253c,#ff3140,#ff3f44,#ff5049,#ff654f,#ff7e56,#ff9d5e,#ffc367,#fff172,#daff6c,#b0ff62,#8dff59,#71ff51,#59ff4b,#45ff45,#35ff40,#28ff3b,#1dff37,#14ff34,#0dff30,#08ff2d,#04ff2b,#01ff28,#00ff26,#00ff24)"></i><i style="background:linear-gradient(90deg,#ff0024,#ff0024,#ff0024,#ff0024,#ff0024,#ff0024,#ff0024,#ff0024,#ff0024,#ff0125,#ff0327,#ff0529,#ff0a2b,#ff0f2e,#ff1630,#ff1e33,#ff2837,#ff343a,#ff433e,#ff5543,#ff6b48,#ff854f,#ffa556,#ffcb5e,#fffb68,#d2ff5f,#aaff56,#89ff4f,#6dff48,#57ff42,#44ff3d,#34ff39,#27ff35,#1cff31,#14ff2e,#0dff2b,#08ff29,#04ff26,#01ff24,#00ff22,#00ff20)"></i><i style="background:linear-gradient(90deg,#ff0020,#ff0020,#ff0020,#ff0020,#ff0020,#ff0020,#ff0020,#ff0020,#ff0021,#ff0122,#ff0424,#ff0725,#ff0b27,#ff112a,#ff182c,#ff212f,#ff2c32,#ff3835,#ff4839,#ff5b3d,#ff7142,#ff8c47,#ffac4e,#ffd455,#f9ff5c,#cbff53,#a4ff4c,#85ff45,#6aff3f,#54ff3a,#42ff36,#33ff32,#26ff2f,#1cff2c,#14ff29,#0dff26,#08ff24,#04ff22,#01ff20,#00ff1e,#00ff1d)"></i><i style="background:linear-gradient(90deg,#ff001c,#ff001c,#ff001c,#ff001c,#ff001c,#ff001c,#ff001c,#ff001c,#ff001d,#ff021f,#ff0520,#ff0822,#ff0d24,#ff1326,#ff1b28,#ff242a,#ff2f2d,#ff3d30,#ff4d33,#ff6037,#ff773c,#ff9341,#ffb446,#ffdd4d,#f0ff50,#c4ff49,#9fff42,#81ff3d,#67ff38,#52ff33,#40ff30,#32ff2c,#25ff29,#1bff27,#13ff24,#0dff22,#08ff20,#04ff1e,#01ff1c,#00ff1b,#00ff1a)"></i><i style="background:linear-gradient(90deg,#ff0019,#ff0019,#ff0019,#ff0019,#ff0019,#ff0019,#ff0019,#ff0019,#ff011b,#ff031c,#ff061d,#ff0a1f,#ff0f20,#ff1622,#ff1e24,#ff2726,#ff3328,#ff412b,#ff512e,#ff6532,#ff7d36,#ff9a3a,#ffbc3f,#ffe645,#e7ff45,#bdff3f,#9aff3a,#7dff35,#64ff31,#50ff2d,#3fff2a,#31ff27,#25ff24,#1bff22,#13ff20,#0cff1e,#07ff1c,#04ff1b,#01ff19,#00ff18,#00ff17)"></i><i style="background:linear-gradient(90deg,#ff0016,#ff0016,#ff0016,#ff0016,#ff0016,#ff0016,#ff0016,#ff0017,#ff0218,#ff0419,#ff071a,#ff0c1b,#ff111d,#ff181e,#ff2020,#ff2b22,#ff3724,#ff4527,#ff5629,#ff6b2c,#ff8430,#ffa134,#ffc539,#ffef3e,#dfff3c,#b6ff36,#95ff32,#79ff2e,#61ff2a,#4eff27,#3dff24,#2fff22,#24ff20,#1aff1e,#13ff1c,#0cff1a,#07ff19,#04ff17,#01ff16,#00ff15,#00ff14)"></i><i style="background:linear-gradient(90deg,#ff0013,#ff0013,#ff0013,#ff0013,#ff0013,#ff0013,#ff0013,#ff0114,#ff0215,#ff0516,#ff0917,#ff0d18,#ff131a,#ff1b1b,#ff231d,#ff2e1e,#ff3b20,#ff4a22,#ff5b25,#ff7127,#ff8a2b,#ffa82e,#ffcd32,#fff937,#d7ff33,#b0ff2f,#90ff2b,#75ff27,#5fff24,#4cff22,#3cff1f,#2eff1d,#23ff1b,#1aff1a,#12ff18,#0cff17,#07ff15,#04ff14,#01ff13,#00ff12,#00ff11)"></i><i style="background:linear-gradient(90deg,#ff0011,#ff0011,#ff0011,#ff0011,#ff0011,#ff0011,#ff0011,#ff0112,#ff0313,#ff0613,#ff0a14,#ff0f15,#ff1616,#ff1d18,#ff2719,#ff321b,#ff3f1c,#ff4e1e,#ff6120,#ff7723,#ff9125,#ffb029,#ffd52c,#fbff30,#cfff2b,#abff28,#8cff24,#72ff22,#5cff1f,#4aff1d,#3aff1b,#2dff19,#22ff17,#19ff16,#12ff15,#0cff14,#07ff12,#04ff11,#01ff11,#00ff10,#00ff0f)"></i><i style="background:linear-gradient(90deg,#ff000e,#ff000e,#ff000e,#ff000e,#ff000e,#ff000e,#ff000f,#ff020f,#ff0410,#ff0811,#ff0c12,#ff1113,#ff1814,#ff2015,#ff2a16,#ff3517,#ff4319,#ff531a,#ff661c,#ff7d1e,#ff9721,#ffb823,#ffde26,#f2ff28,#c8ff25,#a5ff21,#88ff1f,#6fff1c,#5aff1a,#48ff18,#39ff17,#2cff15,#22ff14,#19ff13,#12ff12,#0cff11,#07ff10,#04ff0f,#01ff0e,#00ff0d,#00ff0d)"></i><i style="background:linear-gradient(90deg,#ff000c,#ff000c,#ff000c,#ff000c,#ff000c,#ff000c,#ff010d,#ff030d,#ff050e,#ff090f,#ff0e0f,#ff1310,#ff1b11,#ff2312,#ff2d13,#ff3914,#ff4715,#ff5817,#ff6b18,#ff831a,#ff9e1c,#ffbf1e,#ffe721,#eaff21,#c1ff1e,#a0ff1c,#83ff1a,#6bff18,#57ff16,#46ff14,#38ff13,#2bff12,#21ff11,#18ff10,#11ff0f,#0cff0e,#07ff0d,#04ff0d,#01ff0c,#00ff0b,#00ff0b)"></i><i style="background:linear-gradient(90deg,#ff000a,#ff000a,#ff000a,#ff000a,#ff000a,#ff000a,#ff010b,#ff040b,#ff070c,#ff0b0c,#ff100d,#ff160e,#ff1d0e,#ff260f,#ff3010,#ff3d11,#ff4b12,#ff5d13,#ff7115,#ff8916,#ffa518,#ffc71a,#fff01c,#e1ff1b,#bbff19,#9bff17,#80ff15,#68ff14,#55ff12,#44ff11,#36ff10,#2aff0f,#20ff0e,#18ff0d,#11ff0c,#0bff0c,#07ff0b,#04ff0a,#01ff0a,#00ff09,#00ff09)"></i><i style="background:linear-gradient(90deg,#ff0008,#ff0008,#ff0008,#ff0008,#ff0008,#ff0109,#ff0209,#ff0509,#ff080a,#ff0c0a,#ff120b,#ff180b,#ff200c,#ff290d,#ff340d,#ff410e,#ff500f,#ff6210,#ff7711,#ff8f12,#ffad14,#ffcf16,#fff917,#daff16,#b5ff14,#96ff13,#7cff11,#66ff10,#53ff0f,#43ff0e,#35ff0d,#29ff0c,#20ff0b,#17ff0b,#11ff0a,#0bff0a,#07ff09,#04ff09,#01ff08,#00ff08,#00ff07)"></i><i style="background:linear-gradient(90deg,#ff0007,#ff0007,#ff0007,#ff0007,#ff0007,#ff0107,#ff0307,#ff0608,#ff0908,#ff0e08,#ff1409,#ff1a09,#ff230a,#ff2c0a,#ff370b,#ff450c,#ff540c,#ff670d,#ff7c0e,#ff960f,#ffb410,#ffd812,#fcff13,#d2ff11,#afff10,#91ff0f,#78ff0e,#63ff0d,#51ff0c,#41ff0b,#34ff0a,#28ff0a,#1fff09,#17ff09,#10ff08,#0bff08,#07ff07,#04ff07,#01ff07,#00ff06,#00ff06)"></i><i style="background:linear-gradient(90deg,#ff0005,#ff0005,#ff0005,#ff0005,#ff0005,#ff0206,#ff0406,#ff0706,#ff0b06,#ff1007,#ff1607,#ff1d07,#ff2508,#ff2f08,#ff3b09,#ff4909,#ff590a,#ff6c0a,#ff820b,#ff9c0c,#ffbb0d,#ffe00e,#f3ff0f,#cbff0d,#aaff0c,#8dff0b,#75ff0a,#60ff0a,#4eff09,#3fff08,#32ff08,#28ff07,#1eff07,#17ff07,#10ff06,#0bff06,#07ff06,#04ff05,#01ff05,#00ff05,#00ff05)"></i><i style="background:linear-gradient(90deg,#ff0004,#ff0004,#ff0004,#ff0004,#ff0104,#ff0304,#ff0505,#ff0805,#ff0d05,#ff1205,#ff1805,#ff2006,#ff2806,#ff3306,#ff3f07,#ff4d07,#ff5e08,#ff7108,#ff8809,#ffa309,#ffc30a,#ffe80b,#ebff0b,#c5ff0a,#a4ff09,#89ff08,#71ff08,#5eff07,#4cff07,#3eff06,#31ff06,#27ff06,#1eff05,#16ff05,#10ff05,#0bff04,#07ff04,#03ff04,#01ff04,#00ff04,#00ff04)"></i><i style="background:linear-gradient(90deg,#ff0003,#ff0003,#ff0003,#ff0003,#ff0103,#ff0303,#ff0603,#ff0a03,#ff0e04,#ff1404,#ff1a04,#ff2204,#ff2b04,#ff3605,#ff4305,#ff5205,#ff6306,#ff7706,#ff8e06,#ffaa07,#ffcb07,#fff108,#e3ff08,#beff07,#9fff06,#85ff06,#6eff06,#5bff05,#4aff05,#3cff05,#30ff04,#26ff04,#1dff04,#16ff04,#10ff03,#0aff03,#06ff03,#03ff03,#01ff03,#00ff03,#00ff03)"></i><i style="background:linear-gradient(90deg,#ff0002,#ff0002,#ff0002,#ff0102,#ff0202,#ff0402,#ff0702,#ff0b02,#ff1002,#ff1603,#ff1d03,#ff2503,#ff2f03,#ff3a03,#ff4703,#ff5604,#ff6804,#ff7d04,#ff9504,#ffb105,#ffd205,#fffa05,#dbff05,#b8ff05,#9aff04,#81ff04,#6bff04,#59ff03,#49ff03,#3bff03,#2fff03,#25ff03,#1cff03,#15ff02,#0fff02,#0aff02,#06ff02,#03ff02,#01ff02,#00ff02,#00ff02)"></i><i style="background:linear-gradient(90deg,#ff0001,#ff0001,#ff0001,#ff0101,#ff0301,#ff0501,#ff0901,#ff0d01,#ff1202,#ff1802,#ff1f02,#ff2802,#ff3202,#ff3d02,#ff4b02,#ff5b02,#ff6d02,#ff8202,#ff9b03,#ffb803,#ffdb03,#fbff03,#d4ff03,#b2ff03,#96ff03,#7dff02,#68ff02,#56ff02,#47ff02,#39ff02,#2eff02,#24ff02,#1cff02,#15ff01,#0fff01,#0aff01,#06ff01,#03ff01,#01ff01,#00ff01,#00ff01)"></i><i style="background:linear-gradient(90deg,#ff0001,#ff0001,#ff0001,#ff0201,#ff0401,#ff0701,#ff0a01,#ff0f01,#ff1401,#ff1a01,#ff2201,#ff2b01,#ff3501,#ff4101,#ff4f01,#ff5f01,#ff7201,#ff8801,#ffa201,#ffc001,#ffe302,#f2ff02,#cdff01,#adff01,#91ff01,#7aff01,#65ff01,#54ff01,#45ff01,#38ff01,#2dff01,#23ff01,#1bff01,#14ff01,#0fff01,#0aff01,#06ff01,#03ff01,#01ff01,#00ff01,#00ff01)"></i><i style="background:linear-gradient(90deg,#ff0000,#ff0000,#ff0100,#ff0200,#ff0500,#ff0800,#ff0c00,#ff1000,#ff1600,#ff1d00,#ff2500,#ff2e00,#ff3900,#ff4500,#ff5400,#ff6400,#ff7800,#ff8e00,#ffa800,#ffc700,#ffeb00,#eaff00,#c6ff00,#a7ff00,#8dff00,#76ff00,#63ff00,#52ff00,#43ff00,#37ff00,#2cff00,#23ff00,#1bff00,#14ff00,#0eff00,#0aff00,#06ff00,#03ff00,#01ff00,#00ff00,#00ff00)"></i><i style="background:linear-gradient(90deg,#ff0000,#ff0000,#ff0100,#ff0300,#ff0600,#ff0900,#ff0d00,#ff1200,#ff1800,#ff1f00,#ff2700,#ff3100,#ff3c00,#ff4900,#ff5800,#ff6900,#ff7d00,#ff9400,#ffaf00,#ffcf00,#fff400,#e3ff00,#c0ff00,#a2ff00,#89ff00,#73ff00,#60ff00,#50ff00,#42ff00,#35ff00,#2bff00,#22ff00,#1aff00,#14ff00,#0eff00,#0aff00,#06ff00,#03ff00,#01ff00,#00ff00,#00ff00)"></i></div><svg width="2215" height="1925" style="position:absolute;left:0;top:0;pointer-events:none"><path d="M1760 1042 L2090.6 715.6 A868 868 0 0 1 2149.7 1042 Z" fill="none" stroke="#000" stroke-width="1.6" stroke-linejoin="miter"/></svg>
</body></html>
